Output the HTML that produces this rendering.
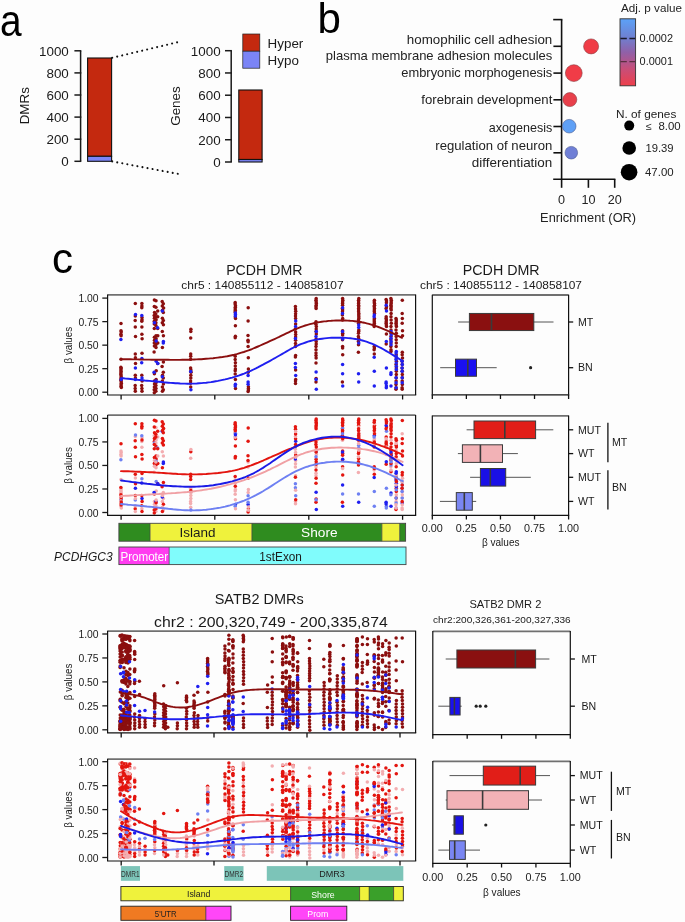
<!DOCTYPE html>
<html><head><meta charset="utf-8"><style>
html,body{margin:0;padding:0;background:#fff;}
svg{display:block;font-family:"Liberation Sans", sans-serif;will-change:transform;}
</style></head><body>
<svg width="685" height="922" viewBox="0 0 685 922" fill="#1a1a1a">
<rect width="685" height="922" fill="#fdfdfd"/>
<text x="0.00" y="35.50" font-size="43.5" fill="#000" textLength="21.6" lengthAdjust="spacingAndGlyphs">a</text>
<line x1="80.60" y1="50.80" x2="80.60" y2="161.30" stroke="#1a1a1a" stroke-width="1.5" />
<line x1="74.40" y1="161.30" x2="81.30" y2="161.30" stroke="#1a1a1a" stroke-width="1.5" />
<text x="68.80" y="166.10" font-size="13.4" text-anchor="end">0</text>
<line x1="74.40" y1="139.20" x2="81.30" y2="139.20" stroke="#1a1a1a" stroke-width="1.5" />
<text x="68.80" y="144.00" font-size="13.4" text-anchor="end">200</text>
<line x1="74.40" y1="117.10" x2="81.30" y2="117.10" stroke="#1a1a1a" stroke-width="1.5" />
<text x="68.80" y="121.90" font-size="13.4" text-anchor="end">400</text>
<line x1="74.40" y1="95.00" x2="81.30" y2="95.00" stroke="#1a1a1a" stroke-width="1.5" />
<text x="68.80" y="99.80" font-size="13.4" text-anchor="end">600</text>
<line x1="74.40" y1="72.90" x2="81.30" y2="72.90" stroke="#1a1a1a" stroke-width="1.5" />
<text x="68.80" y="77.70" font-size="13.4" text-anchor="end">800</text>
<line x1="74.40" y1="50.80" x2="81.30" y2="50.80" stroke="#1a1a1a" stroke-width="1.5" />
<text x="68.80" y="55.60" font-size="13.4" text-anchor="end">1000</text>
<text x="29.20" y="105.70" font-size="13.4" text-anchor="middle" transform="rotate(-90 29.20 105.70)">DMRs</text>
<rect x="87.60" y="58.00" width="24.00" height="98.30" fill="#c4290f" stroke="#111" stroke-width="1.1"/>
<rect x="87.60" y="156.30" width="24.00" height="5.00" fill="#7b84f6" stroke="#111" stroke-width="1.1"/>
<line x1="231.20" y1="50.70" x2="231.20" y2="162.00" stroke="#1a1a1a" stroke-width="1.5" />
<line x1="225.00" y1="162.00" x2="231.90" y2="162.00" stroke="#1a1a1a" stroke-width="1.5" />
<text x="220.60" y="166.80" font-size="13.4" text-anchor="end">0</text>
<line x1="225.00" y1="139.74" x2="231.90" y2="139.74" stroke="#1a1a1a" stroke-width="1.5" />
<text x="220.60" y="144.54" font-size="13.4" text-anchor="end">200</text>
<line x1="225.00" y1="117.48" x2="231.90" y2="117.48" stroke="#1a1a1a" stroke-width="1.5" />
<text x="220.60" y="122.28" font-size="13.4" text-anchor="end">400</text>
<line x1="225.00" y1="95.22" x2="231.90" y2="95.22" stroke="#1a1a1a" stroke-width="1.5" />
<text x="220.60" y="100.02" font-size="13.4" text-anchor="end">600</text>
<line x1="225.00" y1="72.96" x2="231.90" y2="72.96" stroke="#1a1a1a" stroke-width="1.5" />
<text x="220.60" y="77.76" font-size="13.4" text-anchor="end">800</text>
<line x1="225.00" y1="50.70" x2="231.90" y2="50.70" stroke="#1a1a1a" stroke-width="1.5" />
<text x="220.60" y="55.50" font-size="13.4" text-anchor="end">1000</text>
<text x="179.60" y="106.00" font-size="13.4" text-anchor="middle" transform="rotate(-90 179.60 106.00)">Genes</text>
<rect x="238.80" y="90.00" width="23.30" height="69.50" fill="#c4290f" stroke="#111" stroke-width="1.1"/>
<rect x="238.80" y="159.50" width="23.30" height="2.50" fill="#7b84f6" stroke="#111" stroke-width="1.1"/>
<line x1="112.20" y1="57.80" x2="178.60" y2="42.00" stroke="#111" stroke-width="2.1" stroke-dasharray="0.01 5.12" stroke-linecap="round"/>
<line x1="112.20" y1="161.40" x2="178.80" y2="174.00" stroke="#111" stroke-width="2.1" stroke-dasharray="0.01 5.12" stroke-linecap="round"/>
<rect x="242.80" y="34.00" width="17.00" height="17.20" fill="#c4290f" stroke="#222" stroke-width="0.7"/>
<rect x="242.80" y="51.20" width="17.00" height="17.00" fill="#7b84f6" stroke="#222" stroke-width="0.7"/>
<text x="267.60" y="48.20" font-size="13.4">Hyper</text>
<text x="267.60" y="65.40" font-size="13.4">Hypo</text>
<text x="317.40" y="33.00" font-size="42" fill="#000">b</text>
<line x1="561.60" y1="19.60" x2="561.60" y2="179.20" stroke="#111" stroke-width="1.6" />
<line x1="553.20" y1="19.60" x2="562.40" y2="19.60" stroke="#111" stroke-width="1.6" />
<line x1="553.20" y1="179.20" x2="615.40" y2="179.20" stroke="#111" stroke-width="1.6" />
<line x1="553.40" y1="46.30" x2="561.60" y2="46.30" stroke="#111" stroke-width="1.6" />
<line x1="553.40" y1="73.10" x2="561.60" y2="73.10" stroke="#111" stroke-width="1.6" />
<line x1="553.40" y1="99.80" x2="561.60" y2="99.80" stroke="#111" stroke-width="1.6" />
<line x1="553.40" y1="126.50" x2="561.60" y2="126.50" stroke="#111" stroke-width="1.6" />
<line x1="553.40" y1="152.80" x2="561.60" y2="152.80" stroke="#111" stroke-width="1.6" />
<line x1="561.60" y1="179.20" x2="561.60" y2="187.80" stroke="#111" stroke-width="1.6" />
<line x1="588.40" y1="179.20" x2="588.40" y2="187.80" stroke="#111" stroke-width="1.6" />
<line x1="614.70" y1="179.20" x2="614.70" y2="187.80" stroke="#111" stroke-width="1.6" />
<text x="561.60" y="204.30" font-size="12.6" text-anchor="middle" fill="#222">0</text>
<text x="588.40" y="204.30" font-size="12.6" text-anchor="middle" fill="#222">10</text>
<text x="614.70" y="204.30" font-size="12.6" text-anchor="middle" fill="#222">20</text>
<text x="588.10" y="222.30" font-size="12.6" text-anchor="middle" fill="#222" textLength="96" lengthAdjust="spacingAndGlyphs">Enrichment (OR)</text>
<text x="552.30" y="44.20" font-size="12.8" text-anchor="end" fill="#222" textLength="145.5" lengthAdjust="spacingAndGlyphs">homophilic cell adhesion</text>
<text x="552.30" y="60.00" font-size="12.8" text-anchor="end" fill="#222" textLength="226.5" lengthAdjust="spacingAndGlyphs">plasma membrane adhesion molecules</text>
<text x="552.30" y="76.90" font-size="12.8" text-anchor="end" fill="#222" textLength="151" lengthAdjust="spacingAndGlyphs">embryonic morphogenesis</text>
<text x="552.30" y="104.40" font-size="12.8" text-anchor="end" fill="#222" textLength="131" lengthAdjust="spacingAndGlyphs">forebrain development</text>
<text x="552.30" y="131.60" font-size="12.8" text-anchor="end" fill="#222" textLength="63.5" lengthAdjust="spacingAndGlyphs">axogenesis</text>
<text x="552.30" y="149.60" font-size="12.8" text-anchor="end" fill="#222" textLength="117" lengthAdjust="spacingAndGlyphs">regulation of neuron</text>
<text x="552.30" y="166.60" font-size="12.8" text-anchor="end" fill="#222" textLength="80.5" lengthAdjust="spacingAndGlyphs">differentiation</text>
<circle cx="591.10" cy="46.40" r="7.50" fill="#f03c46" stroke="#8a3a40" stroke-width="0.6"/>
<circle cx="573.80" cy="73.10" r="8.40" fill="#f03c47" stroke="#8a3a40" stroke-width="0.6"/>
<circle cx="569.80" cy="99.60" r="7.00" fill="#e8404b" stroke="#8a3a40" stroke-width="0.6"/>
<circle cx="569.20" cy="126.20" r="6.80" fill="#5fa0f6" stroke="#4a5a90" stroke-width="0.6"/>
<circle cx="571.30" cy="152.70" r="6.30" fill="#6f7fd6" stroke="#4a5a90" stroke-width="0.6"/>
<defs><linearGradient id="cb" x1="0" y1="0" x2="0" y2="1"><stop offset="0" stop-color="#5ca2f8"/><stop offset="0.28" stop-color="#6f80d0"/><stop offset="0.5" stop-color="#9060a8"/><stop offset="0.75" stop-color="#c84e78"/><stop offset="1" stop-color="#ee3f4b"/></linearGradient></defs>
<rect x="620.00" y="18.80" width="15.60" height="67.00" fill="url(#cb)" stroke="#333" stroke-width="0.9"/>
<line x1="620.40" y1="38.50" x2="635.20" y2="38.50" stroke="#1a1a2a" stroke-width="1.3" stroke-dasharray="6.4 2.6"/>
<line x1="620.40" y1="61.70" x2="635.20" y2="61.70" stroke="#5a3040" stroke-width="1.3" stroke-dasharray="6.4 2.6"/>
<text x="639.60" y="41.60" font-size="10.6" fill="#222" textLength="33.4" lengthAdjust="spacingAndGlyphs">0.0002</text>
<text x="639.60" y="65.00" font-size="10.6" fill="#222" textLength="33.4" lengthAdjust="spacingAndGlyphs">0.0001</text>
<text x="621.00" y="12.40" font-size="10.6" fill="#222" textLength="61" lengthAdjust="spacingAndGlyphs">Adj. p value</text>
<text x="616.00" y="117.90" font-size="10.6" fill="#222" textLength="60.3" lengthAdjust="spacingAndGlyphs">N. of genes</text>
<circle cx="629.20" cy="125.60" r="5.00" fill="#000"/>
<circle cx="629.20" cy="148.00" r="6.80" fill="#000"/>
<circle cx="629.10" cy="172.20" r="8.30" fill="#000"/>
<text x="646.00" y="130.00" font-size="10.6" fill="#222">≤</text>
<text x="658.40" y="130.00" font-size="10.6" fill="#222" textLength="22.2" lengthAdjust="spacingAndGlyphs">8.00</text>
<text x="645.40" y="151.90" font-size="10.6" fill="#222" textLength="28.2" lengthAdjust="spacingAndGlyphs">19.39</text>
<text x="645.00" y="175.90" font-size="10.6" fill="#222" textLength="28.6" lengthAdjust="spacingAndGlyphs">47.00</text>
<text x="52.00" y="272.60" font-size="42" fill="#000">c</text>
<text x="264.30" y="275.20" font-size="14.0" text-anchor="middle" textLength="76.3" lengthAdjust="spacingAndGlyphs">PCDH DMR</text>
<text x="262.50" y="289.20" font-size="11.0" text-anchor="middle" textLength="162.3" lengthAdjust="spacingAndGlyphs">chr5 : 140855112 - 140858107</text>
<line x1="102.30" y1="392.20" x2="107.60" y2="392.20" stroke="#1a1a1a" stroke-width="1.3" />
<text x="98.60" y="396.20" font-size="10.3" text-anchor="end" textLength="20.2" lengthAdjust="spacingAndGlyphs">0.00</text>
<line x1="102.30" y1="368.68" x2="107.60" y2="368.68" stroke="#1a1a1a" stroke-width="1.3" />
<text x="98.60" y="372.68" font-size="10.3" text-anchor="end" textLength="20.2" lengthAdjust="spacingAndGlyphs">0.25</text>
<line x1="102.30" y1="345.15" x2="107.60" y2="345.15" stroke="#1a1a1a" stroke-width="1.3" />
<text x="98.60" y="349.15" font-size="10.3" text-anchor="end" textLength="20.2" lengthAdjust="spacingAndGlyphs">0.50</text>
<line x1="102.30" y1="321.62" x2="107.60" y2="321.62" stroke="#1a1a1a" stroke-width="1.3" />
<text x="98.60" y="325.62" font-size="10.3" text-anchor="end" textLength="20.2" lengthAdjust="spacingAndGlyphs">0.75</text>
<line x1="102.30" y1="298.10" x2="107.60" y2="298.10" stroke="#1a1a1a" stroke-width="1.3" />
<text x="98.60" y="302.10" font-size="10.3" text-anchor="end" textLength="20.2" lengthAdjust="spacingAndGlyphs">1.00</text>
<text x="72.20" y="345.15" font-size="10.2" text-anchor="middle" textLength="36.5" lengthAdjust="spacingAndGlyphs" transform="rotate(-90 72.20 345.15)">β values</text>
<g><circle cx="121.0" cy="323.4" r="1.75" fill="#8b0f0f"/><circle cx="121.0" cy="330.7" r="1.75" fill="#8b0f0f"/><circle cx="121.2" cy="332.1" r="1.75" fill="#8b0f0f"/><circle cx="120.9" cy="334.3" r="1.75" fill="#8b0f0f"/><circle cx="121.1" cy="335.8" r="1.75" fill="#8b0f0f"/><circle cx="121.0" cy="359.2" r="1.75" fill="#8b0f0f"/><circle cx="120.9" cy="367.2" r="1.75" fill="#8b0f0f"/><circle cx="121.1" cy="368.6" r="1.75" fill="#8b0f0f"/><circle cx="120.9" cy="370.1" r="1.75" fill="#8b0f0f"/><circle cx="121.1" cy="371.6" r="1.75" fill="#8b0f0f"/><circle cx="120.9" cy="373.0" r="1.75" fill="#8b0f0f"/><circle cx="120.9" cy="374.5" r="1.75" fill="#8b0f0f"/><circle cx="121.1" cy="375.9" r="1.75" fill="#8b0f0f"/><circle cx="121.2" cy="377.4" r="1.75" fill="#8b0f0f"/><circle cx="120.9" cy="378.9" r="1.75" fill="#8b0f0f"/><circle cx="121.0" cy="380.3" r="1.75" fill="#8b0f0f"/><circle cx="121.2" cy="381.8" r="1.75" fill="#8b0f0f"/><circle cx="121.3" cy="383.2" r="1.75" fill="#8b0f0f"/><circle cx="121.1" cy="384.7" r="1.75" fill="#8b0f0f"/><circle cx="121.1" cy="386.2" r="1.75" fill="#8b0f0f"/><circle cx="121.3" cy="387.6" r="1.75" fill="#8b0f0f"/><circle cx="135.3" cy="303.4" r="1.75" fill="#8b0f0f"/><circle cx="135.3" cy="316.1" r="1.75" fill="#8b0f0f"/><circle cx="135.2" cy="320.5" r="1.75" fill="#8b0f0f"/><circle cx="135.3" cy="327.0" r="1.75" fill="#8b0f0f"/><circle cx="135.5" cy="336.5" r="1.75" fill="#8b0f0f"/><circle cx="135.3" cy="354.0" r="1.75" fill="#8b0f0f"/><circle cx="135.4" cy="357.7" r="1.75" fill="#8b0f0f"/><circle cx="135.5" cy="363.5" r="1.75" fill="#8b0f0f"/><circle cx="135.3" cy="375.2" r="1.75" fill="#8b0f0f"/><circle cx="135.4" cy="378.1" r="1.75" fill="#8b0f0f"/><circle cx="135.2" cy="385.4" r="1.75" fill="#8b0f0f"/><circle cx="135.2" cy="388.4" r="1.75" fill="#8b0f0f"/><circle cx="135.3" cy="391.3" r="1.75" fill="#8b0f0f"/><circle cx="141.9" cy="303.4" r="1.75" fill="#8b0f0f"/><circle cx="141.9" cy="305.9" r="1.75" fill="#8b0f0f"/><circle cx="141.8" cy="307.8" r="1.75" fill="#8b0f0f"/><circle cx="142.0" cy="317.5" r="1.75" fill="#8b0f0f"/><circle cx="142.0" cy="319.7" r="1.75" fill="#8b0f0f"/><circle cx="141.8" cy="321.2" r="1.75" fill="#8b0f0f"/><circle cx="141.9" cy="327.0" r="1.75" fill="#8b0f0f"/><circle cx="141.9" cy="334.3" r="1.75" fill="#8b0f0f"/><circle cx="142.1" cy="338.7" r="1.75" fill="#8b0f0f"/><circle cx="142.0" cy="353.3" r="1.75" fill="#8b0f0f"/><circle cx="141.8" cy="375.2" r="1.75" fill="#8b0f0f"/><circle cx="142.1" cy="381.1" r="1.75" fill="#8b0f0f"/><circle cx="141.7" cy="385.4" r="1.75" fill="#8b0f0f"/><circle cx="141.9" cy="388.4" r="1.75" fill="#8b0f0f"/><circle cx="142.0" cy="391.3" r="1.75" fill="#8b0f0f"/><circle cx="154.4" cy="300.0" r="1.75" fill="#8b0f0f"/><circle cx="154.3" cy="306.6" r="1.75" fill="#8b0f0f"/><circle cx="154.5" cy="312.4" r="1.75" fill="#8b0f0f"/><circle cx="154.2" cy="315.4" r="1.75" fill="#8b0f0f"/><circle cx="154.4" cy="318.3" r="1.75" fill="#8b0f0f"/><circle cx="154.3" cy="321.2" r="1.75" fill="#8b0f0f"/><circle cx="154.3" cy="324.1" r="1.75" fill="#8b0f0f"/><circle cx="154.3" cy="328.5" r="1.75" fill="#8b0f0f"/><circle cx="154.4" cy="337.3" r="1.75" fill="#8b0f0f"/><circle cx="154.5" cy="340.2" r="1.75" fill="#8b0f0f"/><circle cx="154.3" cy="343.1" r="1.75" fill="#8b0f0f"/><circle cx="154.4" cy="346.0" r="1.75" fill="#8b0f0f"/><circle cx="154.1" cy="351.9" r="1.75" fill="#8b0f0f"/><circle cx="154.4" cy="373.8" r="1.75" fill="#8b0f0f"/><circle cx="154.4" cy="381.1" r="1.75" fill="#8b0f0f"/><circle cx="154.5" cy="384.0" r="1.75" fill="#8b0f0f"/><circle cx="154.4" cy="386.9" r="1.75" fill="#8b0f0f"/><circle cx="154.2" cy="389.8" r="1.75" fill="#8b0f0f"/><circle cx="154.3" cy="392.7" r="1.75" fill="#8b0f0f"/><circle cx="156.0" cy="300.8" r="1.75" fill="#8b0f0f"/><circle cx="155.9" cy="307.3" r="1.75" fill="#8b0f0f"/><circle cx="155.8" cy="313.9" r="1.75" fill="#8b0f0f"/><circle cx="155.8" cy="316.8" r="1.75" fill="#8b0f0f"/><circle cx="156.1" cy="319.7" r="1.75" fill="#8b0f0f"/><circle cx="155.9" cy="322.7" r="1.75" fill="#8b0f0f"/><circle cx="155.9" cy="325.6" r="1.75" fill="#8b0f0f"/><circle cx="156.0" cy="335.8" r="1.75" fill="#8b0f0f"/><circle cx="156.1" cy="338.7" r="1.75" fill="#8b0f0f"/><circle cx="155.8" cy="341.6" r="1.75" fill="#8b0f0f"/><circle cx="156.0" cy="344.6" r="1.75" fill="#8b0f0f"/><circle cx="156.0" cy="347.5" r="1.75" fill="#8b0f0f"/><circle cx="156.2" cy="370.8" r="1.75" fill="#8b0f0f"/><circle cx="156.1" cy="379.6" r="1.75" fill="#8b0f0f"/><circle cx="156.1" cy="382.5" r="1.75" fill="#8b0f0f"/><circle cx="155.9" cy="385.4" r="1.75" fill="#8b0f0f"/><circle cx="156.0" cy="388.4" r="1.75" fill="#8b0f0f"/><circle cx="155.9" cy="391.3" r="1.75" fill="#8b0f0f"/><circle cx="157.7" cy="311.0" r="1.75" fill="#8b0f0f"/><circle cx="157.7" cy="316.8" r="1.75" fill="#8b0f0f"/><circle cx="157.7" cy="328.5" r="1.75" fill="#8b0f0f"/><circle cx="157.8" cy="335.8" r="1.75" fill="#8b0f0f"/><circle cx="157.8" cy="343.1" r="1.75" fill="#8b0f0f"/><circle cx="157.7" cy="363.5" r="1.75" fill="#8b0f0f"/><circle cx="162.2" cy="301.5" r="1.75" fill="#8b0f0f"/><circle cx="162.3" cy="305.9" r="1.75" fill="#8b0f0f"/><circle cx="162.5" cy="310.2" r="1.75" fill="#8b0f0f"/><circle cx="162.4" cy="318.3" r="1.75" fill="#8b0f0f"/><circle cx="162.3" cy="322.7" r="1.75" fill="#8b0f0f"/><circle cx="162.3" cy="331.4" r="1.75" fill="#8b0f0f"/><circle cx="162.4" cy="347.5" r="1.75" fill="#8b0f0f"/><circle cx="162.1" cy="366.5" r="1.75" fill="#8b0f0f"/><circle cx="162.5" cy="375.2" r="1.75" fill="#8b0f0f"/><circle cx="162.4" cy="381.1" r="1.75" fill="#8b0f0f"/><circle cx="162.4" cy="386.9" r="1.75" fill="#8b0f0f"/><circle cx="162.4" cy="391.3" r="1.75" fill="#8b0f0f"/><circle cx="163.3" cy="303.7" r="1.75" fill="#8b0f0f"/><circle cx="163.6" cy="308.1" r="1.75" fill="#8b0f0f"/><circle cx="163.3" cy="312.4" r="1.75" fill="#8b0f0f"/><circle cx="163.3" cy="320.5" r="1.75" fill="#8b0f0f"/><circle cx="163.4" cy="324.8" r="1.75" fill="#8b0f0f"/><circle cx="163.4" cy="335.8" r="1.75" fill="#8b0f0f"/><circle cx="163.4" cy="362.1" r="1.75" fill="#8b0f0f"/><circle cx="163.3" cy="372.3" r="1.75" fill="#8b0f0f"/><circle cx="163.3" cy="378.1" r="1.75" fill="#8b0f0f"/><circle cx="163.4" cy="384.0" r="1.75" fill="#8b0f0f"/><circle cx="163.3" cy="389.8" r="1.75" fill="#8b0f0f"/><circle cx="190.9" cy="329.2" r="1.75" fill="#8b0f0f"/><circle cx="190.8" cy="331.4" r="1.75" fill="#8b0f0f"/><circle cx="190.7" cy="338.0" r="1.75" fill="#8b0f0f"/><circle cx="190.7" cy="354.0" r="1.75" fill="#8b0f0f"/><circle cx="190.7" cy="356.2" r="1.75" fill="#8b0f0f"/><circle cx="190.7" cy="359.2" r="1.75" fill="#8b0f0f"/><circle cx="190.6" cy="367.9" r="1.75" fill="#8b0f0f"/><circle cx="190.9" cy="370.1" r="1.75" fill="#8b0f0f"/><circle cx="191.0" cy="372.3" r="1.75" fill="#8b0f0f"/><circle cx="190.8" cy="375.2" r="1.75" fill="#8b0f0f"/><circle cx="190.8" cy="378.1" r="1.75" fill="#8b0f0f"/><circle cx="190.6" cy="381.1" r="1.75" fill="#8b0f0f"/><circle cx="190.6" cy="383.2" r="1.75" fill="#8b0f0f"/><circle cx="190.7" cy="386.9" r="1.75" fill="#8b0f0f"/><circle cx="235.2" cy="302.4" r="1.75" fill="#8b0f0f"/><circle cx="235.1" cy="304.0" r="1.75" fill="#8b0f0f"/><circle cx="235.5" cy="305.7" r="1.75" fill="#8b0f0f"/><circle cx="235.3" cy="307.3" r="1.75" fill="#8b0f0f"/><circle cx="235.2" cy="308.9" r="1.75" fill="#8b0f0f"/><circle cx="235.3" cy="310.5" r="1.75" fill="#8b0f0f"/><circle cx="235.1" cy="312.1" r="1.75" fill="#8b0f0f"/><circle cx="235.3" cy="316.9" r="1.75" fill="#8b0f0f"/><circle cx="235.5" cy="318.5" r="1.75" fill="#8b0f0f"/><circle cx="235.4" cy="325.7" r="1.75" fill="#8b0f0f"/><circle cx="235.4" cy="336.2" r="1.75" fill="#8b0f0f"/><circle cx="235.2" cy="337.8" r="1.75" fill="#8b0f0f"/><circle cx="235.2" cy="356.2" r="1.75" fill="#8b0f0f"/><circle cx="235.2" cy="359.4" r="1.75" fill="#8b0f0f"/><circle cx="235.4" cy="362.7" r="1.75" fill="#8b0f0f"/><circle cx="235.3" cy="365.9" r="1.75" fill="#8b0f0f"/><circle cx="235.4" cy="369.1" r="1.75" fill="#8b0f0f"/><circle cx="235.2" cy="370.7" r="1.75" fill="#8b0f0f"/><circle cx="235.2" cy="373.9" r="1.75" fill="#8b0f0f"/><circle cx="235.4" cy="379.5" r="1.75" fill="#8b0f0f"/><circle cx="235.5" cy="388.4" r="1.75" fill="#8b0f0f"/><circle cx="248.2" cy="307.7" r="1.75" fill="#8b0f0f"/><circle cx="248.1" cy="320.9" r="1.75" fill="#8b0f0f"/><circle cx="248.0" cy="335.4" r="1.75" fill="#8b0f0f"/><circle cx="248.0" cy="340.2" r="1.75" fill="#8b0f0f"/><circle cx="248.1" cy="341.8" r="1.75" fill="#8b0f0f"/><circle cx="248.1" cy="346.6" r="1.75" fill="#8b0f0f"/><circle cx="248.3" cy="357.8" r="1.75" fill="#8b0f0f"/><circle cx="248.4" cy="369.1" r="1.75" fill="#8b0f0f"/><circle cx="248.2" cy="372.3" r="1.75" fill="#8b0f0f"/><circle cx="248.4" cy="386.7" r="1.75" fill="#8b0f0f"/><circle cx="248.4" cy="388.4" r="1.75" fill="#8b0f0f"/><circle cx="248.4" cy="390.0" r="1.75" fill="#8b0f0f"/><circle cx="248.1" cy="391.6" r="1.75" fill="#8b0f0f"/><circle cx="295.4" cy="306.5" r="1.75" fill="#8b0f0f"/><circle cx="295.5" cy="308.9" r="1.75" fill="#8b0f0f"/><circle cx="295.7" cy="311.3" r="1.75" fill="#8b0f0f"/><circle cx="295.6" cy="313.7" r="1.75" fill="#8b0f0f"/><circle cx="295.5" cy="316.1" r="1.75" fill="#8b0f0f"/><circle cx="295.6" cy="318.5" r="1.75" fill="#8b0f0f"/><circle cx="295.6" cy="324.1" r="1.75" fill="#8b0f0f"/><circle cx="295.3" cy="328.9" r="1.75" fill="#8b0f0f"/><circle cx="295.6" cy="332.1" r="1.75" fill="#8b0f0f"/><circle cx="295.7" cy="334.6" r="1.75" fill="#8b0f0f"/><circle cx="295.6" cy="337.0" r="1.75" fill="#8b0f0f"/><circle cx="295.6" cy="340.2" r="1.75" fill="#8b0f0f"/><circle cx="295.5" cy="343.4" r="1.75" fill="#8b0f0f"/><circle cx="295.4" cy="346.6" r="1.75" fill="#8b0f0f"/><circle cx="295.6" cy="355.4" r="1.75" fill="#8b0f0f"/><circle cx="295.4" cy="357.0" r="1.75" fill="#8b0f0f"/><circle cx="295.6" cy="369.9" r="1.75" fill="#8b0f0f"/><circle cx="295.7" cy="379.5" r="1.75" fill="#8b0f0f"/><circle cx="295.5" cy="381.1" r="1.75" fill="#8b0f0f"/><circle cx="295.5" cy="383.5" r="1.75" fill="#8b0f0f"/><circle cx="316.2" cy="298.6" r="1.75" fill="#8b0f0f"/><circle cx="316.0" cy="300.2" r="1.75" fill="#8b0f0f"/><circle cx="316.2" cy="301.9" r="1.75" fill="#8b0f0f"/><circle cx="316.3" cy="303.5" r="1.75" fill="#8b0f0f"/><circle cx="316.2" cy="305.2" r="1.75" fill="#8b0f0f"/><circle cx="316.0" cy="306.8" r="1.75" fill="#8b0f0f"/><circle cx="316.1" cy="308.5" r="1.75" fill="#8b0f0f"/><circle cx="316.0" cy="321.7" r="1.75" fill="#8b0f0f"/><circle cx="315.9" cy="324.2" r="1.75" fill="#8b0f0f"/><circle cx="316.3" cy="326.6" r="1.75" fill="#8b0f0f"/><circle cx="316.2" cy="329.1" r="1.75" fill="#8b0f0f"/><circle cx="316.1" cy="331.6" r="1.75" fill="#8b0f0f"/><circle cx="316.3" cy="334.1" r="1.75" fill="#8b0f0f"/><circle cx="316.1" cy="339.0" r="1.75" fill="#8b0f0f"/><circle cx="316.2" cy="341.5" r="1.75" fill="#8b0f0f"/><circle cx="316.2" cy="344.0" r="1.75" fill="#8b0f0f"/><circle cx="316.0" cy="346.4" r="1.75" fill="#8b0f0f"/><circle cx="316.0" cy="349.7" r="1.75" fill="#8b0f0f"/><circle cx="316.0" cy="353.0" r="1.75" fill="#8b0f0f"/><circle cx="316.0" cy="355.5" r="1.75" fill="#8b0f0f"/><circle cx="316.1" cy="358.0" r="1.75" fill="#8b0f0f"/><circle cx="316.0" cy="362.9" r="1.75" fill="#8b0f0f"/><circle cx="316.1" cy="378.6" r="1.75" fill="#8b0f0f"/><circle cx="316.0" cy="381.9" r="1.75" fill="#8b0f0f"/><circle cx="342.6" cy="298.6" r="1.75" fill="#8b0f0f"/><circle cx="342.8" cy="300.2" r="1.75" fill="#8b0f0f"/><circle cx="342.6" cy="301.9" r="1.75" fill="#8b0f0f"/><circle cx="342.6" cy="303.5" r="1.75" fill="#8b0f0f"/><circle cx="342.6" cy="305.2" r="1.75" fill="#8b0f0f"/><circle cx="342.4" cy="308.5" r="1.75" fill="#8b0f0f"/><circle cx="342.6" cy="310.1" r="1.75" fill="#8b0f0f"/><circle cx="342.5" cy="311.8" r="1.75" fill="#8b0f0f"/><circle cx="342.4" cy="315.1" r="1.75" fill="#8b0f0f"/><circle cx="342.7" cy="318.4" r="1.75" fill="#8b0f0f"/><circle cx="342.5" cy="320.0" r="1.75" fill="#8b0f0f"/><circle cx="342.6" cy="330.8" r="1.75" fill="#8b0f0f"/><circle cx="342.7" cy="333.2" r="1.75" fill="#8b0f0f"/><circle cx="342.6" cy="334.9" r="1.75" fill="#8b0f0f"/><circle cx="342.5" cy="339.8" r="1.75" fill="#8b0f0f"/><circle cx="342.6" cy="346.4" r="1.75" fill="#8b0f0f"/><circle cx="342.6" cy="348.1" r="1.75" fill="#8b0f0f"/><circle cx="342.7" cy="354.7" r="1.75" fill="#8b0f0f"/><circle cx="342.4" cy="381.9" r="1.75" fill="#8b0f0f"/><circle cx="358.8" cy="298.6" r="1.75" fill="#8b0f0f"/><circle cx="358.6" cy="300.2" r="1.75" fill="#8b0f0f"/><circle cx="358.6" cy="301.9" r="1.75" fill="#8b0f0f"/><circle cx="358.6" cy="303.5" r="1.75" fill="#8b0f0f"/><circle cx="358.6" cy="305.2" r="1.75" fill="#8b0f0f"/><circle cx="358.7" cy="306.8" r="1.75" fill="#8b0f0f"/><circle cx="358.6" cy="308.5" r="1.75" fill="#8b0f0f"/><circle cx="358.6" cy="310.1" r="1.75" fill="#8b0f0f"/><circle cx="358.6" cy="311.8" r="1.75" fill="#8b0f0f"/><circle cx="358.8" cy="313.4" r="1.75" fill="#8b0f0f"/><circle cx="358.7" cy="315.1" r="1.75" fill="#8b0f0f"/><circle cx="358.8" cy="316.7" r="1.75" fill="#8b0f0f"/><circle cx="358.8" cy="318.4" r="1.75" fill="#8b0f0f"/><circle cx="358.5" cy="320.0" r="1.75" fill="#8b0f0f"/><circle cx="358.6" cy="323.3" r="1.75" fill="#8b0f0f"/><circle cx="358.8" cy="329.9" r="1.75" fill="#8b0f0f"/><circle cx="358.7" cy="331.6" r="1.75" fill="#8b0f0f"/><circle cx="358.5" cy="333.2" r="1.75" fill="#8b0f0f"/><circle cx="358.4" cy="336.5" r="1.75" fill="#8b0f0f"/><circle cx="358.6" cy="338.2" r="1.75" fill="#8b0f0f"/><circle cx="358.4" cy="341.5" r="1.75" fill="#8b0f0f"/><circle cx="358.5" cy="344.8" r="1.75" fill="#8b0f0f"/><circle cx="358.4" cy="352.2" r="1.75" fill="#8b0f0f"/><circle cx="374.4" cy="300.2" r="1.75" fill="#8b0f0f"/><circle cx="374.2" cy="301.9" r="1.75" fill="#8b0f0f"/><circle cx="374.5" cy="303.5" r="1.75" fill="#8b0f0f"/><circle cx="374.5" cy="305.2" r="1.75" fill="#8b0f0f"/><circle cx="374.2" cy="306.8" r="1.75" fill="#8b0f0f"/><circle cx="374.5" cy="308.5" r="1.75" fill="#8b0f0f"/><circle cx="374.3" cy="310.1" r="1.75" fill="#8b0f0f"/><circle cx="374.3" cy="311.8" r="1.75" fill="#8b0f0f"/><circle cx="374.5" cy="313.4" r="1.75" fill="#8b0f0f"/><circle cx="374.4" cy="318.4" r="1.75" fill="#8b0f0f"/><circle cx="374.2" cy="320.0" r="1.75" fill="#8b0f0f"/><circle cx="374.3" cy="321.7" r="1.75" fill="#8b0f0f"/><circle cx="374.3" cy="323.3" r="1.75" fill="#8b0f0f"/><circle cx="374.2" cy="325.0" r="1.75" fill="#8b0f0f"/><circle cx="374.2" cy="326.6" r="1.75" fill="#8b0f0f"/><circle cx="374.2" cy="346.4" r="1.75" fill="#8b0f0f"/><circle cx="374.4" cy="348.1" r="1.75" fill="#8b0f0f"/><circle cx="374.1" cy="349.7" r="1.75" fill="#8b0f0f"/><circle cx="374.3" cy="353.9" r="1.75" fill="#8b0f0f"/><circle cx="386.1" cy="299.4" r="1.75" fill="#8b0f0f"/><circle cx="386.5" cy="301.1" r="1.75" fill="#8b0f0f"/><circle cx="386.4" cy="302.7" r="1.75" fill="#8b0f0f"/><circle cx="386.5" cy="306.8" r="1.75" fill="#8b0f0f"/><circle cx="386.1" cy="308.5" r="1.75" fill="#8b0f0f"/><circle cx="386.2" cy="316.7" r="1.75" fill="#8b0f0f"/><circle cx="386.1" cy="318.4" r="1.75" fill="#8b0f0f"/><circle cx="386.4" cy="320.0" r="1.75" fill="#8b0f0f"/><circle cx="386.2" cy="321.7" r="1.75" fill="#8b0f0f"/><circle cx="386.2" cy="323.3" r="1.75" fill="#8b0f0f"/><circle cx="386.3" cy="325.0" r="1.75" fill="#8b0f0f"/><circle cx="386.5" cy="326.6" r="1.75" fill="#8b0f0f"/><circle cx="386.4" cy="334.1" r="1.75" fill="#8b0f0f"/><circle cx="386.2" cy="344.0" r="1.75" fill="#8b0f0f"/><circle cx="390.9" cy="298.6" r="1.75" fill="#8b0f0f"/><circle cx="391.3" cy="300.2" r="1.75" fill="#8b0f0f"/><circle cx="391.2" cy="301.9" r="1.75" fill="#8b0f0f"/><circle cx="391.2" cy="303.5" r="1.75" fill="#8b0f0f"/><circle cx="390.9" cy="305.2" r="1.75" fill="#8b0f0f"/><circle cx="391.2" cy="306.8" r="1.75" fill="#8b0f0f"/><circle cx="390.9" cy="308.5" r="1.75" fill="#8b0f0f"/><circle cx="391.2" cy="310.1" r="1.75" fill="#8b0f0f"/><circle cx="391.1" cy="313.4" r="1.75" fill="#8b0f0f"/><circle cx="391.0" cy="316.7" r="1.75" fill="#8b0f0f"/><circle cx="391.1" cy="320.0" r="1.75" fill="#8b0f0f"/><circle cx="391.3" cy="323.3" r="1.75" fill="#8b0f0f"/><circle cx="391.0" cy="326.6" r="1.75" fill="#8b0f0f"/><circle cx="391.0" cy="329.9" r="1.75" fill="#8b0f0f"/><circle cx="391.1" cy="333.2" r="1.75" fill="#8b0f0f"/><circle cx="391.0" cy="336.5" r="1.75" fill="#8b0f0f"/><circle cx="390.9" cy="339.8" r="1.75" fill="#8b0f0f"/><circle cx="391.0" cy="343.1" r="1.75" fill="#8b0f0f"/><circle cx="390.9" cy="346.4" r="1.75" fill="#8b0f0f"/><circle cx="391.0" cy="349.7" r="1.75" fill="#8b0f0f"/><circle cx="391.0" cy="351.4" r="1.75" fill="#8b0f0f"/><circle cx="396.0" cy="318.4" r="1.75" fill="#8b0f0f"/><circle cx="396.3" cy="320.0" r="1.75" fill="#8b0f0f"/><circle cx="396.2" cy="321.7" r="1.75" fill="#8b0f0f"/><circle cx="396.1" cy="323.3" r="1.75" fill="#8b0f0f"/><circle cx="396.2" cy="325.0" r="1.75" fill="#8b0f0f"/><circle cx="396.4" cy="326.6" r="1.75" fill="#8b0f0f"/><circle cx="396.0" cy="329.9" r="1.75" fill="#8b0f0f"/><circle cx="396.3" cy="333.2" r="1.75" fill="#8b0f0f"/><circle cx="396.2" cy="336.5" r="1.75" fill="#8b0f0f"/><circle cx="396.2" cy="339.8" r="1.75" fill="#8b0f0f"/><circle cx="396.3" cy="343.1" r="1.75" fill="#8b0f0f"/><circle cx="396.2" cy="346.4" r="1.75" fill="#8b0f0f"/><circle cx="396.2" cy="354.7" r="1.75" fill="#8b0f0f"/><circle cx="396.3" cy="358.0" r="1.75" fill="#8b0f0f"/><circle cx="396.4" cy="361.3" r="1.75" fill="#8b0f0f"/><circle cx="396.1" cy="364.6" r="1.75" fill="#8b0f0f"/><circle cx="396.3" cy="367.9" r="1.75" fill="#8b0f0f"/><circle cx="396.3" cy="371.2" r="1.75" fill="#8b0f0f"/><circle cx="396.3" cy="374.5" r="1.75" fill="#8b0f0f"/><circle cx="396.2" cy="377.8" r="1.75" fill="#8b0f0f"/><circle cx="396.1" cy="381.1" r="1.75" fill="#8b0f0f"/><circle cx="396.0" cy="384.4" r="1.75" fill="#8b0f0f"/><circle cx="396.1" cy="387.7" r="1.75" fill="#8b0f0f"/><circle cx="396.0" cy="389.3" r="1.75" fill="#8b0f0f"/><circle cx="402.3" cy="300.2" r="1.75" fill="#8b0f0f"/><circle cx="402.2" cy="313.4" r="1.75" fill="#8b0f0f"/><circle cx="402.3" cy="318.4" r="1.75" fill="#8b0f0f"/><circle cx="402.2" cy="323.3" r="1.75" fill="#8b0f0f"/><circle cx="402.5" cy="330.8" r="1.75" fill="#8b0f0f"/><circle cx="402.5" cy="335.7" r="1.75" fill="#8b0f0f"/><circle cx="402.3" cy="352.2" r="1.75" fill="#8b0f0f"/><circle cx="402.2" cy="354.7" r="1.75" fill="#8b0f0f"/><circle cx="402.5" cy="358.0" r="1.75" fill="#8b0f0f"/><circle cx="402.2" cy="361.3" r="1.75" fill="#8b0f0f"/><circle cx="402.2" cy="364.6" r="1.75" fill="#8b0f0f"/><circle cx="402.1" cy="367.9" r="1.75" fill="#8b0f0f"/><circle cx="402.3" cy="371.2" r="1.75" fill="#8b0f0f"/><circle cx="402.3" cy="374.5" r="1.75" fill="#8b0f0f"/><circle cx="402.3" cy="377.8" r="1.75" fill="#8b0f0f"/><circle cx="402.2" cy="381.1" r="1.75" fill="#8b0f0f"/><circle cx="402.3" cy="384.4" r="1.75" fill="#8b0f0f"/><circle cx="402.1" cy="387.7" r="1.75" fill="#8b0f0f"/><circle cx="402.2" cy="389.3" r="1.75" fill="#8b0f0f"/><circle cx="120.9" cy="339.4" r="1.75" fill="#1f1ff0"/><circle cx="121.2" cy="379.6" r="1.75" fill="#1f1ff0"/><circle cx="135.5" cy="314.6" r="1.75" fill="#1f1ff0"/><circle cx="135.4" cy="367.9" r="1.75" fill="#1f1ff0"/><circle cx="135.3" cy="379.6" r="1.75" fill="#1f1ff0"/><circle cx="141.8" cy="315.4" r="1.75" fill="#1f1ff0"/><circle cx="141.9" cy="358.4" r="1.75" fill="#1f1ff0"/><circle cx="141.7" cy="362.8" r="1.75" fill="#1f1ff0"/><circle cx="142.0" cy="378.1" r="1.75" fill="#1f1ff0"/><circle cx="154.4" cy="322.7" r="1.75" fill="#1f1ff0"/><circle cx="154.1" cy="372.3" r="1.75" fill="#1f1ff0"/><circle cx="156.2" cy="340.9" r="1.75" fill="#1f1ff0"/><circle cx="156.2" cy="361.3" r="1.75" fill="#1f1ff0"/><circle cx="155.9" cy="381.1" r="1.75" fill="#1f1ff0"/><circle cx="157.6" cy="327.8" r="1.75" fill="#1f1ff0"/><circle cx="157.8" cy="363.5" r="1.75" fill="#1f1ff0"/><circle cx="162.3" cy="311.0" r="1.75" fill="#1f1ff0"/><circle cx="162.3" cy="376.7" r="1.75" fill="#1f1ff0"/><circle cx="163.4" cy="341.6" r="1.75" fill="#1f1ff0"/><circle cx="163.3" cy="343.1" r="1.75" fill="#1f1ff0"/><circle cx="190.7" cy="371.6" r="1.75" fill="#1f1ff0"/><circle cx="190.9" cy="389.8" r="1.75" fill="#1f1ff0"/><circle cx="235.4" cy="312.9" r="1.75" fill="#1f1ff0"/><circle cx="235.4" cy="314.5" r="1.75" fill="#1f1ff0"/><circle cx="235.4" cy="316.1" r="1.75" fill="#1f1ff0"/><circle cx="235.4" cy="384.3" r="1.75" fill="#1f1ff0"/><circle cx="235.2" cy="385.9" r="1.75" fill="#1f1ff0"/><circle cx="248.1" cy="375.5" r="1.75" fill="#1f1ff0"/><circle cx="248.1" cy="381.9" r="1.75" fill="#1f1ff0"/><circle cx="248.1" cy="384.3" r="1.75" fill="#1f1ff0"/><circle cx="295.7" cy="320.9" r="1.75" fill="#1f1ff0"/><circle cx="295.6" cy="326.5" r="1.75" fill="#1f1ff0"/><circle cx="295.4" cy="338.6" r="1.75" fill="#1f1ff0"/><circle cx="295.4" cy="363.5" r="1.75" fill="#1f1ff0"/><circle cx="295.4" cy="367.5" r="1.75" fill="#1f1ff0"/><circle cx="295.7" cy="375.5" r="1.75" fill="#1f1ff0"/><circle cx="316.3" cy="331.6" r="1.75" fill="#1f1ff0"/><circle cx="316.0" cy="336.5" r="1.75" fill="#1f1ff0"/><circle cx="316.1" cy="372.0" r="1.75" fill="#1f1ff0"/><circle cx="316.1" cy="379.4" r="1.75" fill="#1f1ff0"/><circle cx="316.3" cy="389.3" r="1.75" fill="#1f1ff0"/><circle cx="342.6" cy="307.7" r="1.75" fill="#1f1ff0"/><circle cx="342.5" cy="313.4" r="1.75" fill="#1f1ff0"/><circle cx="342.5" cy="331.6" r="1.75" fill="#1f1ff0"/><circle cx="342.7" cy="339.0" r="1.75" fill="#1f1ff0"/><circle cx="342.6" cy="364.6" r="1.75" fill="#1f1ff0"/><circle cx="342.6" cy="373.7" r="1.75" fill="#1f1ff0"/><circle cx="342.7" cy="386.0" r="1.75" fill="#1f1ff0"/><circle cx="358.7" cy="325.0" r="1.75" fill="#1f1ff0"/><circle cx="358.7" cy="327.5" r="1.75" fill="#1f1ff0"/><circle cx="358.8" cy="343.1" r="1.75" fill="#1f1ff0"/><circle cx="358.5" cy="373.7" r="1.75" fill="#1f1ff0"/><circle cx="358.7" cy="381.9" r="1.75" fill="#1f1ff0"/><circle cx="374.3" cy="315.1" r="1.75" fill="#1f1ff0"/><circle cx="374.1" cy="316.7" r="1.75" fill="#1f1ff0"/><circle cx="374.2" cy="357.2" r="1.75" fill="#1f1ff0"/><circle cx="374.3" cy="371.2" r="1.75" fill="#1f1ff0"/><circle cx="374.3" cy="386.0" r="1.75" fill="#1f1ff0"/><circle cx="386.2" cy="305.2" r="1.75" fill="#1f1ff0"/><circle cx="386.5" cy="311.0" r="1.75" fill="#1f1ff0"/><circle cx="386.3" cy="341.5" r="1.75" fill="#1f1ff0"/><circle cx="386.4" cy="367.9" r="1.75" fill="#1f1ff0"/><circle cx="386.1" cy="381.9" r="1.75" fill="#1f1ff0"/><circle cx="386.1" cy="383.6" r="1.75" fill="#1f1ff0"/><circle cx="386.4" cy="386.0" r="1.75" fill="#1f1ff0"/><circle cx="386.3" cy="387.7" r="1.75" fill="#1f1ff0"/><circle cx="391.0" cy="331.6" r="1.75" fill="#1f1ff0"/><circle cx="391.2" cy="334.9" r="1.75" fill="#1f1ff0"/><circle cx="391.0" cy="338.2" r="1.75" fill="#1f1ff0"/><circle cx="391.1" cy="341.5" r="1.75" fill="#1f1ff0"/><circle cx="391.0" cy="344.8" r="1.75" fill="#1f1ff0"/><circle cx="391.0" cy="372.8" r="1.75" fill="#1f1ff0"/><circle cx="390.9" cy="374.5" r="1.75" fill="#1f1ff0"/><circle cx="391.0" cy="386.0" r="1.75" fill="#1f1ff0"/><circle cx="396.3" cy="351.4" r="1.75" fill="#1f1ff0"/><circle cx="396.1" cy="353.0" r="1.75" fill="#1f1ff0"/><circle cx="396.1" cy="356.3" r="1.75" fill="#1f1ff0"/><circle cx="396.0" cy="359.6" r="1.75" fill="#1f1ff0"/><circle cx="396.3" cy="362.9" r="1.75" fill="#1f1ff0"/><circle cx="396.3" cy="366.2" r="1.75" fill="#1f1ff0"/><circle cx="396.3" cy="369.5" r="1.75" fill="#1f1ff0"/><circle cx="396.1" cy="377.8" r="1.75" fill="#1f1ff0"/><circle cx="396.1" cy="382.7" r="1.75" fill="#1f1ff0"/><circle cx="396.1" cy="387.7" r="1.75" fill="#1f1ff0"/><circle cx="402.1" cy="361.3" r="1.75" fill="#1f1ff0"/><circle cx="402.3" cy="364.6" r="1.75" fill="#1f1ff0"/><circle cx="402.1" cy="367.9" r="1.75" fill="#1f1ff0"/><circle cx="402.1" cy="371.2" r="1.75" fill="#1f1ff0"/><circle cx="402.2" cy="377.8" r="1.75" fill="#1f1ff0"/><circle cx="402.2" cy="382.7" r="1.75" fill="#1f1ff0"/></g>
<path d="M121.0,359.2 L123.4,359.2 L125.7,359.3 L128.1,359.3 L130.4,359.3 L132.8,359.4 L135.2,359.4 L137.5,359.4 L139.9,359.5 L142.3,359.5 L144.6,359.6 L147.0,359.6 L149.3,359.6 L151.7,359.7 L154.1,359.7 L156.4,359.7 L158.8,359.7 L161.1,359.8 L163.5,359.8 L165.9,359.8 L168.2,359.8 L170.6,359.9 L172.9,359.9 L175.3,359.9 L177.7,359.9 L180.0,359.9 L182.4,359.8 L184.8,359.8 L187.1,359.7 L189.5,359.7 L191.8,359.6 L194.2,359.5 L196.6,359.4 L198.9,359.3 L201.3,359.2 L203.6,359.0 L206.0,358.8 L208.4,358.6 L210.7,358.4 L213.1,358.2 L215.5,357.9 L217.8,357.6 L220.2,357.3 L222.5,357.0 L224.9,356.6 L227.3,356.2 L229.6,355.7 L232.0,355.2 L234.3,354.7 L236.7,354.1 L239.1,353.4 L241.4,352.7 L243.8,352.0 L246.2,351.2 L248.5,350.4 L250.9,349.5 L253.2,348.5 L255.6,347.5 L258.0,346.5 L260.3,345.5 L262.7,344.4 L265.0,343.4 L267.4,342.3 L269.8,341.2 L272.1,340.2 L274.5,339.1 L276.8,338.0 L279.2,336.9 L281.6,335.7 L283.9,334.6 L286.3,333.4 L288.7,332.3 L291.0,331.2 L293.4,330.1 L295.7,329.0 L298.1,328.1 L300.5,327.2 L302.8,326.3 L305.2,325.5 L307.5,324.8 L309.9,324.2 L312.3,323.6 L314.6,323.0 L317.0,322.5 L319.4,322.1 L321.7,321.7 L324.1,321.4 L326.4,321.2 L328.8,320.9 L331.2,320.8 L333.5,320.6 L335.9,320.5 L338.2,320.5 L340.6,320.5 L343.0,320.5 L345.3,320.5 L347.7,320.6 L350.1,320.8 L352.4,320.9 L354.8,321.2 L357.1,321.5 L359.5,321.8 L361.9,322.3 L364.2,322.7 L366.6,323.3 L368.9,323.9 L371.3,324.6 L373.7,325.4 L376.0,326.2 L378.4,327.0 L380.7,327.9 L383.1,328.9 L385.5,329.9 L387.8,330.9 L390.2,332.0 L392.6,333.1 L394.9,334.3 L397.3,335.5 L399.6,336.6 L402.0,337.8" fill="none" stroke="#8b0f0f" stroke-width="1.9" stroke-linecap="round"/>
<path d="M121.0,378.1 L123.4,378.3 L125.7,378.6 L128.1,378.8 L130.5,379.0 L132.8,379.3 L135.2,379.5 L137.6,379.8 L139.9,380.0 L142.3,380.2 L144.7,380.5 L147.0,380.7 L149.4,380.9 L151.8,381.1 L154.1,381.4 L156.5,381.6 L158.9,381.8 L161.2,382.0 L163.6,382.3 L166.0,382.5 L168.3,382.7 L170.7,382.9 L173.1,383.0 L175.4,383.2 L177.8,383.3 L180.2,383.5 L182.5,383.6 L184.9,383.6 L187.3,383.7 L189.6,383.7 L192.0,383.6 L194.4,383.6 L196.7,383.5 L199.1,383.3 L201.5,383.1 L203.8,382.9 L206.2,382.7 L208.6,382.4 L210.9,382.1 L213.3,381.7 L215.7,381.3 L218.0,380.9 L220.4,380.4 L222.8,379.9 L225.1,379.4 L227.5,378.8 L229.9,378.2 L232.2,377.6 L234.6,376.9 L237.0,376.1 L239.3,375.4 L241.7,374.5 L244.1,373.7 L246.4,372.7 L248.8,371.7 L251.2,370.7 L253.5,369.5 L255.9,368.4 L258.3,367.2 L260.6,365.9 L263.0,364.7 L265.3,363.4 L267.7,362.1 L270.1,360.8 L272.4,359.5 L274.8,358.2 L277.2,356.8 L279.5,355.5 L281.9,354.1 L284.3,352.7 L286.6,351.4 L289.0,350.0 L291.4,348.7 L293.7,347.5 L296.1,346.3 L298.5,345.2 L300.8,344.2 L303.2,343.3 L305.6,342.5 L307.9,341.7 L310.3,341.0 L312.7,340.4 L315.0,339.9 L317.4,339.4 L319.8,339.0 L322.1,338.7 L324.5,338.4 L326.9,338.1 L329.2,337.9 L331.6,337.8 L334.0,337.7 L336.3,337.7 L338.7,337.7 L341.1,337.7 L343.4,337.8 L345.8,337.9 L348.2,338.1 L350.5,338.3 L352.9,338.6 L355.3,339.0 L357.6,339.4 L360.0,339.9 L362.4,340.5 L364.7,341.2 L367.1,341.9 L369.5,342.8 L371.8,343.7 L374.2,344.7 L376.6,345.8 L378.9,347.0 L381.3,348.2 L383.7,349.5 L386.0,350.9 L388.4,352.3 L390.8,353.7 L393.1,355.1 L395.5,356.6 L397.9,358.1 L400.2,359.5 L402.6,361.0" fill="none" stroke="#1f1ff0" stroke-width="1.9" stroke-linecap="round"/>
<line x1="107.60" y1="294.90" x2="415.60" y2="294.90" stroke="#707070" stroke-width="1.8" />
<line x1="107.60" y1="294.60" x2="107.60" y2="395.00" stroke="#111" stroke-width="1.2" />
<line x1="415.60" y1="294.60" x2="415.60" y2="395.00" stroke="#111" stroke-width="1.2" />
<line x1="107.00" y1="395.00" x2="416.20" y2="395.00" stroke="#111" stroke-width="1.2" />
<line x1="121.10" y1="395.00" x2="121.10" y2="399.50" stroke="#111" stroke-width="1.3" />
<line x1="214.80" y1="395.00" x2="214.80" y2="399.50" stroke="#111" stroke-width="1.3" />
<line x1="308.80" y1="395.00" x2="308.80" y2="399.50" stroke="#111" stroke-width="1.3" />
<line x1="402.60" y1="395.00" x2="402.60" y2="399.50" stroke="#111" stroke-width="1.3" />
<line x1="102.30" y1="512.50" x2="107.60" y2="512.50" stroke="#1a1a1a" stroke-width="1.3" />
<text x="98.60" y="516.50" font-size="10.3" text-anchor="end" textLength="20.2" lengthAdjust="spacingAndGlyphs">0.00</text>
<line x1="102.30" y1="488.98" x2="107.60" y2="488.98" stroke="#1a1a1a" stroke-width="1.3" />
<text x="98.60" y="492.98" font-size="10.3" text-anchor="end" textLength="20.2" lengthAdjust="spacingAndGlyphs">0.25</text>
<line x1="102.30" y1="465.45" x2="107.60" y2="465.45" stroke="#1a1a1a" stroke-width="1.3" />
<text x="98.60" y="469.45" font-size="10.3" text-anchor="end" textLength="20.2" lengthAdjust="spacingAndGlyphs">0.50</text>
<line x1="102.30" y1="441.93" x2="107.60" y2="441.93" stroke="#1a1a1a" stroke-width="1.3" />
<text x="98.60" y="445.93" font-size="10.3" text-anchor="end" textLength="20.2" lengthAdjust="spacingAndGlyphs">0.75</text>
<line x1="102.30" y1="418.40" x2="107.60" y2="418.40" stroke="#1a1a1a" stroke-width="1.3" />
<text x="98.60" y="422.40" font-size="10.3" text-anchor="end" textLength="20.2" lengthAdjust="spacingAndGlyphs">1.00</text>
<text x="72.20" y="465.45" font-size="10.2" text-anchor="middle" textLength="36.5" lengthAdjust="spacingAndGlyphs" transform="rotate(-90 72.20 465.45)">β values</text>
<g><circle cx="342.5" cy="432.1" r="1.75" fill="#e3150f"/><circle cx="358.8" cy="437.0" r="1.75" fill="#e3150f"/><circle cx="248.1" cy="441.2" r="1.75" fill="#e3150f"/><circle cx="163.3" cy="498.4" r="1.75" fill="#f3adb0"/><circle cx="135.3" cy="495.5" r="1.75" fill="#e3150f"/><circle cx="402.1" cy="488.2" r="1.75" fill="#6e80f2"/><circle cx="295.7" cy="454.9" r="1.75" fill="#e3150f"/><circle cx="156.1" cy="459.0" r="1.75" fill="#e3150f"/><circle cx="154.3" cy="441.5" r="1.75" fill="#e3150f"/><circle cx="396.0" cy="450.2" r="1.75" fill="#f3adb0"/><circle cx="396.1" cy="476.6" r="1.75" fill="#6e80f2"/><circle cx="295.4" cy="483.8" r="1.75" fill="#6e80f2"/><circle cx="391.0" cy="437.0" r="1.75" fill="#e3150f"/><circle cx="120.9" cy="499.2" r="1.75" fill="#f3adb0"/><circle cx="154.4" cy="443.0" r="1.75" fill="#6e80f2"/><circle cx="163.4" cy="461.9" r="1.75" fill="#1f1ff0"/><circle cx="135.5" cy="483.8" r="1.75" fill="#e3150f"/><circle cx="156.2" cy="491.1" r="1.75" fill="#f3adb0"/><circle cx="295.5" cy="503.8" r="1.75" fill="#f3adb0"/><circle cx="295.3" cy="449.2" r="1.75" fill="#f3adb0"/><circle cx="295.6" cy="452.4" r="1.75" fill="#f3adb0"/><circle cx="156.2" cy="481.6" r="1.75" fill="#6e80f2"/><circle cx="358.8" cy="463.4" r="1.75" fill="#1f1ff0"/><circle cx="120.9" cy="493.3" r="1.75" fill="#f3adb0"/><circle cx="295.6" cy="446.8" r="1.75" fill="#6e80f2"/><circle cx="142.0" cy="437.8" r="1.75" fill="#f3adb0"/><circle cx="391.2" cy="427.1" r="1.75" fill="#e3150f"/><circle cx="342.4" cy="428.8" r="1.75" fill="#e3150f"/><circle cx="396.1" cy="508.0" r="1.75" fill="#6e80f2"/><circle cx="162.3" cy="497.0" r="1.75" fill="#1f1ff0"/><circle cx="235.4" cy="489.4" r="1.75" fill="#f3adb0"/><circle cx="316.0" cy="466.7" r="1.75" fill="#f3adb0"/><circle cx="316.0" cy="420.5" r="1.75" fill="#e3150f"/><circle cx="342.6" cy="428.0" r="1.75" fill="#6e80f2"/><circle cx="402.3" cy="484.9" r="1.75" fill="#6e80f2"/><circle cx="391.1" cy="440.3" r="1.75" fill="#f3adb0"/><circle cx="142.0" cy="498.4" r="1.75" fill="#1f1ff0"/><circle cx="248.1" cy="504.6" r="1.75" fill="#1f1ff0"/><circle cx="374.3" cy="491.5" r="1.75" fill="#6e80f2"/><circle cx="358.8" cy="418.9" r="1.75" fill="#e3150f"/><circle cx="390.9" cy="466.7" r="1.75" fill="#f3adb0"/><circle cx="396.3" cy="491.5" r="1.75" fill="#e3150f"/><circle cx="295.6" cy="460.5" r="1.75" fill="#f3adb0"/><circle cx="295.7" cy="441.2" r="1.75" fill="#1f1ff0"/><circle cx="386.1" cy="419.7" r="1.75" fill="#e3150f"/><circle cx="295.5" cy="463.7" r="1.75" fill="#f3adb0"/><circle cx="390.9" cy="460.1" r="1.75" fill="#e3150f"/><circle cx="396.0" cy="509.6" r="1.75" fill="#e3150f"/><circle cx="386.3" cy="445.3" r="1.75" fill="#e3150f"/><circle cx="121.2" cy="499.9" r="1.75" fill="#1f1ff0"/><circle cx="235.4" cy="456.5" r="1.75" fill="#e3150f"/><circle cx="142.1" cy="459.0" r="1.75" fill="#e3150f"/><circle cx="121.0" cy="479.5" r="1.75" fill="#f3adb0"/><circle cx="163.3" cy="424.0" r="1.75" fill="#e3150f"/><circle cx="156.1" cy="440.0" r="1.75" fill="#f3adb0"/><circle cx="396.1" cy="501.4" r="1.75" fill="#f3adb0"/><circle cx="235.2" cy="429.2" r="1.75" fill="#e3150f"/><circle cx="374.2" cy="440.3" r="1.75" fill="#f3adb0"/><circle cx="402.5" cy="478.3" r="1.75" fill="#f3adb0"/><circle cx="386.3" cy="508.0" r="1.75" fill="#6e80f2"/><circle cx="386.4" cy="488.2" r="1.75" fill="#6e80f2"/><circle cx="163.4" cy="482.4" r="1.75" fill="#e3150f"/><circle cx="396.2" cy="460.1" r="1.75" fill="#f3adb0"/><circle cx="154.2" cy="435.7" r="1.75" fill="#f3adb0"/><circle cx="142.1" cy="501.4" r="1.75" fill="#e3150f"/><circle cx="163.6" cy="428.4" r="1.75" fill="#e3150f"/><circle cx="391.0" cy="506.3" r="1.75" fill="#1f1ff0"/><circle cx="121.1" cy="491.9" r="1.75" fill="#f3adb0"/><circle cx="374.3" cy="432.1" r="1.75" fill="#f3adb0"/><circle cx="190.7" cy="458.3" r="1.75" fill="#f3adb0"/><circle cx="390.9" cy="425.5" r="1.75" fill="#e3150f"/><circle cx="402.3" cy="498.1" r="1.75" fill="#f3adb0"/><circle cx="316.2" cy="449.4" r="1.75" fill="#f3adb0"/><circle cx="141.7" cy="505.7" r="1.75" fill="#e3150f"/><circle cx="396.3" cy="471.7" r="1.75" fill="#1f1ff0"/><circle cx="402.2" cy="498.1" r="1.75" fill="#6e80f2"/><circle cx="295.5" cy="501.4" r="1.75" fill="#f3adb0"/><circle cx="358.6" cy="420.5" r="1.75" fill="#e3150f"/><circle cx="386.2" cy="464.3" r="1.75" fill="#e3150f"/><circle cx="155.9" cy="445.9" r="1.75" fill="#e3150f"/><circle cx="154.4" cy="457.6" r="1.75" fill="#e3150f"/><circle cx="374.1" cy="470.0" r="1.75" fill="#f3adb0"/><circle cx="155.9" cy="427.6" r="1.75" fill="#f3adb0"/><circle cx="163.4" cy="445.1" r="1.75" fill="#e3150f"/><circle cx="154.5" cy="504.3" r="1.75" fill="#f3adb0"/><circle cx="248.1" cy="511.9" r="1.75" fill="#e3150f"/><circle cx="391.2" cy="455.2" r="1.75" fill="#1f1ff0"/><circle cx="141.8" cy="441.5" r="1.75" fill="#f3adb0"/><circle cx="342.5" cy="460.1" r="1.75" fill="#e3150f"/><circle cx="141.7" cy="483.1" r="1.75" fill="#1f1ff0"/><circle cx="402.2" cy="484.9" r="1.75" fill="#e3150f"/><circle cx="235.4" cy="436.4" r="1.75" fill="#6e80f2"/><circle cx="121.2" cy="452.4" r="1.75" fill="#f3adb0"/><circle cx="402.2" cy="503.0" r="1.75" fill="#1f1ff0"/><circle cx="190.7" cy="491.9" r="1.75" fill="#6e80f2"/><circle cx="157.6" cy="448.1" r="1.75" fill="#6e80f2"/><circle cx="156.0" cy="456.1" r="1.75" fill="#e3150f"/><circle cx="235.2" cy="458.1" r="1.75" fill="#e3150f"/><circle cx="154.4" cy="507.2" r="1.75" fill="#f3adb0"/><circle cx="248.1" cy="462.1" r="1.75" fill="#f3adb0"/><circle cx="121.0" cy="451.0" r="1.75" fill="#f3adb0"/><circle cx="157.7" cy="448.8" r="1.75" fill="#e3150f"/><circle cx="374.3" cy="430.4" r="1.75" fill="#e3150f"/><circle cx="190.8" cy="451.7" r="1.75" fill="#e3150f"/><circle cx="391.0" cy="493.1" r="1.75" fill="#1f1ff0"/><circle cx="316.3" cy="509.6" r="1.75" fill="#1f1ff0"/><circle cx="316.3" cy="451.9" r="1.75" fill="#6e80f2"/><circle cx="391.3" cy="443.6" r="1.75" fill="#e3150f"/><circle cx="316.2" cy="425.5" r="1.75" fill="#e3150f"/><circle cx="157.7" cy="437.1" r="1.75" fill="#f3adb0"/><circle cx="342.5" cy="440.3" r="1.75" fill="#f3adb0"/><circle cx="295.4" cy="426.8" r="1.75" fill="#e3150f"/><circle cx="396.2" cy="442.0" r="1.75" fill="#f3adb0"/><circle cx="235.5" cy="426.0" r="1.75" fill="#e3150f"/><circle cx="162.4" cy="501.4" r="1.75" fill="#f3adb0"/><circle cx="396.2" cy="498.1" r="1.75" fill="#e3150f"/><circle cx="190.9" cy="449.5" r="1.75" fill="#f3adb0"/><circle cx="190.7" cy="507.2" r="1.75" fill="#f3adb0"/><circle cx="342.6" cy="425.5" r="1.75" fill="#e3150f"/><circle cx="396.2" cy="445.3" r="1.75" fill="#e3150f"/><circle cx="235.4" cy="499.8" r="1.75" fill="#f3adb0"/><circle cx="374.4" cy="438.7" r="1.75" fill="#f3adb0"/><circle cx="135.3" cy="423.7" r="1.75" fill="#e3150f"/><circle cx="295.5" cy="429.2" r="1.75" fill="#e3150f"/><circle cx="316.2" cy="464.3" r="1.75" fill="#e3150f"/><circle cx="120.9" cy="459.7" r="1.75" fill="#6e80f2"/><circle cx="154.4" cy="494.1" r="1.75" fill="#e3150f"/><circle cx="235.5" cy="438.8" r="1.75" fill="#e3150f"/><circle cx="235.2" cy="422.7" r="1.75" fill="#e3150f"/><circle cx="396.3" cy="483.2" r="1.75" fill="#1f1ff0"/><circle cx="135.3" cy="499.9" r="1.75" fill="#6e80f2"/><circle cx="374.3" cy="443.6" r="1.75" fill="#e3150f"/><circle cx="190.6" cy="501.4" r="1.75" fill="#f3adb0"/><circle cx="121.0" cy="500.6" r="1.75" fill="#f3adb0"/><circle cx="154.4" cy="501.4" r="1.75" fill="#f3adb0"/><circle cx="248.2" cy="428.0" r="1.75" fill="#e3150f"/><circle cx="162.3" cy="426.2" r="1.75" fill="#e3150f"/><circle cx="154.1" cy="472.2" r="1.75" fill="#f3adb0"/><circle cx="316.0" cy="442.0" r="1.75" fill="#e3150f"/><circle cx="235.3" cy="427.6" r="1.75" fill="#e3150f"/><circle cx="386.5" cy="431.3" r="1.75" fill="#6e80f2"/><circle cx="391.0" cy="450.2" r="1.75" fill="#e3150f"/><circle cx="155.8" cy="434.2" r="1.75" fill="#e3150f"/><circle cx="374.2" cy="427.1" r="1.75" fill="#e3150f"/><circle cx="391.0" cy="471.7" r="1.75" fill="#e3150f"/><circle cx="295.6" cy="444.4" r="1.75" fill="#e3150f"/><circle cx="402.1" cy="481.6" r="1.75" fill="#6e80f2"/><circle cx="157.8" cy="463.4" r="1.75" fill="#e3150f"/><circle cx="141.8" cy="435.7" r="1.75" fill="#6e80f2"/><circle cx="295.7" cy="495.8" r="1.75" fill="#6e80f2"/><circle cx="358.5" cy="453.5" r="1.75" fill="#e3150f"/><circle cx="342.6" cy="430.4" r="1.75" fill="#e3150f"/><circle cx="358.6" cy="432.1" r="1.75" fill="#f3adb0"/><circle cx="154.4" cy="438.6" r="1.75" fill="#e3150f"/><circle cx="121.2" cy="497.7" r="1.75" fill="#e3150f"/><circle cx="163.3" cy="440.8" r="1.75" fill="#e3150f"/><circle cx="358.6" cy="458.5" r="1.75" fill="#e3150f"/><circle cx="396.3" cy="463.4" r="1.75" fill="#f3adb0"/><circle cx="396.1" cy="503.0" r="1.75" fill="#6e80f2"/><circle cx="295.6" cy="438.8" r="1.75" fill="#e3150f"/><circle cx="402.5" cy="456.0" r="1.75" fill="#e3150f"/><circle cx="402.2" cy="433.7" r="1.75" fill="#f3adb0"/><circle cx="235.3" cy="437.2" r="1.75" fill="#f3adb0"/><circle cx="154.1" cy="492.6" r="1.75" fill="#1f1ff0"/><circle cx="316.0" cy="483.2" r="1.75" fill="#e3150f"/><circle cx="386.5" cy="427.1" r="1.75" fill="#e3150f"/><circle cx="295.7" cy="499.8" r="1.75" fill="#e3150f"/><circle cx="391.0" cy="465.1" r="1.75" fill="#6e80f2"/><circle cx="248.0" cy="455.7" r="1.75" fill="#e3150f"/><circle cx="190.9" cy="510.1" r="1.75" fill="#6e80f2"/><circle cx="154.5" cy="460.5" r="1.75" fill="#f3adb0"/><circle cx="295.6" cy="475.7" r="1.75" fill="#f3adb0"/><circle cx="386.4" cy="506.3" r="1.75" fill="#6e80f2"/><circle cx="155.9" cy="511.6" r="1.75" fill="#f3adb0"/><circle cx="396.3" cy="488.2" r="1.75" fill="#e3150f"/><circle cx="396.3" cy="489.8" r="1.75" fill="#6e80f2"/><circle cx="316.0" cy="473.3" r="1.75" fill="#f3adb0"/><circle cx="391.2" cy="422.2" r="1.75" fill="#f3adb0"/><circle cx="358.7" cy="445.3" r="1.75" fill="#6e80f2"/><circle cx="396.3" cy="486.5" r="1.75" fill="#1f1ff0"/><circle cx="135.4" cy="488.2" r="1.75" fill="#1f1ff0"/><circle cx="248.1" cy="466.9" r="1.75" fill="#f3adb0"/><circle cx="374.2" cy="466.7" r="1.75" fill="#e3150f"/><circle cx="358.6" cy="425.5" r="1.75" fill="#e3150f"/><circle cx="374.2" cy="445.3" r="1.75" fill="#f3adb0"/><circle cx="342.7" cy="459.3" r="1.75" fill="#1f1ff0"/><circle cx="248.2" cy="492.6" r="1.75" fill="#f3adb0"/><circle cx="295.4" cy="458.9" r="1.75" fill="#1f1ff0"/><circle cx="396.1" cy="443.6" r="1.75" fill="#f3adb0"/><circle cx="295.4" cy="487.8" r="1.75" fill="#6e80f2"/><circle cx="316.0" cy="475.8" r="1.75" fill="#f3adb0"/><circle cx="156.0" cy="508.7" r="1.75" fill="#e3150f"/><circle cx="391.0" cy="458.5" r="1.75" fill="#6e80f2"/><circle cx="162.2" cy="421.8" r="1.75" fill="#e3150f"/><circle cx="135.2" cy="508.7" r="1.75" fill="#e3150f"/><circle cx="402.3" cy="491.5" r="1.75" fill="#f3adb0"/><circle cx="235.1" cy="432.4" r="1.75" fill="#f3adb0"/><circle cx="386.2" cy="425.5" r="1.75" fill="#1f1ff0"/><circle cx="358.8" cy="433.7" r="1.75" fill="#e3150f"/><circle cx="396.2" cy="466.7" r="1.75" fill="#e3150f"/><circle cx="386.2" cy="437.0" r="1.75" fill="#e3150f"/><circle cx="163.3" cy="492.6" r="1.75" fill="#f3adb0"/><circle cx="396.3" cy="453.5" r="1.75" fill="#e3150f"/><circle cx="342.7" cy="475.0" r="1.75" fill="#e3150f"/><circle cx="374.3" cy="435.4" r="1.75" fill="#1f1ff0"/><circle cx="402.3" cy="472.5" r="1.75" fill="#e3150f"/><circle cx="396.2" cy="475.0" r="1.75" fill="#f3adb0"/><circle cx="358.7" cy="451.9" r="1.75" fill="#e3150f"/><circle cx="402.3" cy="420.5" r="1.75" fill="#e3150f"/><circle cx="316.1" cy="428.8" r="1.75" fill="#e3150f"/><circle cx="316.3" cy="454.4" r="1.75" fill="#f3adb0"/><circle cx="402.3" cy="504.7" r="1.75" fill="#f3adb0"/><circle cx="342.6" cy="466.7" r="1.75" fill="#e3150f"/><circle cx="391.1" cy="453.5" r="1.75" fill="#e3150f"/><circle cx="358.4" cy="472.5" r="1.75" fill="#f3adb0"/><circle cx="342.6" cy="468.4" r="1.75" fill="#f3adb0"/><circle cx="295.6" cy="457.3" r="1.75" fill="#f3adb0"/><circle cx="374.2" cy="446.9" r="1.75" fill="#e3150f"/><circle cx="386.1" cy="438.7" r="1.75" fill="#f3adb0"/><circle cx="141.9" cy="426.2" r="1.75" fill="#e3150f"/><circle cx="386.5" cy="421.4" r="1.75" fill="#e3150f"/><circle cx="156.0" cy="464.9" r="1.75" fill="#e3150f"/><circle cx="342.7" cy="506.3" r="1.75" fill="#1f1ff0"/><circle cx="391.0" cy="463.4" r="1.75" fill="#e3150f"/><circle cx="358.4" cy="456.8" r="1.75" fill="#f3adb0"/><circle cx="235.4" cy="483.0" r="1.75" fill="#f3adb0"/><circle cx="396.3" cy="494.8" r="1.75" fill="#f3adb0"/><circle cx="235.4" cy="433.2" r="1.75" fill="#6e80f2"/><circle cx="342.6" cy="418.9" r="1.75" fill="#e3150f"/><circle cx="396.0" cy="504.7" r="1.75" fill="#f3adb0"/><circle cx="156.0" cy="421.1" r="1.75" fill="#e3150f"/><circle cx="391.0" cy="456.8" r="1.75" fill="#e3150f"/><circle cx="402.5" cy="451.1" r="1.75" fill="#e3150f"/><circle cx="235.4" cy="434.8" r="1.75" fill="#1f1ff0"/><circle cx="162.3" cy="431.3" r="1.75" fill="#1f1ff0"/><circle cx="121.1" cy="456.1" r="1.75" fill="#f3adb0"/><circle cx="316.0" cy="470.0" r="1.75" fill="#e3150f"/><circle cx="386.5" cy="446.9" r="1.75" fill="#f3adb0"/><circle cx="342.6" cy="494.0" r="1.75" fill="#6e80f2"/><circle cx="342.6" cy="422.2" r="1.75" fill="#e3150f"/><circle cx="374.5" cy="433.7" r="1.75" fill="#e3150f"/><circle cx="163.4" cy="504.3" r="1.75" fill="#e3150f"/><circle cx="121.1" cy="488.9" r="1.75" fill="#f3adb0"/><circle cx="235.2" cy="494.2" r="1.75" fill="#f3adb0"/><circle cx="135.3" cy="511.6" r="1.75" fill="#f3adb0"/><circle cx="316.1" cy="451.9" r="1.75" fill="#e3150f"/><circle cx="386.3" cy="461.8" r="1.75" fill="#1f1ff0"/><circle cx="295.5" cy="436.4" r="1.75" fill="#f3adb0"/><circle cx="155.9" cy="443.0" r="1.75" fill="#f3adb0"/><circle cx="391.2" cy="423.8" r="1.75" fill="#e3150f"/><circle cx="396.0" cy="479.9" r="1.75" fill="#1f1ff0"/><circle cx="374.2" cy="477.5" r="1.75" fill="#1f1ff0"/><circle cx="316.1" cy="459.3" r="1.75" fill="#e3150f"/><circle cx="391.1" cy="433.7" r="1.75" fill="#e3150f"/><circle cx="162.3" cy="451.7" r="1.75" fill="#f3adb0"/><circle cx="386.4" cy="440.3" r="1.75" fill="#f3adb0"/><circle cx="342.4" cy="435.4" r="1.75" fill="#e3150f"/><circle cx="402.3" cy="438.7" r="1.75" fill="#e3150f"/><circle cx="154.3" cy="426.9" r="1.75" fill="#e3150f"/><circle cx="386.1" cy="502.2" r="1.75" fill="#1f1ff0"/><circle cx="358.7" cy="502.2" r="1.75" fill="#1f1ff0"/><circle cx="235.4" cy="504.6" r="1.75" fill="#1f1ff0"/><circle cx="396.1" cy="484.9" r="1.75" fill="#f3adb0"/><circle cx="190.6" cy="503.5" r="1.75" fill="#f3adb0"/><circle cx="374.5" cy="425.5" r="1.75" fill="#e3150f"/><circle cx="402.3" cy="494.8" r="1.75" fill="#f3adb0"/><circle cx="235.2" cy="476.5" r="1.75" fill="#e3150f"/><circle cx="386.4" cy="423.0" r="1.75" fill="#e3150f"/><circle cx="390.9" cy="494.8" r="1.75" fill="#6e80f2"/><circle cx="396.3" cy="440.3" r="1.75" fill="#e3150f"/><circle cx="190.8" cy="498.4" r="1.75" fill="#f3adb0"/><circle cx="396.1" cy="508.0" r="1.75" fill="#f3adb0"/><circle cx="141.9" cy="454.6" r="1.75" fill="#e3150f"/><circle cx="154.2" cy="510.1" r="1.75" fill="#e3150f"/><circle cx="390.9" cy="428.8" r="1.75" fill="#e3150f"/><circle cx="396.0" cy="438.7" r="1.75" fill="#e3150f"/><circle cx="396.4" cy="446.9" r="1.75" fill="#e3150f"/><circle cx="235.3" cy="430.8" r="1.75" fill="#e3150f"/><circle cx="391.0" cy="470.0" r="1.75" fill="#f3adb0"/><circle cx="358.5" cy="465.1" r="1.75" fill="#e3150f"/><circle cx="155.9" cy="501.4" r="1.75" fill="#1f1ff0"/><circle cx="155.8" cy="437.1" r="1.75" fill="#e3150f"/><circle cx="154.3" cy="463.4" r="1.75" fill="#e3150f"/><circle cx="391.3" cy="420.5" r="1.75" fill="#e3150f"/><circle cx="163.3" cy="510.1" r="1.75" fill="#f3adb0"/><circle cx="358.6" cy="423.8" r="1.75" fill="#e3150f"/><circle cx="248.4" cy="489.4" r="1.75" fill="#f3adb0"/><circle cx="120.9" cy="487.5" r="1.75" fill="#e3150f"/><circle cx="154.3" cy="513.0" r="1.75" fill="#e3150f"/><circle cx="374.3" cy="474.2" r="1.75" fill="#e3150f"/><circle cx="316.3" cy="446.9" r="1.75" fill="#e3150f"/><circle cx="342.7" cy="438.7" r="1.75" fill="#e3150f"/><circle cx="374.4" cy="420.5" r="1.75" fill="#e3150f"/><circle cx="316.2" cy="418.9" r="1.75" fill="#e3150f"/><circle cx="386.2" cy="442.0" r="1.75" fill="#e3150f"/><circle cx="342.4" cy="502.2" r="1.75" fill="#e3150f"/><circle cx="120.9" cy="490.4" r="1.75" fill="#f3adb0"/><circle cx="163.4" cy="456.1" r="1.75" fill="#f3adb0"/><circle cx="142.0" cy="440.0" r="1.75" fill="#e3150f"/><circle cx="374.1" cy="437.0" r="1.75" fill="#6e80f2"/><circle cx="386.2" cy="443.6" r="1.75" fill="#e3150f"/><circle cx="141.8" cy="495.5" r="1.75" fill="#e3150f"/><circle cx="154.3" cy="444.4" r="1.75" fill="#e3150f"/><circle cx="248.4" cy="508.7" r="1.75" fill="#e3150f"/><circle cx="142.0" cy="473.6" r="1.75" fill="#e3150f"/><circle cx="190.7" cy="476.5" r="1.75" fill="#e3150f"/><circle cx="386.1" cy="428.8" r="1.75" fill="#e3150f"/><circle cx="162.3" cy="443.0" r="1.75" fill="#e3150f"/><circle cx="316.0" cy="502.2" r="1.75" fill="#e3150f"/><circle cx="374.3" cy="442.0" r="1.75" fill="#e3150f"/><circle cx="157.7" cy="483.8" r="1.75" fill="#e3150f"/><circle cx="162.1" cy="486.8" r="1.75" fill="#e3150f"/><circle cx="121.1" cy="506.5" r="1.75" fill="#f3adb0"/><circle cx="135.3" cy="474.3" r="1.75" fill="#e3150f"/><circle cx="248.3" cy="478.1" r="1.75" fill="#e3150f"/><circle cx="358.6" cy="422.2" r="1.75" fill="#e3150f"/><circle cx="342.8" cy="420.5" r="1.75" fill="#e3150f"/><circle cx="374.3" cy="506.3" r="1.75" fill="#6e80f2"/><circle cx="135.3" cy="447.3" r="1.75" fill="#e3150f"/><circle cx="342.5" cy="433.7" r="1.75" fill="#6e80f2"/><circle cx="316.1" cy="478.3" r="1.75" fill="#e3150f"/><circle cx="374.5" cy="428.8" r="1.75" fill="#e3150f"/><circle cx="135.5" cy="456.8" r="1.75" fill="#e3150f"/><circle cx="190.8" cy="495.5" r="1.75" fill="#f3adb0"/><circle cx="135.4" cy="478.0" r="1.75" fill="#f3adb0"/><circle cx="316.0" cy="456.8" r="1.75" fill="#6e80f2"/><circle cx="141.9" cy="508.7" r="1.75" fill="#f3adb0"/><circle cx="374.5" cy="423.8" r="1.75" fill="#f3adb0"/><circle cx="190.6" cy="488.2" r="1.75" fill="#f3adb0"/><circle cx="386.1" cy="503.9" r="1.75" fill="#1f1ff0"/><circle cx="142.0" cy="511.6" r="1.75" fill="#e3150f"/><circle cx="295.6" cy="490.2" r="1.75" fill="#f3adb0"/><circle cx="391.2" cy="430.4" r="1.75" fill="#e3150f"/><circle cx="374.4" cy="468.4" r="1.75" fill="#e3150f"/><circle cx="386.4" cy="454.4" r="1.75" fill="#f3adb0"/><circle cx="235.2" cy="506.2" r="1.75" fill="#6e80f2"/><circle cx="135.2" cy="440.8" r="1.75" fill="#e3150f"/><circle cx="157.7" cy="431.3" r="1.75" fill="#e3150f"/><circle cx="342.6" cy="423.8" r="1.75" fill="#e3150f"/><circle cx="358.7" cy="427.1" r="1.75" fill="#f3adb0"/><circle cx="135.2" cy="505.7" r="1.75" fill="#f3adb0"/><circle cx="391.1" cy="461.8" r="1.75" fill="#6e80f2"/><circle cx="120.9" cy="454.6" r="1.75" fill="#f3adb0"/><circle cx="235.4" cy="446.0" r="1.75" fill="#e3150f"/><circle cx="342.6" cy="455.2" r="1.75" fill="#e3150f"/><circle cx="396.2" cy="456.8" r="1.75" fill="#e3150f"/><circle cx="402.2" cy="443.6" r="1.75" fill="#e3150f"/><circle cx="135.3" cy="436.4" r="1.75" fill="#f3adb0"/><circle cx="163.3" cy="432.7" r="1.75" fill="#e3150f"/><circle cx="342.6" cy="484.9" r="1.75" fill="#1f1ff0"/><circle cx="157.8" cy="456.1" r="1.75" fill="#f3adb0"/><circle cx="191.0" cy="492.6" r="1.75" fill="#f3adb0"/><circle cx="248.1" cy="502.2" r="1.75" fill="#6e80f2"/><circle cx="156.2" cy="461.2" r="1.75" fill="#6e80f2"/><circle cx="141.9" cy="423.7" r="1.75" fill="#e3150f"/><circle cx="235.3" cy="486.2" r="1.75" fill="#e3150f"/><circle cx="316.2" cy="422.2" r="1.75" fill="#e3150f"/><circle cx="358.5" cy="440.3" r="1.75" fill="#e3150f"/><circle cx="162.5" cy="430.5" r="1.75" fill="#e3150f"/><circle cx="248.4" cy="507.0" r="1.75" fill="#f3adb0"/><circle cx="135.5" cy="434.9" r="1.75" fill="#6e80f2"/><circle cx="316.3" cy="423.8" r="1.75" fill="#e3150f"/><circle cx="157.8" cy="483.8" r="1.75" fill="#1f1ff0"/><circle cx="316.1" cy="498.9" r="1.75" fill="#e3150f"/><circle cx="396.3" cy="478.3" r="1.75" fill="#e3150f"/><circle cx="141.9" cy="447.3" r="1.75" fill="#f3adb0"/><circle cx="402.2" cy="481.6" r="1.75" fill="#f3adb0"/><circle cx="190.7" cy="474.3" r="1.75" fill="#e3150f"/><circle cx="391.0" cy="446.9" r="1.75" fill="#e3150f"/><circle cx="121.1" cy="496.2" r="1.75" fill="#f3adb0"/><circle cx="163.3" cy="463.4" r="1.75" fill="#1f1ff0"/><circle cx="162.4" cy="507.2" r="1.75" fill="#f3adb0"/><circle cx="121.3" cy="503.5" r="1.75" fill="#e3150f"/><circle cx="155.9" cy="505.7" r="1.75" fill="#f3adb0"/><circle cx="248.1" cy="495.8" r="1.75" fill="#6e80f2"/><circle cx="190.9" cy="490.4" r="1.75" fill="#e3150f"/><circle cx="402.2" cy="509.6" r="1.75" fill="#f3adb0"/><circle cx="358.6" cy="428.8" r="1.75" fill="#e3150f"/><circle cx="235.5" cy="508.7" r="1.75" fill="#f3adb0"/><circle cx="295.6" cy="434.0" r="1.75" fill="#e3150f"/><circle cx="402.2" cy="501.4" r="1.75" fill="#e3150f"/><circle cx="154.4" cy="466.3" r="1.75" fill="#f3adb0"/><circle cx="391.0" cy="451.9" r="1.75" fill="#1f1ff0"/><circle cx="358.8" cy="450.2" r="1.75" fill="#f3adb0"/><circle cx="358.6" cy="430.4" r="1.75" fill="#e3150f"/><circle cx="358.5" cy="494.0" r="1.75" fill="#6e80f2"/><circle cx="120.9" cy="494.8" r="1.75" fill="#e3150f"/><circle cx="141.9" cy="478.7" r="1.75" fill="#6e80f2"/><circle cx="135.4" cy="498.4" r="1.75" fill="#f3adb0"/><circle cx="248.4" cy="510.3" r="1.75" fill="#f3adb0"/><circle cx="316.0" cy="427.1" r="1.75" fill="#e3150f"/><circle cx="316.1" cy="499.7" r="1.75" fill="#6e80f2"/><circle cx="295.4" cy="466.9" r="1.75" fill="#f3adb0"/><circle cx="358.7" cy="447.8" r="1.75" fill="#6e80f2"/><circle cx="396.1" cy="498.1" r="1.75" fill="#6e80f2"/><circle cx="402.1" cy="491.5" r="1.75" fill="#6e80f2"/><circle cx="190.7" cy="479.5" r="1.75" fill="#e3150f"/><circle cx="402.1" cy="508.0" r="1.75" fill="#f3adb0"/><circle cx="235.2" cy="491.0" r="1.75" fill="#f3adb0"/><circle cx="316.1" cy="492.3" r="1.75" fill="#1f1ff0"/><circle cx="156.1" cy="502.8" r="1.75" fill="#e3150f"/><circle cx="235.2" cy="479.7" r="1.75" fill="#f3adb0"/><circle cx="154.3" cy="448.8" r="1.75" fill="#e3150f"/><circle cx="235.1" cy="424.3" r="1.75" fill="#e3150f"/><circle cx="390.9" cy="418.9" r="1.75" fill="#e3150f"/><circle cx="155.8" cy="461.9" r="1.75" fill="#f3adb0"/><circle cx="396.1" cy="473.3" r="1.75" fill="#1f1ff0"/><circle cx="316.2" cy="461.8" r="1.75" fill="#e3150f"/><circle cx="315.9" cy="444.5" r="1.75" fill="#e3150f"/><circle cx="141.8" cy="428.1" r="1.75" fill="#e3150f"/><circle cx="156.1" cy="499.9" r="1.75" fill="#f3adb0"/><circle cx="402.2" cy="475.0" r="1.75" fill="#e3150f"/><circle cx="156.0" cy="467.8" r="1.75" fill="#f3adb0"/><circle cx="162.4" cy="467.8" r="1.75" fill="#e3150f"/><circle cx="154.5" cy="432.7" r="1.75" fill="#e3150f"/><circle cx="358.7" cy="435.4" r="1.75" fill="#e3150f"/><circle cx="358.8" cy="438.7" r="1.75" fill="#e3150f"/><circle cx="295.7" cy="431.6" r="1.75" fill="#f3adb0"/><circle cx="342.7" cy="453.5" r="1.75" fill="#e3150f"/><circle cx="396.4" cy="481.6" r="1.75" fill="#e3150f"/><circle cx="248.0" cy="460.5" r="1.75" fill="#e3150f"/><circle cx="358.6" cy="443.6" r="1.75" fill="#f3adb0"/><circle cx="342.6" cy="451.1" r="1.75" fill="#e3150f"/><circle cx="121.0" cy="443.7" r="1.75" fill="#e3150f"/><circle cx="295.4" cy="477.3" r="1.75" fill="#e3150f"/><circle cx="342.5" cy="451.9" r="1.75" fill="#1f1ff0"/><circle cx="402.1" cy="488.2" r="1.75" fill="#e3150f"/><circle cx="358.4" cy="461.8" r="1.75" fill="#e3150f"/><circle cx="374.2" cy="422.2" r="1.75" fill="#e3150f"/><circle cx="121.3" cy="507.9" r="1.75" fill="#f3adb0"/><circle cx="162.5" cy="495.5" r="1.75" fill="#f3adb0"/><circle cx="162.4" cy="511.6" r="1.75" fill="#e3150f"/><circle cx="162.4" cy="438.6" r="1.75" fill="#e3150f"/><circle cx="121.2" cy="502.1" r="1.75" fill="#e3150f"/><circle cx="121.1" cy="505.0" r="1.75" fill="#e3150f"/><circle cx="154.4" cy="420.3" r="1.75" fill="#e3150f"/></g>
<path d="M121.0,471.1 L123.4,471.2 L125.7,471.2 L128.1,471.3 L130.5,471.4 L132.8,471.5 L135.2,471.6 L137.6,471.7 L139.9,471.8 L142.3,471.9 L144.7,472.0 L147.0,472.1 L149.4,472.2 L151.8,472.3 L154.1,472.4 L156.5,472.6 L158.9,472.7 L161.2,472.9 L163.6,473.0 L166.0,473.2 L168.3,473.4 L170.7,473.5 L173.1,473.7 L175.4,473.8 L177.8,474.0 L180.2,474.1 L182.5,474.2 L184.9,474.3 L187.3,474.4 L189.6,474.4 L192.0,474.4 L194.4,474.4 L196.7,474.4 L199.1,474.3 L201.5,474.2 L203.8,474.1 L206.2,474.0 L208.6,473.8 L210.9,473.6 L213.3,473.4 L215.7,473.2 L218.0,473.0 L220.4,472.7 L222.8,472.4 L225.1,472.1 L227.5,471.8 L229.9,471.3 L232.2,470.9 L234.6,470.4 L237.0,469.8 L239.3,469.2 L241.7,468.5 L244.1,467.8 L246.4,467.0 L248.8,466.2 L251.2,465.4 L253.5,464.5 L255.9,463.5 L258.3,462.6 L260.6,461.6 L263.0,460.6 L265.3,459.5 L267.7,458.5 L270.1,457.5 L272.4,456.4 L274.8,455.3 L277.2,454.3 L279.5,453.3 L281.9,452.2 L284.3,451.2 L286.6,450.2 L289.0,449.2 L291.4,448.3 L293.7,447.3 L296.1,446.4 L298.5,445.4 L300.8,444.5 L303.2,443.7 L305.6,442.9 L307.9,442.1 L310.3,441.4 L312.7,440.7 L315.0,440.1 L317.4,439.6 L319.8,439.1 L322.1,438.7 L324.5,438.4 L326.9,438.1 L329.2,437.9 L331.6,437.7 L334.0,437.6 L336.3,437.6 L338.7,437.6 L341.1,437.6 L343.4,437.7 L345.8,437.9 L348.2,438.0 L350.5,438.3 L352.9,438.6 L355.3,438.9 L357.6,439.3 L360.0,439.8 L362.4,440.3 L364.7,440.8 L367.1,441.4 L369.5,442.0 L371.8,442.7 L374.2,443.4 L376.6,444.2 L378.9,444.9 L381.3,445.8 L383.7,446.6 L386.0,447.5 L388.4,448.4 L390.8,449.4 L393.1,450.4 L395.5,451.4 L397.9,452.5 L400.2,453.6 L402.6,454.7" fill="none" stroke="#e3150f" stroke-width="1.9" stroke-linecap="round"/>
<path d="M121.0,496.0 L123.4,495.9 L125.7,495.8 L128.1,495.7 L130.5,495.5 L132.8,495.4 L135.2,495.3 L137.6,495.1 L139.9,495.0 L142.3,494.9 L144.7,494.8 L147.0,494.6 L149.4,494.5 L151.8,494.4 L154.1,494.2 L156.5,494.1 L158.9,494.0 L161.2,493.8 L163.6,493.7 L166.0,493.6 L168.3,493.4 L170.7,493.3 L173.1,493.1 L175.4,493.0 L177.8,492.8 L180.2,492.6 L182.5,492.4 L184.9,492.2 L187.3,492.0 L189.6,491.7 L192.0,491.5 L194.4,491.2 L196.7,490.9 L199.1,490.6 L201.5,490.3 L203.8,489.9 L206.2,489.5 L208.6,489.1 L210.9,488.7 L213.3,488.2 L215.7,487.7 L218.0,487.2 L220.4,486.7 L222.8,486.1 L225.1,485.6 L227.5,484.9 L229.9,484.3 L232.2,483.7 L234.6,483.0 L237.0,482.3 L239.3,481.6 L241.7,480.8 L244.1,480.1 L246.4,479.2 L248.8,478.4 L251.2,477.5 L253.5,476.6 L255.9,475.7 L258.3,474.7 L260.6,473.7 L263.0,472.6 L265.3,471.6 L267.7,470.4 L270.1,469.3 L272.4,468.1 L274.8,467.0 L277.2,465.8 L279.5,464.6 L281.9,463.4 L284.3,462.2 L286.6,461.0 L289.0,459.8 L291.4,458.6 L293.7,457.5 L296.1,456.4 L298.5,455.4 L300.8,454.4 L303.2,453.6 L305.6,452.7 L307.9,452.0 L310.3,451.3 L312.7,450.7 L315.0,450.2 L317.4,449.7 L319.8,449.2 L322.1,448.8 L324.5,448.5 L326.9,448.2 L329.2,448.0 L331.6,447.8 L334.0,447.7 L336.3,447.6 L338.7,447.5 L341.1,447.5 L343.4,447.6 L345.8,447.6 L348.2,447.7 L350.5,447.9 L352.9,448.0 L355.3,448.2 L357.6,448.5 L360.0,448.7 L362.4,449.1 L364.7,449.4 L367.1,449.8 L369.5,450.2 L371.8,450.7 L374.2,451.2 L376.6,451.8 L378.9,452.4 L381.3,453.2 L383.7,453.9 L386.0,454.8 L388.4,455.6 L390.8,456.6 L393.1,457.6 L395.5,458.6 L397.9,459.7 L400.2,460.8 L402.6,461.9" fill="none" stroke="#f0a0a4" stroke-width="1.9" stroke-linecap="round"/>
<path d="M121.0,480.5 L123.4,480.8 L125.7,481.1 L128.1,481.4 L130.5,481.7 L132.8,482.1 L135.2,482.3 L137.6,482.6 L139.9,482.9 L142.3,483.2 L144.7,483.5 L147.0,483.8 L149.4,484.0 L151.8,484.3 L154.1,484.6 L156.5,484.8 L158.9,485.0 L161.2,485.3 L163.6,485.5 L166.0,485.7 L168.3,485.9 L170.7,486.0 L173.1,486.2 L175.4,486.3 L177.8,486.4 L180.2,486.5 L182.5,486.6 L184.9,486.7 L187.3,486.7 L189.6,486.7 L192.0,486.7 L194.4,486.7 L196.7,486.6 L199.1,486.5 L201.5,486.4 L203.8,486.2 L206.2,486.0 L208.6,485.8 L210.9,485.5 L213.3,485.2 L215.7,484.8 L218.0,484.4 L220.4,484.0 L222.8,483.5 L225.1,483.0 L227.5,482.5 L229.9,481.9 L232.2,481.3 L234.6,480.6 L237.0,479.9 L239.3,479.1 L241.7,478.3 L244.1,477.5 L246.4,476.5 L248.8,475.5 L251.2,474.4 L253.5,473.3 L255.9,472.0 L258.3,470.7 L260.6,469.3 L263.0,467.9 L265.3,466.3 L267.7,464.8 L270.1,463.2 L272.4,461.5 L274.8,459.9 L277.2,458.2 L279.5,456.6 L281.9,455.0 L284.3,453.4 L286.6,451.9 L289.0,450.4 L291.4,448.9 L293.7,447.5 L296.1,446.3 L298.5,445.1 L300.8,444.0 L303.2,443.0 L305.6,442.1 L307.9,441.3 L310.3,440.5 L312.7,439.9 L315.0,439.3 L317.4,438.7 L319.8,438.2 L322.1,437.8 L324.5,437.4 L326.9,437.1 L329.2,436.9 L331.6,436.7 L334.0,436.6 L336.3,436.6 L338.7,436.6 L341.1,436.8 L343.4,437.0 L345.8,437.3 L348.2,437.6 L350.5,438.1 L352.9,438.6 L355.3,439.2 L357.6,439.9 L360.0,440.7 L362.4,441.5 L364.7,442.4 L367.1,443.4 L369.5,444.5 L371.8,445.6 L374.2,446.8 L376.6,448.1 L378.9,449.4 L381.3,450.8 L383.7,452.2 L386.0,453.7 L388.4,455.2 L390.8,456.8 L393.1,458.4 L395.5,460.1 L397.9,461.8 L400.2,463.5 L402.6,465.2" fill="none" stroke="#1a1ae6" stroke-width="1.9" stroke-linecap="round"/>
<path d="M121.0,504.0 L123.4,504.2 L125.7,504.4 L128.1,504.7 L130.5,504.9 L132.8,505.1 L135.2,505.3 L137.6,505.5 L139.9,505.8 L142.3,506.0 L144.7,506.2 L147.0,506.5 L149.4,506.7 L151.8,506.9 L154.1,507.2 L156.5,507.4 L158.9,507.7 L161.2,508.0 L163.6,508.2 L166.0,508.5 L168.3,508.8 L170.7,509.0 L173.1,509.3 L175.4,509.5 L177.8,509.7 L180.2,509.9 L182.5,510.1 L184.9,510.2 L187.3,510.3 L189.6,510.4 L192.0,510.4 L194.4,510.4 L196.7,510.3 L199.1,510.2 L201.5,510.1 L203.8,509.9 L206.2,509.7 L208.6,509.4 L210.9,509.1 L213.3,508.8 L215.7,508.4 L218.0,508.0 L220.4,507.6 L222.8,507.1 L225.1,506.6 L227.5,506.0 L229.9,505.4 L232.2,504.7 L234.6,504.0 L237.0,503.2 L239.3,502.4 L241.7,501.5 L244.1,500.6 L246.4,499.6 L248.8,498.6 L251.2,497.5 L253.5,496.4 L255.9,495.2 L258.3,493.9 L260.6,492.6 L263.0,491.3 L265.3,489.8 L267.7,488.4 L270.1,486.9 L272.4,485.4 L274.8,483.8 L277.2,482.3 L279.5,480.8 L281.9,479.3 L284.3,477.8 L286.6,476.4 L289.0,475.0 L291.4,473.7 L293.7,472.4 L296.1,471.2 L298.5,470.1 L300.8,469.1 L303.2,468.1 L305.6,467.2 L307.9,466.5 L310.3,465.7 L312.7,465.1 L315.0,464.5 L317.4,463.9 L319.8,463.4 L322.1,463.0 L324.5,462.7 L326.9,462.3 L329.2,462.1 L331.6,461.9 L334.0,461.7 L336.3,461.6 L338.7,461.6 L341.1,461.6 L343.4,461.7 L345.8,461.8 L348.2,462.0 L350.5,462.2 L352.9,462.5 L355.3,462.8 L357.6,463.2 L360.0,463.7 L362.4,464.2 L364.7,464.8 L367.1,465.5 L369.5,466.2 L371.8,467.0 L374.2,467.8 L376.6,468.7 L378.9,469.6 L381.3,470.6 L383.7,471.6 L386.0,472.7 L388.4,473.8 L390.8,475.0 L393.1,476.2 L395.5,477.4 L397.9,478.7 L400.2,480.0 L402.6,481.2" fill="none" stroke="#6e80f2" stroke-width="1.9" stroke-linecap="round"/>
<line x1="107.60" y1="415.20" x2="415.60" y2="415.20" stroke="#707070" stroke-width="1.8" />
<line x1="107.60" y1="414.90" x2="107.60" y2="515.30" stroke="#111" stroke-width="1.2" />
<line x1="415.60" y1="414.90" x2="415.60" y2="515.30" stroke="#111" stroke-width="1.2" />
<line x1="107.00" y1="515.30" x2="416.20" y2="515.30" stroke="#111" stroke-width="1.2" />
<line x1="121.10" y1="515.30" x2="121.10" y2="519.80" stroke="#111" stroke-width="1.3" />
<line x1="214.80" y1="515.30" x2="214.80" y2="519.80" stroke="#111" stroke-width="1.3" />
<line x1="308.80" y1="515.30" x2="308.80" y2="519.80" stroke="#111" stroke-width="1.3" />
<line x1="402.60" y1="515.30" x2="402.60" y2="519.80" stroke="#111" stroke-width="1.3" />
<rect x="118.90" y="523.30" width="31.20" height="17.90" fill="#2f8c1f"/>
<rect x="150.10" y="523.30" width="101.80" height="17.90" fill="#eff23c"/>
<rect x="251.90" y="523.30" width="130.00" height="17.90" fill="#2f8c1f"/>
<rect x="381.90" y="523.30" width="17.80" height="17.90" fill="#eff23c"/>
<rect x="399.70" y="523.30" width="5.90" height="17.90" fill="#2f8c1f"/>
<rect x="118.90" y="523.30" width="286.70" height="17.90" fill="none" stroke="#444" stroke-width="0.9"/>
<line x1="150.10" y1="523.30" x2="150.10" y2="541.20" stroke="#444" stroke-width="0.7" />
<line x1="251.90" y1="523.30" x2="251.90" y2="541.20" stroke="#444" stroke-width="0.7" />
<line x1="381.90" y1="523.30" x2="381.90" y2="541.20" stroke="#444" stroke-width="0.7" />
<line x1="399.70" y1="523.30" x2="399.70" y2="541.20" stroke="#444" stroke-width="0.7" />
<text x="197.60" y="537.00" font-size="13.6" text-anchor="middle" textLength="36" lengthAdjust="spacingAndGlyphs">Island</text>
<text x="319.30" y="537.30" font-size="13.6" text-anchor="middle" fill="#fff" textLength="36.5" lengthAdjust="spacingAndGlyphs">Shore</text>
<rect x="118.90" y="547.00" width="50.30" height="17.60" fill="#ff3cf0"/>
<rect x="169.20" y="547.00" width="236.80" height="17.60" fill="#80fcfc"/>
<rect x="118.90" y="547.00" width="287.10" height="17.60" fill="none" stroke="#444" stroke-width="0.9"/>
<line x1="169.20" y1="547.00" x2="169.20" y2="564.60" stroke="#444" stroke-width="0.7" />
<text x="120.40" y="561.00" font-size="13.6" fill="#fff" textLength="47.8" lengthAdjust="spacingAndGlyphs">Promoter</text>
<text x="259.30" y="560.80" font-size="12.2" textLength="42.6" lengthAdjust="spacingAndGlyphs">1stExon</text>
<text x="112.60" y="561.20" font-size="13.4" text-anchor="end" textLength="58.5" lengthAdjust="spacingAndGlyphs" font-style="italic">PCDHGC3</text>
<text x="501.20" y="275.20" font-size="13.8" text-anchor="middle" textLength="76.8" lengthAdjust="spacingAndGlyphs">PCDH DMR</text>
<text x="501.00" y="288.90" font-size="10.4" text-anchor="middle" textLength="162" lengthAdjust="spacingAndGlyphs">chr5 : 140855112 - 140858107</text>
<line x1="432.30" y1="295.00" x2="568.60" y2="295.00" stroke="#707070" stroke-width="1.8" />
<line x1="432.30" y1="294.70" x2="432.30" y2="394.80" stroke="#111" stroke-width="1.2" />
<line x1="568.60" y1="294.70" x2="568.60" y2="394.80" stroke="#111" stroke-width="1.2" />
<line x1="431.70" y1="394.80" x2="569.20" y2="394.80" stroke="#111" stroke-width="1.2" />
<line x1="568.60" y1="322.00" x2="573.20" y2="322.00" stroke="#111" stroke-width="1.3" />
<text x="578.00" y="325.70" font-size="10.6">MT</text>
<line x1="568.60" y1="367.70" x2="573.20" y2="367.70" stroke="#111" stroke-width="1.3" />
<text x="578.00" y="371.40" font-size="10.6">BN</text>
<line x1="432.30" y1="394.80" x2="432.30" y2="399.00" stroke="#111" stroke-width="1.3" />
<line x1="466.38" y1="394.80" x2="466.38" y2="399.00" stroke="#111" stroke-width="1.3" />
<line x1="500.45" y1="394.80" x2="500.45" y2="399.00" stroke="#111" stroke-width="1.3" />
<line x1="534.52" y1="394.80" x2="534.52" y2="399.00" stroke="#111" stroke-width="1.3" />
<line x1="568.60" y1="394.80" x2="568.60" y2="399.00" stroke="#111" stroke-width="1.3" />
<line x1="458.10" y1="322.00" x2="553.50" y2="322.00" stroke="#555" stroke-width="1.0" />
<rect x="469.40" y="313.45" width="64.40" height="17.10" fill="#8a1010" stroke="#3a3a3a" stroke-width="1.0"/>
<line x1="491.50" y1="313.45" x2="491.50" y2="330.55" stroke="#3a3a3a" stroke-width="1.6" />
<line x1="440.20" y1="367.70" x2="496.70" y2="367.70" stroke="#555" stroke-width="1.0" />
<rect x="455.50" y="359.15" width="21.00" height="17.10" fill="#1a10f0" stroke="#3a3a3a" stroke-width="1.0"/>
<line x1="467.80" y1="359.15" x2="467.80" y2="376.25" stroke="#3a3a3a" stroke-width="1.6" />
<circle cx="530.60" cy="367.70" r="1.60" fill="#222"/>
<line x1="432.30" y1="415.90" x2="568.60" y2="415.90" stroke="#707070" stroke-width="1.8" />
<line x1="432.30" y1="415.60" x2="432.30" y2="515.30" stroke="#111" stroke-width="1.2" />
<line x1="568.60" y1="415.60" x2="568.60" y2="515.30" stroke="#111" stroke-width="1.2" />
<line x1="431.70" y1="515.30" x2="569.20" y2="515.30" stroke="#111" stroke-width="1.2" />
<line x1="568.60" y1="429.80" x2="573.20" y2="429.80" stroke="#111" stroke-width="1.3" />
<text x="578.00" y="433.50" font-size="10.6">MUT</text>
<line x1="568.60" y1="453.60" x2="573.20" y2="453.60" stroke="#111" stroke-width="1.3" />
<text x="578.00" y="457.30" font-size="10.6">WT</text>
<line x1="568.60" y1="477.30" x2="573.20" y2="477.30" stroke="#111" stroke-width="1.3" />
<text x="578.00" y="481.00" font-size="10.6">MUT</text>
<line x1="568.60" y1="501.40" x2="573.20" y2="501.40" stroke="#111" stroke-width="1.3" />
<text x="578.00" y="505.10" font-size="10.6">WT</text>
<line x1="432.30" y1="515.30" x2="432.30" y2="519.50" stroke="#111" stroke-width="1.3" />
<text x="432.30" y="532.20" font-size="10.2" text-anchor="middle" textLength="21.0" lengthAdjust="spacingAndGlyphs">0.00</text>
<line x1="466.38" y1="515.30" x2="466.38" y2="519.50" stroke="#111" stroke-width="1.3" />
<text x="466.38" y="532.20" font-size="10.2" text-anchor="middle" textLength="21.0" lengthAdjust="spacingAndGlyphs">0.25</text>
<line x1="500.45" y1="515.30" x2="500.45" y2="519.50" stroke="#111" stroke-width="1.3" />
<text x="500.45" y="532.20" font-size="10.2" text-anchor="middle" textLength="21.0" lengthAdjust="spacingAndGlyphs">0.50</text>
<line x1="534.52" y1="515.30" x2="534.52" y2="519.50" stroke="#111" stroke-width="1.3" />
<text x="534.52" y="532.20" font-size="10.2" text-anchor="middle" textLength="21.0" lengthAdjust="spacingAndGlyphs">0.75</text>
<line x1="568.60" y1="515.30" x2="568.60" y2="519.50" stroke="#111" stroke-width="1.3" />
<text x="568.60" y="532.20" font-size="10.2" text-anchor="middle" textLength="21.0" lengthAdjust="spacingAndGlyphs">1.00</text>
<text x="500.75" y="545.60" font-size="11.0" text-anchor="middle" textLength="37.6" lengthAdjust="spacingAndGlyphs">β values</text>
<line x1="466.60" y1="429.80" x2="553.30" y2="429.80" stroke="#555" stroke-width="1.0" />
<rect x="474.00" y="421.00" width="61.60" height="17.60" fill="#e11e18" stroke="#3a3a3a" stroke-width="1.0"/>
<line x1="504.80" y1="421.00" x2="504.80" y2="438.60" stroke="#3a3a3a" stroke-width="1.6" />
<line x1="457.90" y1="453.60" x2="517.90" y2="453.60" stroke="#555" stroke-width="1.0" />
<rect x="462.40" y="444.80" width="40.10" height="17.60" fill="#f2b2b6" stroke="#3a3a3a" stroke-width="1.0"/>
<line x1="480.40" y1="444.80" x2="480.40" y2="462.40" stroke="#3a3a3a" stroke-width="1.6" />
<line x1="470.10" y1="477.30" x2="530.80" y2="477.30" stroke="#555" stroke-width="1.0" />
<rect x="480.40" y="468.50" width="25.30" height="17.60" fill="#1a10e6" stroke="#3a3a3a" stroke-width="1.0"/>
<line x1="490.30" y1="468.50" x2="490.30" y2="486.10" stroke="#3a3a3a" stroke-width="1.6" />
<line x1="439.90" y1="501.40" x2="476.20" y2="501.40" stroke="#555" stroke-width="1.0" />
<rect x="456.30" y="492.60" width="16.00" height="17.60" fill="#7a86f2" stroke="#3a3a3a" stroke-width="1.0"/>
<line x1="464.30" y1="492.60" x2="464.30" y2="510.20" stroke="#3a3a3a" stroke-width="1.6" />
<line x1="607.90" y1="422.80" x2="607.90" y2="462.30" stroke="#111" stroke-width="1.3" />
<line x1="607.90" y1="470.30" x2="607.90" y2="509.50" stroke="#111" stroke-width="1.3" />
<text x="612.00" y="445.50" font-size="10.6">MT</text>
<text x="612.00" y="491.30" font-size="10.6">BN</text>
<text x="259.20" y="603.90" font-size="14.6" text-anchor="middle" textLength="89" lengthAdjust="spacingAndGlyphs">SATB2 DMRs</text>
<text x="270.90" y="626.60" font-size="14.0" text-anchor="middle" textLength="233.7" lengthAdjust="spacingAndGlyphs">chr2 : 200,320,749 - 200,335,874</text>
<line x1="102.30" y1="729.80" x2="107.60" y2="729.80" stroke="#1a1a1a" stroke-width="1.3" />
<text x="98.60" y="733.80" font-size="10.3" text-anchor="end" textLength="20.2" lengthAdjust="spacingAndGlyphs">0.00</text>
<line x1="102.30" y1="705.85" x2="107.60" y2="705.85" stroke="#1a1a1a" stroke-width="1.3" />
<text x="98.60" y="709.85" font-size="10.3" text-anchor="end" textLength="20.2" lengthAdjust="spacingAndGlyphs">0.25</text>
<line x1="102.30" y1="681.90" x2="107.60" y2="681.90" stroke="#1a1a1a" stroke-width="1.3" />
<text x="98.60" y="685.90" font-size="10.3" text-anchor="end" textLength="20.2" lengthAdjust="spacingAndGlyphs">0.50</text>
<line x1="102.30" y1="657.95" x2="107.60" y2="657.95" stroke="#1a1a1a" stroke-width="1.3" />
<text x="98.60" y="661.95" font-size="10.3" text-anchor="end" textLength="20.2" lengthAdjust="spacingAndGlyphs">0.75</text>
<line x1="102.30" y1="634.00" x2="107.60" y2="634.00" stroke="#1a1a1a" stroke-width="1.3" />
<text x="98.60" y="638.00" font-size="10.3" text-anchor="end" textLength="20.2" lengthAdjust="spacingAndGlyphs">1.00</text>
<text x="72.20" y="681.90" font-size="10.2" text-anchor="middle" textLength="36.5" lengthAdjust="spacingAndGlyphs" transform="rotate(-90 72.20 681.90)">β values</text>
<g><circle cx="126.1" cy="638.9" r="1.75" fill="#8b0f0f"/><circle cx="125.9" cy="639.0" r="1.75" fill="#8b0f0f"/><circle cx="122.0" cy="648.5" r="1.75" fill="#8b0f0f"/><circle cx="129.8" cy="657.6" r="1.75" fill="#8b0f0f"/><circle cx="125.9" cy="660.2" r="1.75" fill="#8b0f0f"/><circle cx="129.8" cy="646.2" r="1.75" fill="#8b0f0f"/><circle cx="126.1" cy="644.6" r="1.75" fill="#8b0f0f"/><circle cx="127.9" cy="645.4" r="1.75" fill="#8b0f0f"/><circle cx="127.7" cy="661.7" r="1.75" fill="#8b0f0f"/><circle cx="122.1" cy="641.1" r="1.75" fill="#8b0f0f"/><circle cx="124.0" cy="639.3" r="1.75" fill="#8b0f0f"/><circle cx="127.8" cy="654.6" r="1.75" fill="#8b0f0f"/><circle cx="120.2" cy="650.0" r="1.75" fill="#8b0f0f"/><circle cx="124.0" cy="647.4" r="1.75" fill="#8b0f0f"/><circle cx="120.3" cy="654.0" r="1.75" fill="#8b0f0f"/><circle cx="122.1" cy="661.9" r="1.75" fill="#8b0f0f"/><circle cx="128.0" cy="651.6" r="1.75" fill="#8b0f0f"/><circle cx="124.0" cy="636.1" r="1.75" fill="#8b0f0f"/><circle cx="129.7" cy="656.9" r="1.75" fill="#8b0f0f"/><circle cx="120.2" cy="635.5" r="1.75" fill="#8b0f0f"/><circle cx="125.9" cy="647.0" r="1.75" fill="#8b0f0f"/><circle cx="122.2" cy="655.2" r="1.75" fill="#8b0f0f"/><circle cx="120.1" cy="662.3" r="1.75" fill="#8b0f0f"/><circle cx="126.0" cy="659.5" r="1.75" fill="#8b0f0f"/><circle cx="122.2" cy="662.4" r="1.75" fill="#8b0f0f"/><circle cx="126.0" cy="657.8" r="1.75" fill="#8b0f0f"/><circle cx="127.8" cy="648.6" r="1.75" fill="#8b0f0f"/><circle cx="129.9" cy="651.1" r="1.75" fill="#8b0f0f"/><circle cx="125.8" cy="651.1" r="1.75" fill="#8b0f0f"/><circle cx="122.0" cy="638.7" r="1.75" fill="#8b0f0f"/><circle cx="127.8" cy="638.2" r="1.75" fill="#8b0f0f"/><circle cx="122.0" cy="635.1" r="1.75" fill="#8b0f0f"/><circle cx="127.9" cy="660.0" r="1.75" fill="#8b0f0f"/><circle cx="122.0" cy="655.6" r="1.75" fill="#8b0f0f"/><circle cx="127.8" cy="654.5" r="1.75" fill="#8b0f0f"/><circle cx="120.1" cy="656.9" r="1.75" fill="#8b0f0f"/><circle cx="129.7" cy="646.0" r="1.75" fill="#8b0f0f"/><circle cx="124.1" cy="659.2" r="1.75" fill="#8b0f0f"/><circle cx="127.9" cy="646.8" r="1.75" fill="#8b0f0f"/><circle cx="125.9" cy="658.5" r="1.75" fill="#8b0f0f"/><circle cx="122.2" cy="655.8" r="1.75" fill="#8b0f0f"/><circle cx="122.0" cy="645.3" r="1.75" fill="#8b0f0f"/><circle cx="127.8" cy="636.3" r="1.75" fill="#8b0f0f"/><circle cx="126.0" cy="651.0" r="1.75" fill="#8b0f0f"/><circle cx="120.1" cy="648.5" r="1.75" fill="#8b0f0f"/><circle cx="124.0" cy="643.2" r="1.75" fill="#8b0f0f"/><circle cx="124.0" cy="637.6" r="1.75" fill="#8b0f0f"/><circle cx="125.9" cy="657.9" r="1.75" fill="#8b0f0f"/><circle cx="129.9" cy="659.2" r="1.75" fill="#8b0f0f"/><circle cx="126.0" cy="639.1" r="1.75" fill="#8b0f0f"/><circle cx="127.8" cy="656.8" r="1.75" fill="#8b0f0f"/><circle cx="122.2" cy="660.8" r="1.75" fill="#8b0f0f"/><circle cx="125.9" cy="661.1" r="1.75" fill="#8b0f0f"/><circle cx="122.1" cy="648.0" r="1.75" fill="#8b0f0f"/><circle cx="122.0" cy="658.9" r="1.75" fill="#8b0f0f"/><circle cx="126.1" cy="644.5" r="1.75" fill="#8b0f0f"/><circle cx="129.8" cy="636.4" r="1.75" fill="#8b0f0f"/><circle cx="127.7" cy="662.2" r="1.75" fill="#8b0f0f"/><circle cx="124.1" cy="636.0" r="1.75" fill="#8b0f0f"/><circle cx="120.2" cy="660.7" r="1.75" fill="#8b0f0f"/><circle cx="120.3" cy="653.9" r="1.75" fill="#8b0f0f"/><circle cx="120.1" cy="647.6" r="1.75" fill="#8b0f0f"/><circle cx="129.7" cy="636.7" r="1.75" fill="#8b0f0f"/><circle cx="129.9" cy="640.7" r="1.75" fill="#8b0f0f"/><circle cx="124.0" cy="643.7" r="1.75" fill="#8b0f0f"/><circle cx="120.3" cy="651.2" r="1.75" fill="#8b0f0f"/><circle cx="120.3" cy="646.8" r="1.75" fill="#8b0f0f"/><circle cx="127.9" cy="652.2" r="1.75" fill="#8b0f0f"/><circle cx="120.2" cy="660.5" r="1.75" fill="#8b0f0f"/><circle cx="129.7" cy="655.6" r="1.75" fill="#8b0f0f"/><circle cx="126.0" cy="651.9" r="1.75" fill="#8b0f0f"/><circle cx="129.9" cy="650.0" r="1.75" fill="#8b0f0f"/><circle cx="126.1" cy="660.4" r="1.75" fill="#8b0f0f"/><circle cx="127.7" cy="646.0" r="1.75" fill="#8b0f0f"/><circle cx="125.8" cy="636.1" r="1.75" fill="#8b0f0f"/><circle cx="120.2" cy="645.7" r="1.75" fill="#8b0f0f"/><circle cx="125.9" cy="662.4" r="1.75" fill="#8b0f0f"/><circle cx="123.9" cy="645.7" r="1.75" fill="#8b0f0f"/><circle cx="127.8" cy="637.6" r="1.75" fill="#8b0f0f"/><circle cx="129.9" cy="648.9" r="1.75" fill="#8b0f0f"/><circle cx="122.1" cy="644.2" r="1.75" fill="#8b0f0f"/><circle cx="122.2" cy="640.4" r="1.75" fill="#8b0f0f"/><circle cx="122.2" cy="652.1" r="1.75" fill="#8b0f0f"/><circle cx="128.0" cy="656.9" r="1.75" fill="#8b0f0f"/><circle cx="122.1" cy="639.5" r="1.75" fill="#8b0f0f"/><circle cx="120.3" cy="636.3" r="1.75" fill="#8b0f0f"/><circle cx="124.1" cy="659.6" r="1.75" fill="#8b0f0f"/><circle cx="125.9" cy="656.8" r="1.75" fill="#8b0f0f"/><circle cx="125.9" cy="648.3" r="1.75" fill="#8b0f0f"/><circle cx="129.7" cy="639.4" r="1.75" fill="#8b0f0f"/><circle cx="127.9" cy="660.7" r="1.75" fill="#8b0f0f"/><circle cx="120.1" cy="645.9" r="1.75" fill="#8b0f0f"/><circle cx="129.9" cy="646.9" r="1.75" fill="#8b0f0f"/><circle cx="124.1" cy="647.1" r="1.75" fill="#8b0f0f"/><circle cx="129.7" cy="650.1" r="1.75" fill="#8b0f0f"/><circle cx="120.3" cy="726.0" r="1.75" fill="#8b0f0f"/><circle cx="122.2" cy="715.7" r="1.75" fill="#8b0f0f"/><circle cx="120.2" cy="720.7" r="1.75" fill="#8b0f0f"/><circle cx="129.8" cy="724.5" r="1.75" fill="#8b0f0f"/><circle cx="120.3" cy="726.9" r="1.75" fill="#8b0f0f"/><circle cx="125.9" cy="719.5" r="1.75" fill="#8b0f0f"/><circle cx="126.0" cy="729.3" r="1.75" fill="#8b0f0f"/><circle cx="122.1" cy="724.8" r="1.75" fill="#8b0f0f"/><circle cx="129.9" cy="722.6" r="1.75" fill="#8b0f0f"/><circle cx="122.1" cy="718.4" r="1.75" fill="#8b0f0f"/><circle cx="122.0" cy="716.4" r="1.75" fill="#8b0f0f"/><circle cx="129.8" cy="723.3" r="1.75" fill="#8b0f0f"/><circle cx="122.2" cy="716.7" r="1.75" fill="#8b0f0f"/><circle cx="126.0" cy="720.4" r="1.75" fill="#8b0f0f"/><circle cx="128.0" cy="716.2" r="1.75" fill="#8b0f0f"/><circle cx="125.9" cy="715.7" r="1.75" fill="#8b0f0f"/><circle cx="120.3" cy="718.0" r="1.75" fill="#8b0f0f"/><circle cx="129.9" cy="728.0" r="1.75" fill="#8b0f0f"/><circle cx="122.2" cy="715.7" r="1.75" fill="#8b0f0f"/><circle cx="124.1" cy="718.4" r="1.75" fill="#8b0f0f"/><circle cx="124.0" cy="719.5" r="1.75" fill="#8b0f0f"/><circle cx="120.2" cy="728.6" r="1.75" fill="#8b0f0f"/><circle cx="125.9" cy="723.7" r="1.75" fill="#8b0f0f"/><circle cx="124.0" cy="729.4" r="1.75" fill="#8b0f0f"/><circle cx="120.2" cy="729.3" r="1.75" fill="#8b0f0f"/><circle cx="127.8" cy="718.5" r="1.75" fill="#8b0f0f"/><circle cx="122.1" cy="715.4" r="1.75" fill="#8b0f0f"/><circle cx="129.8" cy="720.1" r="1.75" fill="#8b0f0f"/><circle cx="126.1" cy="722.7" r="1.75" fill="#8b0f0f"/><circle cx="129.7" cy="726.6" r="1.75" fill="#8b0f0f"/><circle cx="127.9" cy="717.9" r="1.75" fill="#8b0f0f"/><circle cx="127.9" cy="722.3" r="1.75" fill="#8b0f0f"/><circle cx="127.8" cy="720.2" r="1.75" fill="#8b0f0f"/><circle cx="127.8" cy="717.6" r="1.75" fill="#8b0f0f"/><circle cx="127.9" cy="721.6" r="1.75" fill="#8b0f0f"/><circle cx="122.1" cy="728.2" r="1.75" fill="#8b0f0f"/><circle cx="120.2" cy="729.4" r="1.75" fill="#8b0f0f"/><circle cx="120.2" cy="724.0" r="1.75" fill="#8b0f0f"/><circle cx="127.8" cy="728.5" r="1.75" fill="#8b0f0f"/><circle cx="122.0" cy="722.1" r="1.75" fill="#8b0f0f"/><circle cx="126.1" cy="718.3" r="1.75" fill="#8b0f0f"/><circle cx="125.9" cy="723.0" r="1.75" fill="#8b0f0f"/><circle cx="122.1" cy="716.9" r="1.75" fill="#8b0f0f"/><circle cx="126.0" cy="728.2" r="1.75" fill="#8b0f0f"/><circle cx="126.0" cy="716.5" r="1.75" fill="#8b0f0f"/><circle cx="122.2" cy="715.8" r="1.75" fill="#8b0f0f"/><circle cx="120.1" cy="726.5" r="1.75" fill="#8b0f0f"/><circle cx="129.7" cy="719.4" r="1.75" fill="#8b0f0f"/><circle cx="122.2" cy="728.3" r="1.75" fill="#8b0f0f"/><circle cx="129.8" cy="717.6" r="1.75" fill="#8b0f0f"/><circle cx="127.8" cy="727.0" r="1.75" fill="#8b0f0f"/><circle cx="128.0" cy="729.5" r="1.75" fill="#8b0f0f"/><circle cx="129.8" cy="722.2" r="1.75" fill="#8b0f0f"/><circle cx="122.1" cy="717.4" r="1.75" fill="#8b0f0f"/><circle cx="127.9" cy="722.2" r="1.75" fill="#8b0f0f"/><circle cx="127.9" cy="717.5" r="1.75" fill="#8b0f0f"/><circle cx="122.2" cy="720.8" r="1.75" fill="#8b0f0f"/><circle cx="124.2" cy="725.3" r="1.75" fill="#8b0f0f"/><circle cx="124.2" cy="727.0" r="1.75" fill="#8b0f0f"/><circle cx="122.2" cy="727.9" r="1.75" fill="#8b0f0f"/><circle cx="122.0" cy="728.5" r="1.75" fill="#8b0f0f"/><circle cx="125.8" cy="717.8" r="1.75" fill="#8b0f0f"/><circle cx="126.0" cy="719.7" r="1.75" fill="#8b0f0f"/><circle cx="122.1" cy="720.0" r="1.75" fill="#8b0f0f"/><circle cx="120.1" cy="721.6" r="1.75" fill="#8b0f0f"/><circle cx="124.2" cy="715.9" r="1.75" fill="#8b0f0f"/><circle cx="120.3" cy="720.7" r="1.75" fill="#8b0f0f"/><circle cx="124.0" cy="719.9" r="1.75" fill="#8b0f0f"/><circle cx="122.2" cy="722.9" r="1.75" fill="#8b0f0f"/><circle cx="120.1" cy="721.9" r="1.75" fill="#8b0f0f"/><circle cx="128.0" cy="722.9" r="1.75" fill="#8b0f0f"/><circle cx="122.0" cy="726.9" r="1.75" fill="#8b0f0f"/><circle cx="122.3" cy="716.5" r="1.75" fill="#8b0f0f"/><circle cx="120.2" cy="727.9" r="1.75" fill="#8b0f0f"/><circle cx="129.8" cy="718.8" r="1.75" fill="#8b0f0f"/><circle cx="124.0" cy="723.7" r="1.75" fill="#8b0f0f"/><circle cx="124.0" cy="721.2" r="1.75" fill="#8b0f0f"/><circle cx="120.2" cy="729.2" r="1.75" fill="#8b0f0f"/><circle cx="122.0" cy="723.3" r="1.75" fill="#8b0f0f"/><circle cx="129.8" cy="716.6" r="1.75" fill="#8b0f0f"/><circle cx="127.8" cy="722.4" r="1.75" fill="#8b0f0f"/><circle cx="120.1" cy="728.6" r="1.75" fill="#8b0f0f"/><circle cx="129.9" cy="716.7" r="1.75" fill="#8b0f0f"/><circle cx="126.0" cy="727.1" r="1.75" fill="#8b0f0f"/><circle cx="128.0" cy="718.2" r="1.75" fill="#8b0f0f"/><circle cx="124.0" cy="728.1" r="1.75" fill="#8b0f0f"/><circle cx="129.9" cy="718.1" r="1.75" fill="#8b0f0f"/><circle cx="125.8" cy="725.1" r="1.75" fill="#8b0f0f"/><circle cx="127.9" cy="718.8" r="1.75" fill="#8b0f0f"/><circle cx="122.1" cy="719.4" r="1.75" fill="#8b0f0f"/><circle cx="120.3" cy="725.5" r="1.75" fill="#8b0f0f"/><circle cx="120.1" cy="724.7" r="1.75" fill="#8b0f0f"/><circle cx="129.9" cy="729.1" r="1.75" fill="#8b0f0f"/><circle cx="124.2" cy="720.2" r="1.75" fill="#8b0f0f"/><circle cx="124.0" cy="724.0" r="1.75" fill="#8b0f0f"/><circle cx="122.1" cy="694.9" r="1.75" fill="#8b0f0f"/><circle cx="126.0" cy="678.5" r="1.75" fill="#8b0f0f"/><circle cx="126.1" cy="714.2" r="1.75" fill="#8b0f0f"/><circle cx="127.8" cy="702.9" r="1.75" fill="#8b0f0f"/><circle cx="125.9" cy="712.8" r="1.75" fill="#8b0f0f"/><circle cx="122.2" cy="714.9" r="1.75" fill="#8b0f0f"/><circle cx="124.0" cy="667.7" r="1.75" fill="#8b0f0f"/><circle cx="127.9" cy="693.5" r="1.75" fill="#8b0f0f"/><circle cx="127.9" cy="663.0" r="1.75" fill="#8b0f0f"/><circle cx="129.8" cy="681.5" r="1.75" fill="#8b0f0f"/><circle cx="127.9" cy="675.4" r="1.75" fill="#8b0f0f"/><circle cx="120.2" cy="666.0" r="1.75" fill="#8b0f0f"/><circle cx="126.0" cy="706.5" r="1.75" fill="#8b0f0f"/><circle cx="126.0" cy="684.0" r="1.75" fill="#8b0f0f"/><circle cx="126.1" cy="693.3" r="1.75" fill="#8b0f0f"/><circle cx="127.8" cy="699.0" r="1.75" fill="#8b0f0f"/><circle cx="127.8" cy="680.9" r="1.75" fill="#8b0f0f"/><circle cx="128.0" cy="680.5" r="1.75" fill="#8b0f0f"/><circle cx="129.7" cy="714.7" r="1.75" fill="#8b0f0f"/><circle cx="122.1" cy="682.1" r="1.75" fill="#8b0f0f"/><circle cx="126.0" cy="694.9" r="1.75" fill="#8b0f0f"/><circle cx="124.1" cy="712.8" r="1.75" fill="#8b0f0f"/><circle cx="129.9" cy="711.6" r="1.75" fill="#8b0f0f"/><circle cx="122.1" cy="690.3" r="1.75" fill="#8b0f0f"/><circle cx="122.0" cy="710.2" r="1.75" fill="#8b0f0f"/><circle cx="129.9" cy="707.8" r="1.75" fill="#8b0f0f"/><circle cx="122.2" cy="709.4" r="1.75" fill="#8b0f0f"/><circle cx="127.9" cy="709.2" r="1.75" fill="#8b0f0f"/><circle cx="120.2" cy="707.3" r="1.75" fill="#8b0f0f"/><circle cx="124.0" cy="680.2" r="1.75" fill="#8b0f0f"/><circle cx="126.0" cy="681.7" r="1.75" fill="#8b0f0f"/><circle cx="129.8" cy="674.4" r="1.75" fill="#8b0f0f"/><circle cx="128.0" cy="708.2" r="1.75" fill="#8b0f0f"/><circle cx="124.1" cy="702.9" r="1.75" fill="#8b0f0f"/><circle cx="120.2" cy="699.2" r="1.75" fill="#8b0f0f"/><circle cx="127.9" cy="696.5" r="1.75" fill="#8b0f0f"/><circle cx="124.1" cy="677.2" r="1.75" fill="#8b0f0f"/><circle cx="129.8" cy="682.1" r="1.75" fill="#8b0f0f"/><circle cx="122.0" cy="702.3" r="1.75" fill="#8b0f0f"/><circle cx="129.9" cy="669.1" r="1.75" fill="#8b0f0f"/><circle cx="120.2" cy="714.9" r="1.75" fill="#8b0f0f"/><circle cx="124.0" cy="682.6" r="1.75" fill="#8b0f0f"/><circle cx="120.1" cy="700.8" r="1.75" fill="#8b0f0f"/><circle cx="120.3" cy="707.0" r="1.75" fill="#8b0f0f"/><circle cx="122.2" cy="695.8" r="1.75" fill="#8b0f0f"/><circle cx="125.9" cy="697.6" r="1.75" fill="#8b0f0f"/><circle cx="126.0" cy="671.2" r="1.75" fill="#8b0f0f"/><circle cx="120.3" cy="691.9" r="1.75" fill="#8b0f0f"/><circle cx="128.0" cy="674.9" r="1.75" fill="#8b0f0f"/><circle cx="125.9" cy="701.8" r="1.75" fill="#8b0f0f"/><circle cx="122.1" cy="681.0" r="1.75" fill="#8b0f0f"/><circle cx="127.8" cy="686.5" r="1.75" fill="#8b0f0f"/><circle cx="129.9" cy="705.7" r="1.75" fill="#8b0f0f"/><circle cx="129.8" cy="710.3" r="1.75" fill="#8b0f0f"/><circle cx="123.9" cy="711.1" r="1.75" fill="#8b0f0f"/><circle cx="127.9" cy="672.5" r="1.75" fill="#8b0f0f"/><circle cx="125.9" cy="674.6" r="1.75" fill="#8b0f0f"/><circle cx="120.1" cy="667.4" r="1.75" fill="#8b0f0f"/><circle cx="127.8" cy="699.4" r="1.75" fill="#8b0f0f"/><circle cx="129.9" cy="698.2" r="1.75" fill="#8b0f0f"/><circle cx="122.0" cy="680.8" r="1.75" fill="#8b0f0f"/><circle cx="124.0" cy="709.2" r="1.75" fill="#8b0f0f"/><circle cx="129.8" cy="684.1" r="1.75" fill="#8b0f0f"/><circle cx="129.9" cy="692.4" r="1.75" fill="#8b0f0f"/><circle cx="124.0" cy="703.8" r="1.75" fill="#8b0f0f"/><circle cx="134.6" cy="640.4" r="1.75" fill="#8b0f0f"/><circle cx="134.6" cy="651.4" r="1.75" fill="#8b0f0f"/><circle cx="134.7" cy="652.8" r="1.75" fill="#8b0f0f"/><circle cx="134.7" cy="654.3" r="1.75" fill="#8b0f0f"/><circle cx="134.7" cy="659.4" r="1.75" fill="#8b0f0f"/><circle cx="134.8" cy="668.9" r="1.75" fill="#8b0f0f"/><circle cx="134.6" cy="670.3" r="1.75" fill="#8b0f0f"/><circle cx="134.5" cy="671.8" r="1.75" fill="#8b0f0f"/><circle cx="134.8" cy="681.3" r="1.75" fill="#8b0f0f"/><circle cx="134.5" cy="683.5" r="1.75" fill="#8b0f0f"/><circle cx="134.7" cy="696.6" r="1.75" fill="#8b0f0f"/><circle cx="134.7" cy="714.1" r="1.75" fill="#8b0f0f"/><circle cx="134.4" cy="717.1" r="1.75" fill="#8b0f0f"/><circle cx="134.7" cy="720.0" r="1.75" fill="#8b0f0f"/><circle cx="134.8" cy="722.9" r="1.75" fill="#8b0f0f"/><circle cx="134.7" cy="725.8" r="1.75" fill="#8b0f0f"/><circle cx="134.7" cy="728.7" r="1.75" fill="#8b0f0f"/><circle cx="139.4" cy="681.3" r="1.75" fill="#8b0f0f"/><circle cx="139.5" cy="694.4" r="1.75" fill="#8b0f0f"/><circle cx="139.5" cy="715.6" r="1.75" fill="#8b0f0f"/><circle cx="139.5" cy="718.5" r="1.75" fill="#8b0f0f"/><circle cx="139.4" cy="721.4" r="1.75" fill="#8b0f0f"/><circle cx="139.6" cy="724.4" r="1.75" fill="#8b0f0f"/><circle cx="139.5" cy="727.3" r="1.75" fill="#8b0f0f"/><circle cx="145.1" cy="718.5" r="1.75" fill="#8b0f0f"/><circle cx="145.0" cy="721.4" r="1.75" fill="#8b0f0f"/><circle cx="145.1" cy="724.4" r="1.75" fill="#8b0f0f"/><circle cx="145.1" cy="727.3" r="1.75" fill="#8b0f0f"/><circle cx="154.8" cy="693.7" r="1.75" fill="#8b0f0f"/><circle cx="154.7" cy="695.2" r="1.75" fill="#8b0f0f"/><circle cx="154.8" cy="696.6" r="1.75" fill="#8b0f0f"/><circle cx="154.8" cy="698.1" r="1.75" fill="#8b0f0f"/><circle cx="154.8" cy="699.5" r="1.75" fill="#8b0f0f"/><circle cx="154.7" cy="701.0" r="1.75" fill="#8b0f0f"/><circle cx="154.5" cy="702.5" r="1.75" fill="#8b0f0f"/><circle cx="154.8" cy="703.9" r="1.75" fill="#8b0f0f"/><circle cx="154.8" cy="705.4" r="1.75" fill="#8b0f0f"/><circle cx="154.7" cy="706.8" r="1.75" fill="#8b0f0f"/><circle cx="154.7" cy="708.3" r="1.75" fill="#8b0f0f"/><circle cx="154.8" cy="714.1" r="1.75" fill="#8b0f0f"/><circle cx="154.5" cy="717.1" r="1.75" fill="#8b0f0f"/><circle cx="154.8" cy="720.0" r="1.75" fill="#8b0f0f"/><circle cx="154.6" cy="722.9" r="1.75" fill="#8b0f0f"/><circle cx="154.5" cy="725.8" r="1.75" fill="#8b0f0f"/><circle cx="163.7" cy="685.7" r="1.75" fill="#8b0f0f"/><circle cx="163.5" cy="703.9" r="1.75" fill="#8b0f0f"/><circle cx="163.7" cy="706.8" r="1.75" fill="#8b0f0f"/><circle cx="163.8" cy="709.8" r="1.75" fill="#8b0f0f"/><circle cx="163.6" cy="712.7" r="1.75" fill="#8b0f0f"/><circle cx="163.6" cy="715.6" r="1.75" fill="#8b0f0f"/><circle cx="163.6" cy="718.5" r="1.75" fill="#8b0f0f"/><circle cx="163.7" cy="721.4" r="1.75" fill="#8b0f0f"/><circle cx="163.7" cy="724.4" r="1.75" fill="#8b0f0f"/><circle cx="163.6" cy="727.3" r="1.75" fill="#8b0f0f"/><circle cx="165.7" cy="705.4" r="1.75" fill="#8b0f0f"/><circle cx="165.4" cy="708.3" r="1.75" fill="#8b0f0f"/><circle cx="165.5" cy="711.2" r="1.75" fill="#8b0f0f"/><circle cx="165.5" cy="714.1" r="1.75" fill="#8b0f0f"/><circle cx="165.7" cy="717.1" r="1.75" fill="#8b0f0f"/><circle cx="165.5" cy="720.0" r="1.75" fill="#8b0f0f"/><circle cx="165.6" cy="722.9" r="1.75" fill="#8b0f0f"/><circle cx="165.4" cy="725.8" r="1.75" fill="#8b0f0f"/><circle cx="165.4" cy="728.7" r="1.75" fill="#8b0f0f"/><circle cx="167.8" cy="727.3" r="1.75" fill="#8b0f0f"/><circle cx="177.4" cy="682.7" r="1.75" fill="#8b0f0f"/><circle cx="177.4" cy="722.9" r="1.75" fill="#8b0f0f"/><circle cx="177.4" cy="725.8" r="1.75" fill="#8b0f0f"/><circle cx="177.2" cy="728.7" r="1.75" fill="#8b0f0f"/><circle cx="186.5" cy="695.9" r="1.75" fill="#8b0f0f"/><circle cx="186.5" cy="697.3" r="1.75" fill="#8b0f0f"/><circle cx="186.5" cy="698.8" r="1.75" fill="#8b0f0f"/><circle cx="186.3" cy="700.3" r="1.75" fill="#8b0f0f"/><circle cx="186.7" cy="701.7" r="1.75" fill="#8b0f0f"/><circle cx="186.4" cy="708.3" r="1.75" fill="#8b0f0f"/><circle cx="186.7" cy="711.2" r="1.75" fill="#8b0f0f"/><circle cx="186.7" cy="714.1" r="1.75" fill="#8b0f0f"/><circle cx="186.3" cy="717.1" r="1.75" fill="#8b0f0f"/><circle cx="186.5" cy="720.0" r="1.75" fill="#8b0f0f"/><circle cx="186.6" cy="722.9" r="1.75" fill="#8b0f0f"/><circle cx="186.7" cy="725.8" r="1.75" fill="#8b0f0f"/><circle cx="186.5" cy="728.7" r="1.75" fill="#8b0f0f"/><circle cx="194.0" cy="695.2" r="1.75" fill="#8b0f0f"/><circle cx="194.0" cy="701.0" r="1.75" fill="#8b0f0f"/><circle cx="194.3" cy="702.5" r="1.75" fill="#8b0f0f"/><circle cx="194.0" cy="703.9" r="1.75" fill="#8b0f0f"/><circle cx="194.1" cy="705.4" r="1.75" fill="#8b0f0f"/><circle cx="194.0" cy="706.8" r="1.75" fill="#8b0f0f"/><circle cx="194.1" cy="708.3" r="1.75" fill="#8b0f0f"/><circle cx="194.3" cy="712.7" r="1.75" fill="#8b0f0f"/><circle cx="194.0" cy="715.6" r="1.75" fill="#8b0f0f"/><circle cx="194.2" cy="718.5" r="1.75" fill="#8b0f0f"/><circle cx="194.1" cy="721.4" r="1.75" fill="#8b0f0f"/><circle cx="194.3" cy="724.4" r="1.75" fill="#8b0f0f"/><circle cx="194.2" cy="727.3" r="1.75" fill="#8b0f0f"/><circle cx="197.7" cy="692.2" r="1.75" fill="#8b0f0f"/><circle cx="198.0" cy="715.6" r="1.75" fill="#8b0f0f"/><circle cx="197.8" cy="718.5" r="1.75" fill="#8b0f0f"/><circle cx="197.6" cy="721.4" r="1.75" fill="#8b0f0f"/><circle cx="197.6" cy="724.4" r="1.75" fill="#8b0f0f"/><circle cx="197.8" cy="727.3" r="1.75" fill="#8b0f0f"/><circle cx="207.6" cy="658.5" r="1.75" fill="#8b0f0f"/><circle cx="207.6" cy="660.1" r="1.75" fill="#8b0f0f"/><circle cx="207.6" cy="661.7" r="1.75" fill="#8b0f0f"/><circle cx="207.6" cy="663.3" r="1.75" fill="#8b0f0f"/><circle cx="207.8" cy="664.9" r="1.75" fill="#8b0f0f"/><circle cx="207.5" cy="666.5" r="1.75" fill="#8b0f0f"/><circle cx="207.8" cy="668.1" r="1.75" fill="#8b0f0f"/><circle cx="207.8" cy="669.8" r="1.75" fill="#8b0f0f"/><circle cx="207.5" cy="671.4" r="1.75" fill="#8b0f0f"/><circle cx="207.9" cy="673.0" r="1.75" fill="#8b0f0f"/><circle cx="207.8" cy="674.6" r="1.75" fill="#8b0f0f"/><circle cx="207.9" cy="692.2" r="1.75" fill="#8b0f0f"/><circle cx="207.6" cy="701.9" r="1.75" fill="#8b0f0f"/><circle cx="207.6" cy="717.9" r="1.75" fill="#8b0f0f"/><circle cx="207.7" cy="721.1" r="1.75" fill="#8b0f0f"/><circle cx="228.6" cy="661.9" r="1.75" fill="#8b0f0f"/><circle cx="225.0" cy="649.1" r="1.75" fill="#8b0f0f"/><circle cx="224.9" cy="669.9" r="1.75" fill="#8b0f0f"/><circle cx="224.9" cy="694.4" r="1.75" fill="#8b0f0f"/><circle cx="224.8" cy="716.1" r="1.75" fill="#8b0f0f"/><circle cx="228.6" cy="702.7" r="1.75" fill="#8b0f0f"/><circle cx="228.5" cy="705.2" r="1.75" fill="#8b0f0f"/><circle cx="224.9" cy="668.2" r="1.75" fill="#8b0f0f"/><circle cx="228.5" cy="664.4" r="1.75" fill="#8b0f0f"/><circle cx="225.0" cy="666.3" r="1.75" fill="#8b0f0f"/><circle cx="224.9" cy="653.1" r="1.75" fill="#8b0f0f"/><circle cx="224.8" cy="713.1" r="1.75" fill="#8b0f0f"/><circle cx="228.4" cy="710.0" r="1.75" fill="#8b0f0f"/><circle cx="228.5" cy="710.9" r="1.75" fill="#8b0f0f"/><circle cx="225.0" cy="695.9" r="1.75" fill="#8b0f0f"/><circle cx="228.5" cy="650.4" r="1.75" fill="#8b0f0f"/><circle cx="228.6" cy="688.9" r="1.75" fill="#8b0f0f"/><circle cx="228.6" cy="701.0" r="1.75" fill="#8b0f0f"/><circle cx="224.9" cy="711.2" r="1.75" fill="#8b0f0f"/><circle cx="224.8" cy="718.5" r="1.75" fill="#8b0f0f"/><circle cx="228.6" cy="662.8" r="1.75" fill="#8b0f0f"/><circle cx="228.6" cy="724.9" r="1.75" fill="#8b0f0f"/><circle cx="225.0" cy="656.1" r="1.75" fill="#8b0f0f"/><circle cx="228.5" cy="709.0" r="1.75" fill="#8b0f0f"/><circle cx="228.5" cy="716.5" r="1.75" fill="#8b0f0f"/><circle cx="225.0" cy="717.6" r="1.75" fill="#8b0f0f"/><circle cx="224.9" cy="646.1" r="1.75" fill="#8b0f0f"/><circle cx="228.5" cy="725.3" r="1.75" fill="#8b0f0f"/><circle cx="224.8" cy="660.6" r="1.75" fill="#8b0f0f"/><circle cx="225.0" cy="722.9" r="1.75" fill="#8b0f0f"/><circle cx="228.5" cy="685.3" r="1.75" fill="#8b0f0f"/><circle cx="228.6" cy="722.8" r="1.75" fill="#8b0f0f"/><circle cx="228.4" cy="714.0" r="1.75" fill="#8b0f0f"/><circle cx="225.0" cy="722.1" r="1.75" fill="#8b0f0f"/><circle cx="228.4" cy="684.0" r="1.75" fill="#8b0f0f"/><circle cx="228.4" cy="659.7" r="1.75" fill="#8b0f0f"/><circle cx="228.4" cy="695.6" r="1.75" fill="#8b0f0f"/><circle cx="228.6" cy="673.6" r="1.75" fill="#8b0f0f"/><circle cx="224.9" cy="671.9" r="1.75" fill="#8b0f0f"/><circle cx="225.0" cy="672.8" r="1.75" fill="#8b0f0f"/><circle cx="224.9" cy="728.8" r="1.75" fill="#8b0f0f"/><circle cx="228.6" cy="689.7" r="1.75" fill="#8b0f0f"/><circle cx="228.5" cy="691.2" r="1.75" fill="#8b0f0f"/><circle cx="225.0" cy="658.6" r="1.75" fill="#8b0f0f"/><circle cx="225.0" cy="717.0" r="1.75" fill="#8b0f0f"/><circle cx="233.0" cy="658.0" r="1.75" fill="#8b0f0f"/><circle cx="233.0" cy="676.6" r="1.75" fill="#8b0f0f"/><circle cx="228.9" cy="710.6" r="1.75" fill="#8b0f0f"/><circle cx="228.9" cy="639.3" r="1.75" fill="#8b0f0f"/><circle cx="233.0" cy="698.0" r="1.75" fill="#8b0f0f"/><circle cx="232.8" cy="716.3" r="1.75" fill="#8b0f0f"/><circle cx="228.9" cy="669.4" r="1.75" fill="#8b0f0f"/><circle cx="228.9" cy="691.3" r="1.75" fill="#8b0f0f"/><circle cx="232.9" cy="721.2" r="1.75" fill="#8b0f0f"/><circle cx="228.9" cy="635.2" r="1.75" fill="#8b0f0f"/><circle cx="232.9" cy="722.8" r="1.75" fill="#8b0f0f"/><circle cx="233.0" cy="716.5" r="1.75" fill="#8b0f0f"/><circle cx="229.1" cy="651.1" r="1.75" fill="#8b0f0f"/><circle cx="232.9" cy="641.5" r="1.75" fill="#8b0f0f"/><circle cx="229.1" cy="671.1" r="1.75" fill="#8b0f0f"/><circle cx="233.0" cy="654.1" r="1.75" fill="#8b0f0f"/><circle cx="228.9" cy="711.7" r="1.75" fill="#8b0f0f"/><circle cx="232.9" cy="719.6" r="1.75" fill="#8b0f0f"/><circle cx="232.8" cy="697.9" r="1.75" fill="#8b0f0f"/><circle cx="233.0" cy="671.2" r="1.75" fill="#8b0f0f"/><circle cx="228.9" cy="678.2" r="1.75" fill="#8b0f0f"/><circle cx="232.9" cy="696.0" r="1.75" fill="#8b0f0f"/><circle cx="229.0" cy="710.8" r="1.75" fill="#8b0f0f"/><circle cx="229.0" cy="727.2" r="1.75" fill="#8b0f0f"/><circle cx="229.1" cy="716.7" r="1.75" fill="#8b0f0f"/><circle cx="232.9" cy="663.0" r="1.75" fill="#8b0f0f"/><circle cx="232.8" cy="646.2" r="1.75" fill="#8b0f0f"/><circle cx="232.9" cy="717.9" r="1.75" fill="#8b0f0f"/><circle cx="228.9" cy="675.3" r="1.75" fill="#8b0f0f"/><circle cx="229.0" cy="704.5" r="1.75" fill="#8b0f0f"/><circle cx="232.9" cy="718.0" r="1.75" fill="#8b0f0f"/><circle cx="228.9" cy="643.9" r="1.75" fill="#8b0f0f"/><circle cx="229.1" cy="695.0" r="1.75" fill="#8b0f0f"/><circle cx="228.9" cy="677.3" r="1.75" fill="#8b0f0f"/><circle cx="229.0" cy="691.2" r="1.75" fill="#8b0f0f"/><circle cx="228.9" cy="665.5" r="1.75" fill="#8b0f0f"/><circle cx="232.9" cy="668.5" r="1.75" fill="#8b0f0f"/><circle cx="228.9" cy="690.3" r="1.75" fill="#8b0f0f"/><circle cx="228.9" cy="692.8" r="1.75" fill="#8b0f0f"/><circle cx="232.8" cy="680.0" r="1.75" fill="#8b0f0f"/><circle cx="232.8" cy="640.5" r="1.75" fill="#8b0f0f"/><circle cx="229.0" cy="726.2" r="1.75" fill="#8b0f0f"/><circle cx="229.0" cy="682.1" r="1.75" fill="#8b0f0f"/><circle cx="229.0" cy="690.4" r="1.75" fill="#8b0f0f"/><circle cx="233.0" cy="683.3" r="1.75" fill="#8b0f0f"/><circle cx="233.0" cy="647.9" r="1.75" fill="#8b0f0f"/><circle cx="233.0" cy="718.6" r="1.75" fill="#8b0f0f"/><circle cx="229.1" cy="679.4" r="1.75" fill="#8b0f0f"/><circle cx="232.9" cy="727.5" r="1.75" fill="#8b0f0f"/><circle cx="228.9" cy="670.8" r="1.75" fill="#8b0f0f"/><circle cx="233.0" cy="672.6" r="1.75" fill="#8b0f0f"/><circle cx="233.0" cy="645.8" r="1.75" fill="#8b0f0f"/><circle cx="228.9" cy="687.0" r="1.75" fill="#8b0f0f"/><circle cx="233.0" cy="684.2" r="1.75" fill="#8b0f0f"/><circle cx="229.0" cy="706.9" r="1.75" fill="#8b0f0f"/><circle cx="232.9" cy="639.7" r="1.75" fill="#8b0f0f"/><circle cx="229.1" cy="659.8" r="1.75" fill="#8b0f0f"/><circle cx="233.0" cy="689.4" r="1.75" fill="#8b0f0f"/><circle cx="228.9" cy="658.3" r="1.75" fill="#8b0f0f"/><circle cx="229.1" cy="720.4" r="1.75" fill="#8b0f0f"/><circle cx="243.2" cy="635.2" r="1.75" fill="#8b0f0f"/><circle cx="243.5" cy="636.8" r="1.75" fill="#8b0f0f"/><circle cx="243.3" cy="638.4" r="1.75" fill="#8b0f0f"/><circle cx="243.6" cy="640.0" r="1.75" fill="#8b0f0f"/><circle cx="243.3" cy="641.7" r="1.75" fill="#8b0f0f"/><circle cx="243.3" cy="648.9" r="1.75" fill="#8b0f0f"/><circle cx="243.4" cy="652.1" r="1.75" fill="#8b0f0f"/><circle cx="243.3" cy="655.3" r="1.75" fill="#8b0f0f"/><circle cx="243.3" cy="658.5" r="1.75" fill="#8b0f0f"/><circle cx="243.6" cy="661.7" r="1.75" fill="#8b0f0f"/><circle cx="243.6" cy="664.9" r="1.75" fill="#8b0f0f"/><circle cx="243.5" cy="668.1" r="1.75" fill="#8b0f0f"/><circle cx="243.5" cy="671.4" r="1.75" fill="#8b0f0f"/><circle cx="243.6" cy="674.6" r="1.75" fill="#8b0f0f"/><circle cx="243.6" cy="677.8" r="1.75" fill="#8b0f0f"/><circle cx="243.4" cy="681.0" r="1.75" fill="#8b0f0f"/><circle cx="243.5" cy="684.2" r="1.75" fill="#8b0f0f"/><circle cx="243.2" cy="703.5" r="1.75" fill="#8b0f0f"/><circle cx="243.5" cy="717.9" r="1.75" fill="#8b0f0f"/><circle cx="243.4" cy="721.1" r="1.75" fill="#8b0f0f"/><circle cx="243.5" cy="724.4" r="1.75" fill="#8b0f0f"/><circle cx="243.5" cy="727.6" r="1.75" fill="#8b0f0f"/><circle cx="267.6" cy="685.0" r="1.75" fill="#8b0f0f"/><circle cx="267.3" cy="692.2" r="1.75" fill="#8b0f0f"/><circle cx="267.4" cy="707.5" r="1.75" fill="#8b0f0f"/><circle cx="267.3" cy="717.9" r="1.75" fill="#8b0f0f"/><circle cx="267.3" cy="721.1" r="1.75" fill="#8b0f0f"/><circle cx="267.5" cy="724.4" r="1.75" fill="#8b0f0f"/><circle cx="267.6" cy="727.6" r="1.75" fill="#8b0f0f"/><circle cx="272.2" cy="638.4" r="1.75" fill="#8b0f0f"/><circle cx="272.4" cy="652.1" r="1.75" fill="#8b0f0f"/><circle cx="272.2" cy="661.7" r="1.75" fill="#8b0f0f"/><circle cx="272.3" cy="677.0" r="1.75" fill="#8b0f0f"/><circle cx="272.3" cy="682.6" r="1.75" fill="#8b0f0f"/><circle cx="272.2" cy="692.2" r="1.75" fill="#8b0f0f"/><circle cx="272.2" cy="695.4" r="1.75" fill="#8b0f0f"/><circle cx="272.2" cy="698.7" r="1.75" fill="#8b0f0f"/><circle cx="272.5" cy="701.9" r="1.75" fill="#8b0f0f"/><circle cx="272.3" cy="705.1" r="1.75" fill="#8b0f0f"/><circle cx="272.2" cy="708.3" r="1.75" fill="#8b0f0f"/><circle cx="272.5" cy="711.5" r="1.75" fill="#8b0f0f"/><circle cx="272.5" cy="714.7" r="1.75" fill="#8b0f0f"/><circle cx="272.3" cy="717.9" r="1.75" fill="#8b0f0f"/><circle cx="272.2" cy="721.1" r="1.75" fill="#8b0f0f"/><circle cx="272.2" cy="724.4" r="1.75" fill="#8b0f0f"/><circle cx="282.7" cy="725.5" r="1.75" fill="#8b0f0f"/><circle cx="289.6" cy="690.0" r="1.75" fill="#8b0f0f"/><circle cx="282.6" cy="637.0" r="1.75" fill="#8b0f0f"/><circle cx="286.1" cy="703.6" r="1.75" fill="#8b0f0f"/><circle cx="282.6" cy="645.6" r="1.75" fill="#8b0f0f"/><circle cx="282.7" cy="643.8" r="1.75" fill="#8b0f0f"/><circle cx="293.0" cy="646.1" r="1.75" fill="#8b0f0f"/><circle cx="282.6" cy="677.6" r="1.75" fill="#8b0f0f"/><circle cx="289.6" cy="684.4" r="1.75" fill="#8b0f0f"/><circle cx="282.7" cy="682.3" r="1.75" fill="#8b0f0f"/><circle cx="286.2" cy="657.4" r="1.75" fill="#8b0f0f"/><circle cx="282.7" cy="707.7" r="1.75" fill="#8b0f0f"/><circle cx="293.1" cy="705.8" r="1.75" fill="#8b0f0f"/><circle cx="286.1" cy="678.7" r="1.75" fill="#8b0f0f"/><circle cx="293.0" cy="710.8" r="1.75" fill="#8b0f0f"/><circle cx="282.7" cy="647.9" r="1.75" fill="#8b0f0f"/><circle cx="286.1" cy="672.7" r="1.75" fill="#8b0f0f"/><circle cx="293.2" cy="682.5" r="1.75" fill="#8b0f0f"/><circle cx="289.7" cy="726.9" r="1.75" fill="#8b0f0f"/><circle cx="282.8" cy="676.4" r="1.75" fill="#8b0f0f"/><circle cx="286.2" cy="724.7" r="1.75" fill="#8b0f0f"/><circle cx="293.0" cy="700.3" r="1.75" fill="#8b0f0f"/><circle cx="289.7" cy="683.0" r="1.75" fill="#8b0f0f"/><circle cx="286.1" cy="706.5" r="1.75" fill="#8b0f0f"/><circle cx="293.2" cy="651.8" r="1.75" fill="#8b0f0f"/><circle cx="293.0" cy="691.2" r="1.75" fill="#8b0f0f"/><circle cx="289.7" cy="663.7" r="1.75" fill="#8b0f0f"/><circle cx="282.6" cy="658.9" r="1.75" fill="#8b0f0f"/><circle cx="286.1" cy="687.1" r="1.75" fill="#8b0f0f"/><circle cx="282.6" cy="691.3" r="1.75" fill="#8b0f0f"/><circle cx="286.0" cy="677.6" r="1.75" fill="#8b0f0f"/><circle cx="293.1" cy="722.6" r="1.75" fill="#8b0f0f"/><circle cx="282.8" cy="662.5" r="1.75" fill="#8b0f0f"/><circle cx="286.1" cy="718.6" r="1.75" fill="#8b0f0f"/><circle cx="286.1" cy="721.7" r="1.75" fill="#8b0f0f"/><circle cx="286.1" cy="698.2" r="1.75" fill="#8b0f0f"/><circle cx="286.0" cy="692.0" r="1.75" fill="#8b0f0f"/><circle cx="282.8" cy="676.5" r="1.75" fill="#8b0f0f"/><circle cx="286.2" cy="692.9" r="1.75" fill="#8b0f0f"/><circle cx="286.1" cy="656.4" r="1.75" fill="#8b0f0f"/><circle cx="286.1" cy="706.7" r="1.75" fill="#8b0f0f"/><circle cx="286.2" cy="692.2" r="1.75" fill="#8b0f0f"/><circle cx="293.2" cy="685.4" r="1.75" fill="#8b0f0f"/><circle cx="293.2" cy="666.0" r="1.75" fill="#8b0f0f"/><circle cx="293.0" cy="693.8" r="1.75" fill="#8b0f0f"/><circle cx="282.6" cy="703.8" r="1.75" fill="#8b0f0f"/><circle cx="289.7" cy="681.1" r="1.75" fill="#8b0f0f"/><circle cx="289.6" cy="676.5" r="1.75" fill="#8b0f0f"/><circle cx="286.1" cy="695.9" r="1.75" fill="#8b0f0f"/><circle cx="286.2" cy="656.9" r="1.75" fill="#8b0f0f"/><circle cx="286.2" cy="661.9" r="1.75" fill="#8b0f0f"/><circle cx="282.6" cy="699.6" r="1.75" fill="#8b0f0f"/><circle cx="293.1" cy="649.6" r="1.75" fill="#8b0f0f"/><circle cx="293.0" cy="657.4" r="1.75" fill="#8b0f0f"/><circle cx="282.6" cy="672.7" r="1.75" fill="#8b0f0f"/><circle cx="293.0" cy="715.6" r="1.75" fill="#8b0f0f"/><circle cx="286.0" cy="700.5" r="1.75" fill="#8b0f0f"/><circle cx="293.1" cy="664.6" r="1.75" fill="#8b0f0f"/><circle cx="289.6" cy="687.4" r="1.75" fill="#8b0f0f"/><circle cx="293.0" cy="710.6" r="1.75" fill="#8b0f0f"/><circle cx="289.6" cy="687.6" r="1.75" fill="#8b0f0f"/><circle cx="286.1" cy="648.5" r="1.75" fill="#8b0f0f"/><circle cx="286.0" cy="695.0" r="1.75" fill="#8b0f0f"/><circle cx="286.1" cy="650.2" r="1.75" fill="#8b0f0f"/><circle cx="293.1" cy="653.9" r="1.75" fill="#8b0f0f"/><circle cx="289.7" cy="723.5" r="1.75" fill="#8b0f0f"/><circle cx="286.2" cy="696.6" r="1.75" fill="#8b0f0f"/><circle cx="282.8" cy="648.3" r="1.75" fill="#8b0f0f"/><circle cx="286.3" cy="705.4" r="1.75" fill="#8b0f0f"/><circle cx="293.0" cy="683.5" r="1.75" fill="#8b0f0f"/><circle cx="293.1" cy="699.0" r="1.75" fill="#8b0f0f"/><circle cx="293.2" cy="709.0" r="1.75" fill="#8b0f0f"/><circle cx="293.0" cy="657.7" r="1.75" fill="#8b0f0f"/><circle cx="289.7" cy="707.3" r="1.75" fill="#8b0f0f"/><circle cx="282.8" cy="644.6" r="1.75" fill="#8b0f0f"/><circle cx="286.2" cy="705.7" r="1.75" fill="#8b0f0f"/><circle cx="289.7" cy="727.6" r="1.75" fill="#8b0f0f"/><circle cx="293.0" cy="644.4" r="1.75" fill="#8b0f0f"/><circle cx="293.0" cy="694.4" r="1.75" fill="#8b0f0f"/><circle cx="289.6" cy="699.2" r="1.75" fill="#8b0f0f"/><circle cx="289.5" cy="726.5" r="1.75" fill="#8b0f0f"/><circle cx="289.8" cy="676.7" r="1.75" fill="#8b0f0f"/><circle cx="289.7" cy="646.5" r="1.75" fill="#8b0f0f"/><circle cx="293.1" cy="697.7" r="1.75" fill="#8b0f0f"/><circle cx="289.5" cy="663.4" r="1.75" fill="#8b0f0f"/><circle cx="286.2" cy="670.9" r="1.75" fill="#8b0f0f"/><circle cx="293.1" cy="723.8" r="1.75" fill="#8b0f0f"/><circle cx="282.8" cy="647.2" r="1.75" fill="#8b0f0f"/><circle cx="293.2" cy="693.7" r="1.75" fill="#8b0f0f"/><circle cx="286.2" cy="704.2" r="1.75" fill="#8b0f0f"/><circle cx="293.1" cy="638.1" r="1.75" fill="#8b0f0f"/><circle cx="286.2" cy="704.5" r="1.75" fill="#8b0f0f"/><circle cx="289.7" cy="707.8" r="1.75" fill="#8b0f0f"/><circle cx="282.8" cy="637.8" r="1.75" fill="#8b0f0f"/><circle cx="282.6" cy="683.5" r="1.75" fill="#8b0f0f"/><circle cx="282.7" cy="677.2" r="1.75" fill="#8b0f0f"/><circle cx="289.6" cy="720.0" r="1.75" fill="#8b0f0f"/><circle cx="282.6" cy="662.6" r="1.75" fill="#8b0f0f"/><circle cx="293.2" cy="639.3" r="1.75" fill="#8b0f0f"/><circle cx="286.1" cy="671.4" r="1.75" fill="#8b0f0f"/><circle cx="293.2" cy="702.2" r="1.75" fill="#8b0f0f"/><circle cx="293.0" cy="659.5" r="1.75" fill="#8b0f0f"/><circle cx="293.0" cy="706.4" r="1.75" fill="#8b0f0f"/><circle cx="289.7" cy="643.7" r="1.75" fill="#8b0f0f"/><circle cx="286.3" cy="636.9" r="1.75" fill="#8b0f0f"/><circle cx="282.8" cy="700.7" r="1.75" fill="#8b0f0f"/><circle cx="293.1" cy="666.0" r="1.75" fill="#8b0f0f"/><circle cx="282.6" cy="648.5" r="1.75" fill="#8b0f0f"/><circle cx="293.0" cy="706.0" r="1.75" fill="#8b0f0f"/><circle cx="293.0" cy="670.2" r="1.75" fill="#8b0f0f"/><circle cx="289.7" cy="699.1" r="1.75" fill="#8b0f0f"/><circle cx="289.7" cy="710.6" r="1.75" fill="#8b0f0f"/><circle cx="286.2" cy="690.3" r="1.75" fill="#8b0f0f"/><circle cx="286.2" cy="651.8" r="1.75" fill="#8b0f0f"/><circle cx="286.1" cy="694.4" r="1.75" fill="#8b0f0f"/><circle cx="289.6" cy="712.5" r="1.75" fill="#8b0f0f"/><circle cx="282.7" cy="664.7" r="1.75" fill="#8b0f0f"/><circle cx="286.1" cy="704.3" r="1.75" fill="#8b0f0f"/><circle cx="289.7" cy="692.6" r="1.75" fill="#8b0f0f"/><circle cx="286.0" cy="662.8" r="1.75" fill="#8b0f0f"/><circle cx="282.8" cy="711.6" r="1.75" fill="#8b0f0f"/><circle cx="289.7" cy="636.5" r="1.75" fill="#8b0f0f"/><circle cx="282.7" cy="644.9" r="1.75" fill="#8b0f0f"/><circle cx="293.0" cy="723.5" r="1.75" fill="#8b0f0f"/><circle cx="293.2" cy="651.1" r="1.75" fill="#8b0f0f"/><circle cx="289.6" cy="662.0" r="1.75" fill="#8b0f0f"/><circle cx="293.2" cy="637.7" r="1.75" fill="#8b0f0f"/><circle cx="293.2" cy="709.5" r="1.75" fill="#8b0f0f"/><circle cx="289.7" cy="716.0" r="1.75" fill="#8b0f0f"/><circle cx="286.3" cy="677.6" r="1.75" fill="#8b0f0f"/><circle cx="289.7" cy="689.2" r="1.75" fill="#8b0f0f"/><circle cx="286.1" cy="728.0" r="1.75" fill="#8b0f0f"/><circle cx="286.1" cy="692.2" r="1.75" fill="#8b0f0f"/><circle cx="289.6" cy="684.5" r="1.75" fill="#8b0f0f"/><circle cx="289.6" cy="677.3" r="1.75" fill="#8b0f0f"/><circle cx="286.0" cy="646.0" r="1.75" fill="#8b0f0f"/><circle cx="289.7" cy="729.4" r="1.75" fill="#8b0f0f"/><circle cx="289.6" cy="636.2" r="1.75" fill="#8b0f0f"/><circle cx="286.3" cy="691.4" r="1.75" fill="#8b0f0f"/><circle cx="282.7" cy="654.0" r="1.75" fill="#8b0f0f"/><circle cx="297.5" cy="687.1" r="1.75" fill="#8b0f0f"/><circle cx="297.5" cy="715.9" r="1.75" fill="#8b0f0f"/><circle cx="297.7" cy="721.2" r="1.75" fill="#8b0f0f"/><circle cx="297.6" cy="653.3" r="1.75" fill="#8b0f0f"/><circle cx="297.6" cy="667.7" r="1.75" fill="#8b0f0f"/><circle cx="297.7" cy="724.2" r="1.75" fill="#8b0f0f"/><circle cx="297.7" cy="704.2" r="1.75" fill="#8b0f0f"/><circle cx="297.7" cy="688.0" r="1.75" fill="#8b0f0f"/><circle cx="297.5" cy="679.3" r="1.75" fill="#8b0f0f"/><circle cx="297.7" cy="725.4" r="1.75" fill="#8b0f0f"/><circle cx="297.7" cy="661.7" r="1.75" fill="#8b0f0f"/><circle cx="297.6" cy="684.7" r="1.75" fill="#8b0f0f"/><circle cx="297.5" cy="671.1" r="1.75" fill="#8b0f0f"/><circle cx="297.6" cy="692.6" r="1.75" fill="#8b0f0f"/><circle cx="297.6" cy="699.9" r="1.75" fill="#8b0f0f"/><circle cx="297.6" cy="727.2" r="1.75" fill="#8b0f0f"/><circle cx="297.6" cy="682.6" r="1.75" fill="#8b0f0f"/><circle cx="297.7" cy="717.7" r="1.75" fill="#8b0f0f"/><circle cx="297.5" cy="709.4" r="1.75" fill="#8b0f0f"/><circle cx="297.5" cy="692.5" r="1.75" fill="#8b0f0f"/><circle cx="297.5" cy="652.8" r="1.75" fill="#8b0f0f"/><circle cx="297.5" cy="714.9" r="1.75" fill="#8b0f0f"/><circle cx="297.7" cy="666.4" r="1.75" fill="#8b0f0f"/><circle cx="297.7" cy="724.6" r="1.75" fill="#8b0f0f"/><circle cx="297.7" cy="709.9" r="1.75" fill="#8b0f0f"/><circle cx="297.6" cy="687.2" r="1.75" fill="#8b0f0f"/><circle cx="297.5" cy="707.6" r="1.75" fill="#8b0f0f"/><circle cx="297.5" cy="685.7" r="1.75" fill="#8b0f0f"/><circle cx="297.7" cy="724.1" r="1.75" fill="#8b0f0f"/><circle cx="297.7" cy="668.5" r="1.75" fill="#8b0f0f"/><circle cx="297.7" cy="717.7" r="1.75" fill="#8b0f0f"/><circle cx="297.5" cy="703.3" r="1.75" fill="#8b0f0f"/><circle cx="297.7" cy="712.3" r="1.75" fill="#8b0f0f"/><circle cx="297.5" cy="715.4" r="1.75" fill="#8b0f0f"/><circle cx="297.5" cy="675.6" r="1.75" fill="#8b0f0f"/><circle cx="309.5" cy="640.4" r="1.75" fill="#8b0f0f"/><circle cx="309.4" cy="648.6" r="1.75" fill="#8b0f0f"/><circle cx="309.5" cy="658.5" r="1.75" fill="#8b0f0f"/><circle cx="309.5" cy="661.0" r="1.75" fill="#8b0f0f"/><circle cx="309.6" cy="663.5" r="1.75" fill="#8b0f0f"/><circle cx="309.8" cy="665.9" r="1.75" fill="#8b0f0f"/><circle cx="309.7" cy="668.4" r="1.75" fill="#8b0f0f"/><circle cx="309.6" cy="670.9" r="1.75" fill="#8b0f0f"/><circle cx="309.6" cy="673.4" r="1.75" fill="#8b0f0f"/><circle cx="309.6" cy="675.8" r="1.75" fill="#8b0f0f"/><circle cx="309.6" cy="678.3" r="1.75" fill="#8b0f0f"/><circle cx="309.5" cy="680.8" r="1.75" fill="#8b0f0f"/><circle cx="309.4" cy="690.7" r="1.75" fill="#8b0f0f"/><circle cx="309.5" cy="694.0" r="1.75" fill="#8b0f0f"/><circle cx="309.8" cy="697.3" r="1.75" fill="#8b0f0f"/><circle cx="309.5" cy="700.6" r="1.75" fill="#8b0f0f"/><circle cx="309.6" cy="703.9" r="1.75" fill="#8b0f0f"/><circle cx="309.7" cy="707.2" r="1.75" fill="#8b0f0f"/><circle cx="309.7" cy="710.5" r="1.75" fill="#8b0f0f"/><circle cx="309.5" cy="713.8" r="1.75" fill="#8b0f0f"/><circle cx="309.5" cy="717.1" r="1.75" fill="#8b0f0f"/><circle cx="309.5" cy="720.4" r="1.75" fill="#8b0f0f"/><circle cx="309.6" cy="723.7" r="1.75" fill="#8b0f0f"/><circle cx="309.6" cy="727.0" r="1.75" fill="#8b0f0f"/><circle cx="309.8" cy="730.3" r="1.75" fill="#8b0f0f"/><circle cx="323.8" cy="659.3" r="1.75" fill="#8b0f0f"/><circle cx="323.8" cy="666.8" r="1.75" fill="#8b0f0f"/><circle cx="324.1" cy="682.4" r="1.75" fill="#8b0f0f"/><circle cx="324.2" cy="685.7" r="1.75" fill="#8b0f0f"/><circle cx="324.0" cy="689.0" r="1.75" fill="#8b0f0f"/><circle cx="324.0" cy="692.3" r="1.75" fill="#8b0f0f"/><circle cx="323.8" cy="695.6" r="1.75" fill="#8b0f0f"/><circle cx="324.0" cy="698.9" r="1.75" fill="#8b0f0f"/><circle cx="324.2" cy="702.2" r="1.75" fill="#8b0f0f"/><circle cx="324.1" cy="705.5" r="1.75" fill="#8b0f0f"/><circle cx="324.1" cy="708.8" r="1.75" fill="#8b0f0f"/><circle cx="324.2" cy="712.1" r="1.75" fill="#8b0f0f"/><circle cx="323.9" cy="715.4" r="1.75" fill="#8b0f0f"/><circle cx="323.8" cy="718.7" r="1.75" fill="#8b0f0f"/><circle cx="323.9" cy="722.0" r="1.75" fill="#8b0f0f"/><circle cx="324.0" cy="725.3" r="1.75" fill="#8b0f0f"/><circle cx="329.8" cy="699.0" r="1.75" fill="#8b0f0f"/><circle cx="329.7" cy="723.8" r="1.75" fill="#8b0f0f"/><circle cx="329.9" cy="698.7" r="1.75" fill="#8b0f0f"/><circle cx="329.9" cy="712.5" r="1.75" fill="#8b0f0f"/><circle cx="329.8" cy="693.2" r="1.75" fill="#8b0f0f"/><circle cx="329.7" cy="718.3" r="1.75" fill="#8b0f0f"/><circle cx="329.9" cy="699.9" r="1.75" fill="#8b0f0f"/><circle cx="329.7" cy="679.9" r="1.75" fill="#8b0f0f"/><circle cx="329.7" cy="654.2" r="1.75" fill="#8b0f0f"/><circle cx="329.9" cy="690.6" r="1.75" fill="#8b0f0f"/><circle cx="329.8" cy="665.7" r="1.75" fill="#8b0f0f"/><circle cx="329.8" cy="724.3" r="1.75" fill="#8b0f0f"/><circle cx="329.7" cy="679.4" r="1.75" fill="#8b0f0f"/><circle cx="329.7" cy="669.9" r="1.75" fill="#8b0f0f"/><circle cx="329.7" cy="697.5" r="1.75" fill="#8b0f0f"/><circle cx="329.8" cy="705.8" r="1.75" fill="#8b0f0f"/><circle cx="329.9" cy="656.5" r="1.75" fill="#8b0f0f"/><circle cx="329.8" cy="721.2" r="1.75" fill="#8b0f0f"/><circle cx="329.7" cy="698.5" r="1.75" fill="#8b0f0f"/><circle cx="329.7" cy="678.9" r="1.75" fill="#8b0f0f"/><circle cx="329.9" cy="659.5" r="1.75" fill="#8b0f0f"/><circle cx="329.9" cy="716.4" r="1.75" fill="#8b0f0f"/><circle cx="329.8" cy="689.7" r="1.75" fill="#8b0f0f"/><circle cx="329.8" cy="673.6" r="1.75" fill="#8b0f0f"/><circle cx="329.9" cy="645.6" r="1.75" fill="#8b0f0f"/><circle cx="329.8" cy="710.0" r="1.75" fill="#8b0f0f"/><circle cx="329.9" cy="724.1" r="1.75" fill="#8b0f0f"/><circle cx="329.8" cy="661.7" r="1.75" fill="#8b0f0f"/><circle cx="329.8" cy="679.4" r="1.75" fill="#8b0f0f"/><circle cx="329.8" cy="717.5" r="1.75" fill="#8b0f0f"/><circle cx="329.7" cy="661.3" r="1.75" fill="#8b0f0f"/><circle cx="329.7" cy="673.8" r="1.75" fill="#8b0f0f"/><circle cx="329.8" cy="646.2" r="1.75" fill="#8b0f0f"/><circle cx="329.9" cy="719.5" r="1.75" fill="#8b0f0f"/><circle cx="329.7" cy="697.8" r="1.75" fill="#8b0f0f"/><circle cx="329.9" cy="652.6" r="1.75" fill="#8b0f0f"/><circle cx="329.7" cy="694.2" r="1.75" fill="#8b0f0f"/><circle cx="329.9" cy="721.7" r="1.75" fill="#8b0f0f"/><circle cx="329.7" cy="709.3" r="1.75" fill="#8b0f0f"/><circle cx="329.8" cy="703.2" r="1.75" fill="#8b0f0f"/><circle cx="329.9" cy="708.5" r="1.75" fill="#8b0f0f"/><circle cx="329.8" cy="644.5" r="1.75" fill="#8b0f0f"/><circle cx="329.7" cy="720.8" r="1.75" fill="#8b0f0f"/><circle cx="329.9" cy="720.8" r="1.75" fill="#8b0f0f"/><circle cx="329.7" cy="681.1" r="1.75" fill="#8b0f0f"/><circle cx="337.3" cy="675.8" r="1.75" fill="#8b0f0f"/><circle cx="337.3" cy="679.1" r="1.75" fill="#8b0f0f"/><circle cx="337.3" cy="682.4" r="1.75" fill="#8b0f0f"/><circle cx="337.2" cy="685.7" r="1.75" fill="#8b0f0f"/><circle cx="337.2" cy="689.0" r="1.75" fill="#8b0f0f"/><circle cx="337.0" cy="692.3" r="1.75" fill="#8b0f0f"/><circle cx="337.3" cy="695.6" r="1.75" fill="#8b0f0f"/><circle cx="337.1" cy="702.2" r="1.75" fill="#8b0f0f"/><circle cx="337.4" cy="705.5" r="1.75" fill="#8b0f0f"/><circle cx="337.3" cy="708.8" r="1.75" fill="#8b0f0f"/><circle cx="337.1" cy="712.1" r="1.75" fill="#8b0f0f"/><circle cx="337.1" cy="715.4" r="1.75" fill="#8b0f0f"/><circle cx="337.1" cy="718.7" r="1.75" fill="#8b0f0f"/><circle cx="337.3" cy="722.0" r="1.75" fill="#8b0f0f"/><circle cx="337.3" cy="725.3" r="1.75" fill="#8b0f0f"/><circle cx="343.2" cy="722.4" r="1.75" fill="#8b0f0f"/><circle cx="343.3" cy="672.6" r="1.75" fill="#8b0f0f"/><circle cx="343.3" cy="725.4" r="1.75" fill="#8b0f0f"/><circle cx="343.2" cy="696.1" r="1.75" fill="#8b0f0f"/><circle cx="343.3" cy="710.2" r="1.75" fill="#8b0f0f"/><circle cx="343.4" cy="726.9" r="1.75" fill="#8b0f0f"/><circle cx="343.3" cy="709.5" r="1.75" fill="#8b0f0f"/><circle cx="343.4" cy="696.9" r="1.75" fill="#8b0f0f"/><circle cx="343.2" cy="677.5" r="1.75" fill="#8b0f0f"/><circle cx="343.3" cy="677.1" r="1.75" fill="#8b0f0f"/><circle cx="343.4" cy="711.3" r="1.75" fill="#8b0f0f"/><circle cx="343.2" cy="685.9" r="1.75" fill="#8b0f0f"/><circle cx="343.2" cy="721.6" r="1.75" fill="#8b0f0f"/><circle cx="343.3" cy="658.6" r="1.75" fill="#8b0f0f"/><circle cx="343.3" cy="696.9" r="1.75" fill="#8b0f0f"/><circle cx="343.2" cy="669.9" r="1.75" fill="#8b0f0f"/><circle cx="343.3" cy="709.9" r="1.75" fill="#8b0f0f"/><circle cx="343.2" cy="701.8" r="1.75" fill="#8b0f0f"/><circle cx="343.4" cy="673.2" r="1.75" fill="#8b0f0f"/><circle cx="343.4" cy="686.6" r="1.75" fill="#8b0f0f"/><circle cx="343.3" cy="681.1" r="1.75" fill="#8b0f0f"/><circle cx="343.3" cy="727.8" r="1.75" fill="#8b0f0f"/><circle cx="343.3" cy="729.3" r="1.75" fill="#8b0f0f"/><circle cx="343.3" cy="669.9" r="1.75" fill="#8b0f0f"/><circle cx="343.2" cy="722.4" r="1.75" fill="#8b0f0f"/><circle cx="343.3" cy="690.3" r="1.75" fill="#8b0f0f"/><circle cx="343.4" cy="690.6" r="1.75" fill="#8b0f0f"/><circle cx="343.4" cy="645.5" r="1.75" fill="#8b0f0f"/><circle cx="343.3" cy="681.5" r="1.75" fill="#8b0f0f"/><circle cx="343.4" cy="694.8" r="1.75" fill="#8b0f0f"/><circle cx="343.4" cy="711.2" r="1.75" fill="#8b0f0f"/><circle cx="343.2" cy="717.5" r="1.75" fill="#8b0f0f"/><circle cx="343.2" cy="705.6" r="1.75" fill="#8b0f0f"/><circle cx="343.2" cy="691.7" r="1.75" fill="#8b0f0f"/><circle cx="343.2" cy="667.8" r="1.75" fill="#8b0f0f"/><circle cx="343.3" cy="669.0" r="1.75" fill="#8b0f0f"/><circle cx="343.3" cy="687.3" r="1.75" fill="#8b0f0f"/><circle cx="343.4" cy="701.2" r="1.75" fill="#8b0f0f"/><circle cx="343.3" cy="715.4" r="1.75" fill="#8b0f0f"/><circle cx="343.3" cy="659.0" r="1.75" fill="#8b0f0f"/><circle cx="343.3" cy="677.9" r="1.75" fill="#8b0f0f"/><circle cx="343.3" cy="678.3" r="1.75" fill="#8b0f0f"/><circle cx="343.4" cy="694.9" r="1.75" fill="#8b0f0f"/><circle cx="343.4" cy="709.2" r="1.75" fill="#8b0f0f"/><circle cx="343.3" cy="693.6" r="1.75" fill="#8b0f0f"/><circle cx="356.9" cy="710.7" r="1.75" fill="#8b0f0f"/><circle cx="356.9" cy="656.5" r="1.75" fill="#8b0f0f"/><circle cx="357.1" cy="641.3" r="1.75" fill="#8b0f0f"/><circle cx="357.0" cy="638.7" r="1.75" fill="#8b0f0f"/><circle cx="357.0" cy="650.2" r="1.75" fill="#8b0f0f"/><circle cx="356.9" cy="695.5" r="1.75" fill="#8b0f0f"/><circle cx="357.0" cy="705.5" r="1.75" fill="#8b0f0f"/><circle cx="356.9" cy="676.1" r="1.75" fill="#8b0f0f"/><circle cx="357.0" cy="703.7" r="1.75" fill="#8b0f0f"/><circle cx="357.1" cy="639.4" r="1.75" fill="#8b0f0f"/><circle cx="357.1" cy="714.5" r="1.75" fill="#8b0f0f"/><circle cx="357.0" cy="677.7" r="1.75" fill="#8b0f0f"/><circle cx="357.0" cy="666.6" r="1.75" fill="#8b0f0f"/><circle cx="356.9" cy="688.9" r="1.75" fill="#8b0f0f"/><circle cx="357.0" cy="677.8" r="1.75" fill="#8b0f0f"/><circle cx="357.0" cy="694.3" r="1.75" fill="#8b0f0f"/><circle cx="357.1" cy="681.4" r="1.75" fill="#8b0f0f"/><circle cx="357.1" cy="722.6" r="1.75" fill="#8b0f0f"/><circle cx="357.0" cy="641.0" r="1.75" fill="#8b0f0f"/><circle cx="356.9" cy="729.5" r="1.75" fill="#8b0f0f"/><circle cx="356.9" cy="694.6" r="1.75" fill="#8b0f0f"/><circle cx="357.1" cy="723.9" r="1.75" fill="#8b0f0f"/><circle cx="356.9" cy="690.2" r="1.75" fill="#8b0f0f"/><circle cx="357.1" cy="664.2" r="1.75" fill="#8b0f0f"/><circle cx="357.0" cy="664.7" r="1.75" fill="#8b0f0f"/><circle cx="357.0" cy="695.9" r="1.75" fill="#8b0f0f"/><circle cx="357.1" cy="645.5" r="1.75" fill="#8b0f0f"/><circle cx="357.0" cy="683.3" r="1.75" fill="#8b0f0f"/><circle cx="357.1" cy="727.0" r="1.75" fill="#8b0f0f"/><circle cx="356.9" cy="701.0" r="1.75" fill="#8b0f0f"/><circle cx="356.9" cy="703.7" r="1.75" fill="#8b0f0f"/><circle cx="357.1" cy="638.8" r="1.75" fill="#8b0f0f"/><circle cx="357.1" cy="640.2" r="1.75" fill="#8b0f0f"/><circle cx="357.0" cy="653.6" r="1.75" fill="#8b0f0f"/><circle cx="357.1" cy="721.5" r="1.75" fill="#8b0f0f"/><circle cx="357.1" cy="726.7" r="1.75" fill="#8b0f0f"/><circle cx="356.9" cy="701.0" r="1.75" fill="#8b0f0f"/><circle cx="357.0" cy="715.5" r="1.75" fill="#8b0f0f"/><circle cx="357.1" cy="680.0" r="1.75" fill="#8b0f0f"/><circle cx="356.9" cy="723.3" r="1.75" fill="#8b0f0f"/><circle cx="357.1" cy="650.0" r="1.75" fill="#8b0f0f"/><circle cx="357.0" cy="708.8" r="1.75" fill="#8b0f0f"/><circle cx="356.9" cy="656.0" r="1.75" fill="#8b0f0f"/><circle cx="356.9" cy="694.4" r="1.75" fill="#8b0f0f"/><circle cx="357.0" cy="696.1" r="1.75" fill="#8b0f0f"/><circle cx="357.1" cy="690.1" r="1.75" fill="#8b0f0f"/><circle cx="356.9" cy="705.5" r="1.75" fill="#8b0f0f"/><circle cx="356.9" cy="641.8" r="1.75" fill="#8b0f0f"/><circle cx="356.9" cy="667.1" r="1.75" fill="#8b0f0f"/><circle cx="357.0" cy="674.8" r="1.75" fill="#8b0f0f"/><circle cx="356.9" cy="707.6" r="1.75" fill="#8b0f0f"/><circle cx="357.0" cy="659.0" r="1.75" fill="#8b0f0f"/><circle cx="357.1" cy="654.1" r="1.75" fill="#8b0f0f"/><circle cx="356.9" cy="656.7" r="1.75" fill="#8b0f0f"/><circle cx="357.0" cy="725.5" r="1.75" fill="#8b0f0f"/><circle cx="357.0" cy="695.7" r="1.75" fill="#8b0f0f"/><circle cx="357.1" cy="692.7" r="1.75" fill="#8b0f0f"/><circle cx="357.0" cy="665.6" r="1.75" fill="#8b0f0f"/><circle cx="357.0" cy="654.1" r="1.75" fill="#8b0f0f"/><circle cx="357.1" cy="675.9" r="1.75" fill="#8b0f0f"/><circle cx="357.0" cy="651.4" r="1.75" fill="#8b0f0f"/><circle cx="356.9" cy="726.6" r="1.75" fill="#8b0f0f"/><circle cx="357.0" cy="714.6" r="1.75" fill="#8b0f0f"/><circle cx="356.9" cy="645.7" r="1.75" fill="#8b0f0f"/><circle cx="357.1" cy="697.0" r="1.75" fill="#8b0f0f"/><circle cx="356.9" cy="661.3" r="1.75" fill="#8b0f0f"/><circle cx="356.9" cy="716.8" r="1.75" fill="#8b0f0f"/><circle cx="357.1" cy="660.2" r="1.75" fill="#8b0f0f"/><circle cx="357.0" cy="660.2" r="1.75" fill="#8b0f0f"/><circle cx="356.9" cy="646.4" r="1.75" fill="#8b0f0f"/><circle cx="362.4" cy="637.1" r="1.75" fill="#8b0f0f"/><circle cx="362.4" cy="644.5" r="1.75" fill="#8b0f0f"/><circle cx="362.4" cy="662.6" r="1.75" fill="#8b0f0f"/><circle cx="362.3" cy="665.9" r="1.75" fill="#8b0f0f"/><circle cx="362.4" cy="669.2" r="1.75" fill="#8b0f0f"/><circle cx="362.2" cy="672.5" r="1.75" fill="#8b0f0f"/><circle cx="362.3" cy="684.1" r="1.75" fill="#8b0f0f"/><circle cx="362.4" cy="695.6" r="1.75" fill="#8b0f0f"/><circle cx="362.6" cy="698.9" r="1.75" fill="#8b0f0f"/><circle cx="362.5" cy="702.2" r="1.75" fill="#8b0f0f"/><circle cx="362.6" cy="705.5" r="1.75" fill="#8b0f0f"/><circle cx="362.4" cy="708.8" r="1.75" fill="#8b0f0f"/><circle cx="362.3" cy="712.1" r="1.75" fill="#8b0f0f"/><circle cx="362.3" cy="715.4" r="1.75" fill="#8b0f0f"/><circle cx="362.6" cy="718.7" r="1.75" fill="#8b0f0f"/><circle cx="362.5" cy="722.0" r="1.75" fill="#8b0f0f"/><circle cx="362.3" cy="725.3" r="1.75" fill="#8b0f0f"/><circle cx="367.5" cy="638.7" r="1.75" fill="#8b0f0f"/><circle cx="367.4" cy="644.5" r="1.75" fill="#8b0f0f"/><circle cx="367.3" cy="654.4" r="1.75" fill="#8b0f0f"/><circle cx="367.5" cy="661.0" r="1.75" fill="#8b0f0f"/><circle cx="367.6" cy="662.6" r="1.75" fill="#8b0f0f"/><circle cx="367.3" cy="664.3" r="1.75" fill="#8b0f0f"/><circle cx="367.2" cy="682.4" r="1.75" fill="#8b0f0f"/><circle cx="367.3" cy="710.5" r="1.75" fill="#8b0f0f"/><circle cx="367.4" cy="713.8" r="1.75" fill="#8b0f0f"/><circle cx="367.5" cy="717.1" r="1.75" fill="#8b0f0f"/><circle cx="367.3" cy="720.4" r="1.75" fill="#8b0f0f"/><circle cx="367.5" cy="723.7" r="1.75" fill="#8b0f0f"/><circle cx="367.5" cy="727.0" r="1.75" fill="#8b0f0f"/><circle cx="374.2" cy="699.1" r="1.75" fill="#8b0f0f"/><circle cx="374.2" cy="656.1" r="1.75" fill="#8b0f0f"/><circle cx="378.4" cy="637.1" r="1.75" fill="#8b0f0f"/><circle cx="378.4" cy="712.1" r="1.75" fill="#8b0f0f"/><circle cx="378.5" cy="727.5" r="1.75" fill="#8b0f0f"/><circle cx="378.4" cy="703.6" r="1.75" fill="#8b0f0f"/><circle cx="374.2" cy="661.4" r="1.75" fill="#8b0f0f"/><circle cx="374.4" cy="727.5" r="1.75" fill="#8b0f0f"/><circle cx="378.5" cy="683.4" r="1.75" fill="#8b0f0f"/><circle cx="374.3" cy="712.8" r="1.75" fill="#8b0f0f"/><circle cx="374.2" cy="639.5" r="1.75" fill="#8b0f0f"/><circle cx="378.3" cy="672.3" r="1.75" fill="#8b0f0f"/><circle cx="378.5" cy="706.5" r="1.75" fill="#8b0f0f"/><circle cx="378.3" cy="716.4" r="1.75" fill="#8b0f0f"/><circle cx="378.4" cy="675.3" r="1.75" fill="#8b0f0f"/><circle cx="378.3" cy="644.9" r="1.75" fill="#8b0f0f"/><circle cx="374.4" cy="672.0" r="1.75" fill="#8b0f0f"/><circle cx="374.3" cy="677.6" r="1.75" fill="#8b0f0f"/><circle cx="378.5" cy="643.0" r="1.75" fill="#8b0f0f"/><circle cx="378.3" cy="675.6" r="1.75" fill="#8b0f0f"/><circle cx="374.4" cy="698.2" r="1.75" fill="#8b0f0f"/><circle cx="374.3" cy="729.5" r="1.75" fill="#8b0f0f"/><circle cx="378.4" cy="683.6" r="1.75" fill="#8b0f0f"/><circle cx="378.5" cy="668.2" r="1.75" fill="#8b0f0f"/><circle cx="378.3" cy="676.4" r="1.75" fill="#8b0f0f"/><circle cx="378.3" cy="700.1" r="1.75" fill="#8b0f0f"/><circle cx="378.3" cy="716.5" r="1.75" fill="#8b0f0f"/><circle cx="374.2" cy="688.7" r="1.75" fill="#8b0f0f"/><circle cx="374.2" cy="725.1" r="1.75" fill="#8b0f0f"/><circle cx="378.5" cy="706.1" r="1.75" fill="#8b0f0f"/><circle cx="374.3" cy="678.2" r="1.75" fill="#8b0f0f"/><circle cx="374.3" cy="685.0" r="1.75" fill="#8b0f0f"/><circle cx="378.3" cy="667.9" r="1.75" fill="#8b0f0f"/><circle cx="378.5" cy="669.7" r="1.75" fill="#8b0f0f"/><circle cx="378.5" cy="638.9" r="1.75" fill="#8b0f0f"/><circle cx="374.4" cy="655.7" r="1.75" fill="#8b0f0f"/><circle cx="378.5" cy="655.3" r="1.75" fill="#8b0f0f"/><circle cx="374.2" cy="685.6" r="1.75" fill="#8b0f0f"/><circle cx="374.2" cy="654.7" r="1.75" fill="#8b0f0f"/><circle cx="378.4" cy="669.9" r="1.75" fill="#8b0f0f"/><circle cx="378.5" cy="669.9" r="1.75" fill="#8b0f0f"/><circle cx="374.4" cy="715.0" r="1.75" fill="#8b0f0f"/><circle cx="378.5" cy="648.8" r="1.75" fill="#8b0f0f"/><circle cx="378.3" cy="673.1" r="1.75" fill="#8b0f0f"/><circle cx="378.5" cy="671.9" r="1.75" fill="#8b0f0f"/><circle cx="374.4" cy="667.6" r="1.75" fill="#8b0f0f"/><circle cx="378.5" cy="658.4" r="1.75" fill="#8b0f0f"/><circle cx="374.3" cy="642.1" r="1.75" fill="#8b0f0f"/><circle cx="378.3" cy="663.7" r="1.75" fill="#8b0f0f"/><circle cx="374.2" cy="714.8" r="1.75" fill="#8b0f0f"/><circle cx="389.0" cy="686.2" r="1.75" fill="#8b0f0f"/><circle cx="382.4" cy="703.6" r="1.75" fill="#8b0f0f"/><circle cx="389.2" cy="723.6" r="1.75" fill="#8b0f0f"/><circle cx="382.6" cy="679.5" r="1.75" fill="#8b0f0f"/><circle cx="385.9" cy="680.4" r="1.75" fill="#8b0f0f"/><circle cx="385.7" cy="675.3" r="1.75" fill="#8b0f0f"/><circle cx="382.5" cy="692.4" r="1.75" fill="#8b0f0f"/><circle cx="385.7" cy="696.4" r="1.75" fill="#8b0f0f"/><circle cx="389.2" cy="649.4" r="1.75" fill="#8b0f0f"/><circle cx="389.1" cy="691.6" r="1.75" fill="#8b0f0f"/><circle cx="382.6" cy="643.8" r="1.75" fill="#8b0f0f"/><circle cx="382.4" cy="689.1" r="1.75" fill="#8b0f0f"/><circle cx="389.1" cy="670.7" r="1.75" fill="#8b0f0f"/><circle cx="389.2" cy="682.9" r="1.75" fill="#8b0f0f"/><circle cx="385.8" cy="690.4" r="1.75" fill="#8b0f0f"/><circle cx="382.5" cy="712.0" r="1.75" fill="#8b0f0f"/><circle cx="382.5" cy="712.6" r="1.75" fill="#8b0f0f"/><circle cx="385.9" cy="674.9" r="1.75" fill="#8b0f0f"/><circle cx="385.7" cy="654.9" r="1.75" fill="#8b0f0f"/><circle cx="382.6" cy="686.9" r="1.75" fill="#8b0f0f"/><circle cx="385.9" cy="640.4" r="1.75" fill="#8b0f0f"/><circle cx="382.6" cy="646.4" r="1.75" fill="#8b0f0f"/><circle cx="382.5" cy="729.6" r="1.75" fill="#8b0f0f"/><circle cx="385.9" cy="688.7" r="1.75" fill="#8b0f0f"/><circle cx="382.6" cy="683.0" r="1.75" fill="#8b0f0f"/><circle cx="389.0" cy="653.3" r="1.75" fill="#8b0f0f"/><circle cx="382.6" cy="672.0" r="1.75" fill="#8b0f0f"/><circle cx="382.4" cy="676.9" r="1.75" fill="#8b0f0f"/><circle cx="382.4" cy="685.3" r="1.75" fill="#8b0f0f"/><circle cx="382.5" cy="660.0" r="1.75" fill="#8b0f0f"/><circle cx="389.1" cy="719.9" r="1.75" fill="#8b0f0f"/><circle cx="382.6" cy="684.1" r="1.75" fill="#8b0f0f"/><circle cx="389.2" cy="642.9" r="1.75" fill="#8b0f0f"/><circle cx="389.0" cy="701.2" r="1.75" fill="#8b0f0f"/><circle cx="382.6" cy="662.1" r="1.75" fill="#8b0f0f"/><circle cx="389.1" cy="692.4" r="1.75" fill="#8b0f0f"/><circle cx="382.4" cy="655.5" r="1.75" fill="#8b0f0f"/><circle cx="389.0" cy="710.4" r="1.75" fill="#8b0f0f"/><circle cx="389.1" cy="687.3" r="1.75" fill="#8b0f0f"/><circle cx="385.7" cy="727.6" r="1.75" fill="#8b0f0f"/><circle cx="385.8" cy="721.4" r="1.75" fill="#8b0f0f"/><circle cx="389.1" cy="647.2" r="1.75" fill="#8b0f0f"/><circle cx="385.8" cy="666.2" r="1.75" fill="#8b0f0f"/><circle cx="389.2" cy="656.0" r="1.75" fill="#8b0f0f"/><circle cx="385.9" cy="722.8" r="1.75" fill="#8b0f0f"/><circle cx="382.4" cy="661.8" r="1.75" fill="#8b0f0f"/><circle cx="389.1" cy="667.0" r="1.75" fill="#8b0f0f"/><circle cx="385.7" cy="701.8" r="1.75" fill="#8b0f0f"/><circle cx="389.2" cy="679.2" r="1.75" fill="#8b0f0f"/><circle cx="389.1" cy="663.0" r="1.75" fill="#8b0f0f"/><circle cx="382.6" cy="697.5" r="1.75" fill="#8b0f0f"/><circle cx="385.7" cy="672.2" r="1.75" fill="#8b0f0f"/><circle cx="382.6" cy="701.7" r="1.75" fill="#8b0f0f"/><circle cx="382.6" cy="689.1" r="1.75" fill="#8b0f0f"/><circle cx="385.8" cy="652.7" r="1.75" fill="#8b0f0f"/><circle cx="389.1" cy="674.4" r="1.75" fill="#8b0f0f"/><circle cx="389.2" cy="697.9" r="1.75" fill="#8b0f0f"/><circle cx="385.8" cy="706.2" r="1.75" fill="#8b0f0f"/><circle cx="389.2" cy="691.5" r="1.75" fill="#8b0f0f"/><circle cx="382.6" cy="717.0" r="1.75" fill="#8b0f0f"/><circle cx="396.1" cy="637.9" r="1.75" fill="#8b0f0f"/><circle cx="396.3" cy="646.1" r="1.75" fill="#8b0f0f"/><circle cx="396.1" cy="661.0" r="1.75" fill="#8b0f0f"/><circle cx="396.1" cy="670.1" r="1.75" fill="#8b0f0f"/><circle cx="396.3" cy="680.8" r="1.75" fill="#8b0f0f"/><circle cx="396.1" cy="690.7" r="1.75" fill="#8b0f0f"/><circle cx="396.4" cy="700.6" r="1.75" fill="#8b0f0f"/><circle cx="396.2" cy="703.9" r="1.75" fill="#8b0f0f"/><circle cx="396.1" cy="707.2" r="1.75" fill="#8b0f0f"/><circle cx="396.1" cy="710.5" r="1.75" fill="#8b0f0f"/><circle cx="396.2" cy="713.8" r="1.75" fill="#8b0f0f"/><circle cx="396.3" cy="717.1" r="1.75" fill="#8b0f0f"/><circle cx="396.4" cy="720.4" r="1.75" fill="#8b0f0f"/><circle cx="396.1" cy="723.7" r="1.75" fill="#8b0f0f"/><circle cx="402.2" cy="637.9" r="1.75" fill="#8b0f0f"/><circle cx="402.5" cy="661.8" r="1.75" fill="#8b0f0f"/><circle cx="402.2" cy="690.7" r="1.75" fill="#8b0f0f"/><circle cx="402.1" cy="694.0" r="1.75" fill="#8b0f0f"/><circle cx="402.1" cy="697.3" r="1.75" fill="#8b0f0f"/><circle cx="402.3" cy="700.6" r="1.75" fill="#8b0f0f"/><circle cx="402.5" cy="703.9" r="1.75" fill="#8b0f0f"/><circle cx="402.5" cy="707.2" r="1.75" fill="#8b0f0f"/><circle cx="402.4" cy="710.5" r="1.75" fill="#8b0f0f"/><circle cx="402.5" cy="713.8" r="1.75" fill="#8b0f0f"/><circle cx="402.5" cy="717.1" r="1.75" fill="#8b0f0f"/><circle cx="402.2" cy="720.4" r="1.75" fill="#8b0f0f"/><circle cx="402.2" cy="723.7" r="1.75" fill="#8b0f0f"/><circle cx="402.5" cy="727.0" r="1.75" fill="#8b0f0f"/><circle cx="123.4" cy="672.2" r="1.75" fill="#1f1ff0"/><circle cx="120.6" cy="700.8" r="1.75" fill="#1f1ff0"/><circle cx="129.5" cy="678.1" r="1.75" fill="#1f1ff0"/><circle cx="126.6" cy="691.2" r="1.75" fill="#1f1ff0"/><circle cx="123.4" cy="676.8" r="1.75" fill="#1f1ff0"/><circle cx="126.6" cy="712.3" r="1.75" fill="#1f1ff0"/><circle cx="120.6" cy="689.4" r="1.75" fill="#1f1ff0"/><circle cx="120.6" cy="673.8" r="1.75" fill="#1f1ff0"/><circle cx="120.6" cy="706.7" r="1.75" fill="#1f1ff0"/><circle cx="120.6" cy="708.8" r="1.75" fill="#1f1ff0"/><circle cx="120.7" cy="721.3" r="1.75" fill="#1f1ff0"/><circle cx="123.4" cy="673.0" r="1.75" fill="#1f1ff0"/><circle cx="129.3" cy="712.4" r="1.75" fill="#1f1ff0"/><circle cx="126.5" cy="700.9" r="1.75" fill="#1f1ff0"/><circle cx="126.6" cy="704.9" r="1.75" fill="#1f1ff0"/><circle cx="123.5" cy="691.4" r="1.75" fill="#1f1ff0"/><circle cx="120.7" cy="666.4" r="1.75" fill="#1f1ff0"/><circle cx="129.5" cy="661.8" r="1.75" fill="#1f1ff0"/><circle cx="134.7" cy="679.8" r="1.75" fill="#1f1ff0"/><circle cx="134.5" cy="691.5" r="1.75" fill="#1f1ff0"/><circle cx="134.6" cy="705.4" r="1.75" fill="#1f1ff0"/><circle cx="139.5" cy="711.2" r="1.75" fill="#1f1ff0"/><circle cx="145.0" cy="710.5" r="1.75" fill="#1f1ff0"/><circle cx="154.6" cy="711.9" r="1.75" fill="#1f1ff0"/><circle cx="197.8" cy="686.4" r="1.75" fill="#1f1ff0"/><circle cx="207.9" cy="664.9" r="1.75" fill="#1f1ff0"/><circle cx="207.7" cy="676.2" r="1.75" fill="#1f1ff0"/><circle cx="207.6" cy="683.4" r="1.75" fill="#1f1ff0"/><circle cx="207.7" cy="707.5" r="1.75" fill="#1f1ff0"/><circle cx="207.6" cy="714.7" r="1.75" fill="#1f1ff0"/><circle cx="207.5" cy="726.0" r="1.75" fill="#1f1ff0"/><circle cx="228.9" cy="708.2" r="1.75" fill="#1f1ff0"/><circle cx="232.8" cy="720.0" r="1.75" fill="#1f1ff0"/><circle cx="232.8" cy="722.9" r="1.75" fill="#1f1ff0"/><circle cx="233.0" cy="697.0" r="1.75" fill="#1f1ff0"/><circle cx="232.8" cy="701.9" r="1.75" fill="#1f1ff0"/><circle cx="228.9" cy="728.5" r="1.75" fill="#1f1ff0"/><circle cx="232.8" cy="709.7" r="1.75" fill="#1f1ff0"/><circle cx="233.0" cy="721.6" r="1.75" fill="#1f1ff0"/><circle cx="228.9" cy="696.1" r="1.75" fill="#1f1ff0"/><circle cx="233.0" cy="729.2" r="1.75" fill="#1f1ff0"/><circle cx="229.0" cy="720.3" r="1.75" fill="#1f1ff0"/><circle cx="229.0" cy="717.5" r="1.75" fill="#1f1ff0"/><circle cx="233.0" cy="718.8" r="1.75" fill="#1f1ff0"/><circle cx="233.0" cy="724.4" r="1.75" fill="#1f1ff0"/><circle cx="232.9" cy="723.0" r="1.75" fill="#1f1ff0"/><circle cx="232.8" cy="702.0" r="1.75" fill="#1f1ff0"/><circle cx="232.8" cy="720.3" r="1.75" fill="#1f1ff0"/><circle cx="233.0" cy="714.8" r="1.75" fill="#1f1ff0"/><circle cx="229.0" cy="720.6" r="1.75" fill="#1f1ff0"/><circle cx="233.0" cy="722.5" r="1.75" fill="#1f1ff0"/><circle cx="228.9" cy="704.1" r="1.75" fill="#1f1ff0"/><circle cx="229.0" cy="726.7" r="1.75" fill="#1f1ff0"/><circle cx="243.3" cy="697.1" r="1.75" fill="#1f1ff0"/><circle cx="243.2" cy="711.5" r="1.75" fill="#1f1ff0"/><circle cx="272.1" cy="689.0" r="1.75" fill="#1f1ff0"/><circle cx="293.1" cy="720.5" r="1.75" fill="#1f1ff0"/><circle cx="289.6" cy="689.3" r="1.75" fill="#1f1ff0"/><circle cx="286.3" cy="710.7" r="1.75" fill="#1f1ff0"/><circle cx="282.6" cy="728.6" r="1.75" fill="#1f1ff0"/><circle cx="286.2" cy="700.7" r="1.75" fill="#1f1ff0"/><circle cx="289.6" cy="697.3" r="1.75" fill="#1f1ff0"/><circle cx="289.5" cy="709.7" r="1.75" fill="#1f1ff0"/><circle cx="286.0" cy="714.1" r="1.75" fill="#1f1ff0"/><circle cx="289.7" cy="695.6" r="1.75" fill="#1f1ff0"/><circle cx="293.1" cy="695.2" r="1.75" fill="#1f1ff0"/><circle cx="282.8" cy="709.0" r="1.75" fill="#1f1ff0"/><circle cx="293.0" cy="690.6" r="1.75" fill="#1f1ff0"/><circle cx="282.6" cy="723.7" r="1.75" fill="#1f1ff0"/><circle cx="289.6" cy="713.9" r="1.75" fill="#1f1ff0"/><circle cx="289.7" cy="714.1" r="1.75" fill="#1f1ff0"/><circle cx="293.1" cy="717.8" r="1.75" fill="#1f1ff0"/><circle cx="289.7" cy="718.4" r="1.75" fill="#1f1ff0"/><circle cx="286.2" cy="720.7" r="1.75" fill="#1f1ff0"/><circle cx="286.2" cy="700.5" r="1.75" fill="#1f1ff0"/><circle cx="286.1" cy="723.1" r="1.75" fill="#1f1ff0"/><circle cx="289.6" cy="711.2" r="1.75" fill="#1f1ff0"/><circle cx="282.7" cy="727.5" r="1.75" fill="#1f1ff0"/><circle cx="297.7" cy="726.0" r="1.75" fill="#1f1ff0"/><circle cx="297.6" cy="713.1" r="1.75" fill="#1f1ff0"/><circle cx="297.6" cy="677.4" r="1.75" fill="#1f1ff0"/><circle cx="297.5" cy="711.9" r="1.75" fill="#1f1ff0"/><circle cx="297.7" cy="680.0" r="1.75" fill="#1f1ff0"/><circle cx="297.7" cy="720.3" r="1.75" fill="#1f1ff0"/><circle cx="297.5" cy="699.2" r="1.75" fill="#1f1ff0"/><circle cx="297.5" cy="723.7" r="1.75" fill="#1f1ff0"/><circle cx="309.7" cy="686.6" r="1.75" fill="#1f1ff0"/><circle cx="309.7" cy="704.7" r="1.75" fill="#1f1ff0"/><circle cx="324.1" cy="717.1" r="1.75" fill="#1f1ff0"/><circle cx="324.2" cy="728.6" r="1.75" fill="#1f1ff0"/><circle cx="329.8" cy="702.8" r="1.75" fill="#1f1ff0"/><circle cx="329.8" cy="729.3" r="1.75" fill="#1f1ff0"/><circle cx="329.9" cy="725.0" r="1.75" fill="#1f1ff0"/><circle cx="329.7" cy="706.4" r="1.75" fill="#1f1ff0"/><circle cx="329.8" cy="708.1" r="1.75" fill="#1f1ff0"/><circle cx="329.8" cy="716.6" r="1.75" fill="#1f1ff0"/><circle cx="329.7" cy="724.9" r="1.75" fill="#1f1ff0"/><circle cx="329.7" cy="708.3" r="1.75" fill="#1f1ff0"/><circle cx="329.8" cy="707.7" r="1.75" fill="#1f1ff0"/><circle cx="329.8" cy="716.6" r="1.75" fill="#1f1ff0"/><circle cx="337.0" cy="700.6" r="1.75" fill="#1f1ff0"/><circle cx="337.0" cy="727.0" r="1.75" fill="#1f1ff0"/><circle cx="343.2" cy="698.5" r="1.75" fill="#1f1ff0"/><circle cx="343.3" cy="672.2" r="1.75" fill="#1f1ff0"/><circle cx="343.4" cy="698.4" r="1.75" fill="#1f1ff0"/><circle cx="343.4" cy="664.5" r="1.75" fill="#1f1ff0"/><circle cx="343.3" cy="696.3" r="1.75" fill="#1f1ff0"/><circle cx="343.4" cy="696.9" r="1.75" fill="#1f1ff0"/><circle cx="343.3" cy="695.0" r="1.75" fill="#1f1ff0"/><circle cx="343.3" cy="678.9" r="1.75" fill="#1f1ff0"/><circle cx="343.3" cy="683.1" r="1.75" fill="#1f1ff0"/><circle cx="343.4" cy="697.1" r="1.75" fill="#1f1ff0"/><circle cx="357.1" cy="678.0" r="1.75" fill="#1f1ff0"/><circle cx="356.9" cy="715.8" r="1.75" fill="#1f1ff0"/><circle cx="356.9" cy="689.8" r="1.75" fill="#1f1ff0"/><circle cx="357.1" cy="689.4" r="1.75" fill="#1f1ff0"/><circle cx="356.9" cy="712.7" r="1.75" fill="#1f1ff0"/><circle cx="357.1" cy="655.0" r="1.75" fill="#1f1ff0"/><circle cx="362.2" cy="703.9" r="1.75" fill="#1f1ff0"/><circle cx="362.4" cy="727.0" r="1.75" fill="#1f1ff0"/><circle cx="367.4" cy="686.6" r="1.75" fill="#1f1ff0"/><circle cx="367.3" cy="698.1" r="1.75" fill="#1f1ff0"/><circle cx="367.6" cy="707.2" r="1.75" fill="#1f1ff0"/><circle cx="374.2" cy="682.4" r="1.75" fill="#1f1ff0"/><circle cx="374.4" cy="690.3" r="1.75" fill="#1f1ff0"/><circle cx="378.4" cy="676.9" r="1.75" fill="#1f1ff0"/><circle cx="374.3" cy="677.2" r="1.75" fill="#1f1ff0"/><circle cx="374.2" cy="658.7" r="1.75" fill="#1f1ff0"/><circle cx="374.2" cy="656.8" r="1.75" fill="#1f1ff0"/><circle cx="389.0" cy="688.0" r="1.75" fill="#1f1ff0"/><circle cx="382.4" cy="697.2" r="1.75" fill="#1f1ff0"/><circle cx="389.2" cy="711.0" r="1.75" fill="#1f1ff0"/><circle cx="389.2" cy="701.4" r="1.75" fill="#1f1ff0"/><circle cx="385.7" cy="683.5" r="1.75" fill="#1f1ff0"/><circle cx="385.9" cy="724.2" r="1.75" fill="#1f1ff0"/><circle cx="382.5" cy="699.3" r="1.75" fill="#1f1ff0"/><circle cx="385.8" cy="675.0" r="1.75" fill="#1f1ff0"/><circle cx="385.8" cy="726.8" r="1.75" fill="#1f1ff0"/><circle cx="382.4" cy="690.0" r="1.75" fill="#1f1ff0"/><circle cx="396.2" cy="727.0" r="1.75" fill="#1f1ff0"/><circle cx="402.4" cy="718.7" r="1.75" fill="#1f1ff0"/></g>
<path d="M121.0,693.0 L123.4,693.3 L125.7,693.6 L128.1,693.9 L130.4,694.2 L132.8,694.6 L135.2,695.1 L137.5,695.6 L139.9,696.2 L142.3,697.0 L144.6,697.7 L147.0,698.6 L149.3,699.5 L151.7,700.4 L154.1,701.4 L156.4,702.3 L158.8,703.1 L161.1,704.0 L163.5,704.7 L165.9,705.4 L168.2,706.0 L170.6,706.5 L172.9,706.9 L175.3,707.2 L177.7,707.4 L180.0,707.5 L182.4,707.5 L184.8,707.4 L187.1,707.2 L189.5,706.8 L191.8,706.4 L194.2,705.9 L196.6,705.3 L198.9,704.7 L201.3,703.9 L203.6,703.2 L206.0,702.3 L208.4,701.5 L210.7,700.6 L213.1,699.6 L215.5,698.7 L217.8,697.8 L220.2,696.9 L222.5,696.0 L224.9,695.2 L227.3,694.3 L229.6,693.6 L232.0,692.9 L234.3,692.3 L236.7,691.8 L239.1,691.3 L241.4,691.0 L243.8,690.6 L246.2,690.3 L248.5,690.1 L250.9,689.9 L253.2,689.7 L255.6,689.6 L258.0,689.5 L260.3,689.4 L262.7,689.4 L265.0,689.3 L267.4,689.3 L269.8,689.3 L272.1,689.3 L274.5,689.3 L276.8,689.3 L279.2,689.3 L281.6,689.3 L283.9,689.3 L286.3,689.3 L288.7,689.4 L291.0,689.4 L293.4,689.4 L295.7,689.5 L298.1,689.5 L300.5,689.5 L302.8,689.5 L305.2,689.5 L307.5,689.5 L309.9,689.5 L312.3,689.5 L314.6,689.5 L317.0,689.5 L319.4,689.5 L321.7,689.5 L324.1,689.5 L326.4,689.5 L328.8,689.5 L331.2,689.5 L333.5,689.5 L335.9,689.5 L338.2,689.5 L340.6,689.6 L343.0,689.6 L345.3,689.6 L347.7,689.6 L350.1,689.7 L352.4,689.7 L354.8,689.8 L357.1,689.9 L359.5,690.0 L361.9,690.1 L364.2,690.2 L366.6,690.4 L368.9,690.5 L371.3,690.7 L373.7,690.9 L376.0,691.1 L378.4,691.4 L380.7,691.6 L383.1,691.9 L385.5,692.2 L387.8,692.4 L390.2,692.7 L392.6,693.0 L394.9,693.4 L397.3,693.7 L399.6,694.0 L402.0,694.3" fill="none" stroke="#8b0f0f" stroke-width="1.9" stroke-linecap="round"/>
<path d="M121.0,715.5 L123.4,715.7 L125.7,715.9 L128.1,716.2 L130.4,716.4 L132.8,716.6 L135.2,716.9 L137.5,717.1 L139.9,717.3 L142.3,717.5 L144.6,717.7 L147.0,717.9 L149.3,718.1 L151.7,718.3 L154.1,718.4 L156.4,718.6 L158.8,718.7 L161.1,718.8 L163.5,718.9 L165.9,719.0 L168.2,719.1 L170.6,719.2 L172.9,719.2 L175.3,719.2 L177.7,719.2 L180.0,719.2 L182.4,719.1 L184.8,719.1 L187.1,719.0 L189.5,718.9 L191.8,718.8 L194.2,718.7 L196.6,718.5 L198.9,718.3 L201.3,718.2 L203.6,718.0 L206.0,717.8 L208.4,717.5 L210.7,717.3 L213.1,717.1 L215.5,716.9 L217.8,716.6 L220.2,716.4 L222.5,716.2 L224.9,715.9 L227.3,715.7 L229.6,715.5 L232.0,715.3 L234.3,715.1 L236.7,715.0 L239.1,714.8 L241.4,714.7 L243.8,714.5 L246.2,714.4 L248.5,714.4 L250.9,714.3 L253.2,714.3 L255.6,714.2 L258.0,714.2 L260.3,714.2 L262.7,714.2 L265.0,714.2 L267.4,714.3 L269.8,714.3 L272.1,714.3 L274.5,714.4 L276.8,714.4 L279.2,714.4 L281.6,714.4 L283.9,714.5 L286.3,714.5 L288.7,714.5 L291.0,714.5 L293.4,714.5 L295.7,714.4 L298.1,714.4 L300.5,714.3 L302.8,714.3 L305.2,714.2 L307.5,714.1 L309.9,714.0 L312.3,713.8 L314.6,713.7 L317.0,713.6 L319.4,713.5 L321.7,713.3 L324.1,713.2 L326.4,713.1 L328.8,713.0 L331.2,712.9 L333.5,712.8 L335.9,712.7 L338.2,712.6 L340.6,712.6 L343.0,712.6 L345.3,712.6 L347.7,712.6 L350.1,712.6 L352.4,712.7 L354.8,712.8 L357.1,712.9 L359.5,713.1 L361.9,713.2 L364.2,713.5 L366.6,713.7 L368.9,714.0 L371.3,714.3 L373.7,714.6 L376.0,715.0 L378.4,715.3 L380.7,715.8 L383.1,716.2 L385.5,716.6 L387.8,717.1 L390.2,717.6 L392.6,718.1 L394.9,718.6 L397.3,719.1 L399.6,719.6 L402.0,720.1" fill="none" stroke="#1f1ff0" stroke-width="1.9" stroke-linecap="round"/>
<line x1="107.60" y1="631.10" x2="415.60" y2="631.10" stroke="#707070" stroke-width="1.8" />
<line x1="107.60" y1="630.80" x2="107.60" y2="732.90" stroke="#111" stroke-width="1.2" />
<line x1="415.60" y1="630.80" x2="415.60" y2="732.90" stroke="#111" stroke-width="1.2" />
<line x1="107.00" y1="732.90" x2="416.20" y2="732.90" stroke="#111" stroke-width="1.2" />
<line x1="121.20" y1="732.90" x2="121.20" y2="737.40" stroke="#111" stroke-width="1.3" />
<line x1="214.00" y1="732.90" x2="214.00" y2="737.40" stroke="#111" stroke-width="1.3" />
<line x1="307.00" y1="732.90" x2="307.00" y2="737.40" stroke="#111" stroke-width="1.3" />
<line x1="400.00" y1="732.90" x2="400.00" y2="737.40" stroke="#111" stroke-width="1.3" />
<line x1="102.30" y1="857.50" x2="107.60" y2="857.50" stroke="#1a1a1a" stroke-width="1.3" />
<text x="98.60" y="861.50" font-size="10.3" text-anchor="end" textLength="20.2" lengthAdjust="spacingAndGlyphs">0.00</text>
<line x1="102.30" y1="833.55" x2="107.60" y2="833.55" stroke="#1a1a1a" stroke-width="1.3" />
<text x="98.60" y="837.55" font-size="10.3" text-anchor="end" textLength="20.2" lengthAdjust="spacingAndGlyphs">0.25</text>
<line x1="102.30" y1="809.60" x2="107.60" y2="809.60" stroke="#1a1a1a" stroke-width="1.3" />
<text x="98.60" y="813.60" font-size="10.3" text-anchor="end" textLength="20.2" lengthAdjust="spacingAndGlyphs">0.50</text>
<line x1="102.30" y1="785.65" x2="107.60" y2="785.65" stroke="#1a1a1a" stroke-width="1.3" />
<text x="98.60" y="789.65" font-size="10.3" text-anchor="end" textLength="20.2" lengthAdjust="spacingAndGlyphs">0.75</text>
<line x1="102.30" y1="761.70" x2="107.60" y2="761.70" stroke="#1a1a1a" stroke-width="1.3" />
<text x="98.60" y="765.70" font-size="10.3" text-anchor="end" textLength="20.2" lengthAdjust="spacingAndGlyphs">1.00</text>
<text x="72.20" y="809.60" font-size="10.2" text-anchor="middle" textLength="36.5" lengthAdjust="spacingAndGlyphs" transform="rotate(-90 72.20 809.60)">β values</text>
<g><circle cx="329.9" cy="818.3" r="1.75" fill="#e3150f"/><circle cx="186.6" cy="850.6" r="1.75" fill="#e3150f"/><circle cx="129.8" cy="851.0" r="1.75" fill="#f3adb0"/><circle cx="134.8" cy="809.0" r="1.75" fill="#f3adb0"/><circle cx="378.5" cy="834.2" r="1.75" fill="#e3150f"/><circle cx="122.1" cy="822.6" r="1.75" fill="#e3150f"/><circle cx="289.7" cy="764.2" r="1.75" fill="#f3adb0"/><circle cx="329.8" cy="830.5" r="1.75" fill="#6e80f2"/><circle cx="145.0" cy="849.1" r="1.75" fill="#f3adb0"/><circle cx="128.0" cy="808.2" r="1.75" fill="#e3150f"/><circle cx="343.4" cy="800.9" r="1.75" fill="#e3150f"/><circle cx="243.3" cy="776.6" r="1.75" fill="#e3150f"/><circle cx="272.3" cy="810.3" r="1.75" fill="#e3150f"/><circle cx="367.3" cy="792.0" r="1.75" fill="#e3150f"/><circle cx="129.9" cy="776.6" r="1.75" fill="#e3150f"/><circle cx="134.5" cy="819.2" r="1.75" fill="#6e80f2"/><circle cx="243.5" cy="799.1" r="1.75" fill="#f3adb0"/><circle cx="402.5" cy="789.5" r="1.75" fill="#f3adb0"/><circle cx="129.7" cy="783.3" r="1.75" fill="#f3adb0"/><circle cx="228.5" cy="853.0" r="1.75" fill="#e3150f"/><circle cx="134.6" cy="779.1" r="1.75" fill="#f3adb0"/><circle cx="232.9" cy="847.3" r="1.75" fill="#e3150f"/><circle cx="297.7" cy="848.9" r="1.75" fill="#f3adb0"/><circle cx="120.2" cy="835.0" r="1.75" fill="#e3150f"/><circle cx="297.5" cy="835.3" r="1.75" fill="#f3adb0"/><circle cx="337.4" cy="833.2" r="1.75" fill="#e3150f"/><circle cx="378.3" cy="800.8" r="1.75" fill="#e3150f"/><circle cx="289.6" cy="804.2" r="1.75" fill="#f3adb0"/><circle cx="385.9" cy="808.1" r="1.75" fill="#e3150f"/><circle cx="329.7" cy="836.0" r="1.75" fill="#1f1ff0"/><circle cx="357.1" cy="766.5" r="1.75" fill="#e3150f"/><circle cx="122.1" cy="767.2" r="1.75" fill="#e3150f"/><circle cx="120.3" cy="764.0" r="1.75" fill="#e3150f"/><circle cx="396.1" cy="838.2" r="1.75" fill="#e3150f"/><circle cx="124.2" cy="847.9" r="1.75" fill="#e3150f"/><circle cx="329.7" cy="781.9" r="1.75" fill="#e3150f"/><circle cx="207.6" cy="789.4" r="1.75" fill="#f3adb0"/><circle cx="382.4" cy="783.2" r="1.75" fill="#f3adb0"/><circle cx="120.6" cy="801.5" r="1.75" fill="#1f1ff0"/><circle cx="357.1" cy="777.7" r="1.75" fill="#e3150f"/><circle cx="297.5" cy="842.6" r="1.75" fill="#e3150f"/><circle cx="343.4" cy="824.6" r="1.75" fill="#e3150f"/><circle cx="122.0" cy="783.3" r="1.75" fill="#f3adb0"/><circle cx="163.6" cy="846.2" r="1.75" fill="#e3150f"/><circle cx="286.1" cy="855.7" r="1.75" fill="#e3150f"/><circle cx="337.3" cy="823.3" r="1.75" fill="#e3150f"/><circle cx="127.8" cy="846.2" r="1.75" fill="#e3150f"/><circle cx="337.2" cy="816.7" r="1.75" fill="#e3150f"/><circle cx="329.8" cy="835.8" r="1.75" fill="#6e80f2"/><circle cx="324.0" cy="816.7" r="1.75" fill="#e3150f"/><circle cx="194.0" cy="828.7" r="1.75" fill="#e3150f"/><circle cx="362.4" cy="836.5" r="1.75" fill="#e3150f"/><circle cx="378.5" cy="776.5" r="1.75" fill="#f3adb0"/><circle cx="232.9" cy="845.6" r="1.75" fill="#e3150f"/><circle cx="382.6" cy="814.6" r="1.75" fill="#e3150f"/><circle cx="129.7" cy="847.1" r="1.75" fill="#f3adb0"/><circle cx="324.1" cy="833.2" r="1.75" fill="#e3150f"/><circle cx="356.9" cy="840.4" r="1.75" fill="#6e80f2"/><circle cx="293.0" cy="843.3" r="1.75" fill="#f3adb0"/><circle cx="357.1" cy="807.7" r="1.75" fill="#e3150f"/><circle cx="357.0" cy="843.2" r="1.75" fill="#e3150f"/><circle cx="198.0" cy="843.3" r="1.75" fill="#f3adb0"/><circle cx="129.9" cy="835.5" r="1.75" fill="#f3adb0"/><circle cx="385.9" cy="850.5" r="1.75" fill="#e3150f"/><circle cx="286.2" cy="819.9" r="1.75" fill="#e3150f"/><circle cx="129.7" cy="784.6" r="1.75" fill="#e3150f"/><circle cx="343.3" cy="857.0" r="1.75" fill="#f3adb0"/><circle cx="374.2" cy="842.5" r="1.75" fill="#e3150f"/><circle cx="123.5" cy="819.1" r="1.75" fill="#6e80f2"/><circle cx="207.5" cy="853.7" r="1.75" fill="#1f1ff0"/><circle cx="357.0" cy="792.4" r="1.75" fill="#e3150f"/><circle cx="286.2" cy="832.2" r="1.75" fill="#e3150f"/><circle cx="163.5" cy="831.6" r="1.75" fill="#e3150f"/><circle cx="127.8" cy="856.2" r="1.75" fill="#e3150f"/><circle cx="324.0" cy="826.6" r="1.75" fill="#e3150f"/><circle cx="357.1" cy="854.4" r="1.75" fill="#f3adb0"/><circle cx="229.0" cy="854.4" r="1.75" fill="#6e80f2"/><circle cx="120.2" cy="856.9" r="1.75" fill="#f3adb0"/><circle cx="228.5" cy="813.0" r="1.75" fill="#e3150f"/><circle cx="356.9" cy="774.1" r="1.75" fill="#f3adb0"/><circle cx="356.9" cy="794.8" r="1.75" fill="#e3150f"/><circle cx="129.9" cy="825.9" r="1.75" fill="#f3adb0"/><circle cx="228.9" cy="856.2" r="1.75" fill="#6e80f2"/><circle cx="382.6" cy="816.8" r="1.75" fill="#f3adb0"/><circle cx="127.7" cy="789.9" r="1.75" fill="#e3150f"/><circle cx="309.7" cy="796.1" r="1.75" fill="#e3150f"/><circle cx="134.6" cy="798.0" r="1.75" fill="#e3150f"/><circle cx="362.4" cy="796.9" r="1.75" fill="#e3150f"/><circle cx="122.1" cy="844.6" r="1.75" fill="#e3150f"/><circle cx="120.3" cy="778.9" r="1.75" fill="#e3150f"/><circle cx="125.9" cy="774.7" r="1.75" fill="#e3150f"/><circle cx="343.3" cy="796.7" r="1.75" fill="#e3150f"/><circle cx="120.7" cy="849.0" r="1.75" fill="#1f1ff0"/><circle cx="282.7" cy="792.4" r="1.75" fill="#e3150f"/><circle cx="228.5" cy="838.6" r="1.75" fill="#f3adb0"/><circle cx="309.8" cy="793.6" r="1.75" fill="#e3150f"/><circle cx="374.2" cy="789.1" r="1.75" fill="#f3adb0"/><circle cx="374.3" cy="804.9" r="1.75" fill="#6e80f2"/><circle cx="127.7" cy="789.4" r="1.75" fill="#e3150f"/><circle cx="125.9" cy="786.2" r="1.75" fill="#e3150f"/><circle cx="134.7" cy="853.5" r="1.75" fill="#e3150f"/><circle cx="282.8" cy="828.4" r="1.75" fill="#e3150f"/><circle cx="186.7" cy="829.4" r="1.75" fill="#e3150f"/><circle cx="127.9" cy="821.2" r="1.75" fill="#e3150f"/><circle cx="282.8" cy="772.3" r="1.75" fill="#f3adb0"/><circle cx="382.5" cy="827.0" r="1.75" fill="#6e80f2"/><circle cx="343.3" cy="810.8" r="1.75" fill="#6e80f2"/><circle cx="293.2" cy="821.4" r="1.75" fill="#e3150f"/><circle cx="378.5" cy="799.6" r="1.75" fill="#e3150f"/><circle cx="378.4" cy="803.0" r="1.75" fill="#e3150f"/><circle cx="286.2" cy="818.0" r="1.75" fill="#e3150f"/><circle cx="186.5" cy="856.4" r="1.75" fill="#f3adb0"/><circle cx="382.6" cy="829.4" r="1.75" fill="#f3adb0"/><circle cx="272.2" cy="836.0" r="1.75" fill="#f3adb0"/><circle cx="122.2" cy="843.4" r="1.75" fill="#e3150f"/><circle cx="297.6" cy="840.8" r="1.75" fill="#1f1ff0"/><circle cx="186.4" cy="836.0" r="1.75" fill="#f3adb0"/><circle cx="126.0" cy="854.8" r="1.75" fill="#f3adb0"/><circle cx="297.6" cy="795.4" r="1.75" fill="#e3150f"/><circle cx="286.2" cy="820.6" r="1.75" fill="#e3150f"/><circle cx="129.9" cy="778.8" r="1.75" fill="#e3150f"/><circle cx="378.4" cy="839.8" r="1.75" fill="#e3150f"/><circle cx="129.7" cy="767.1" r="1.75" fill="#e3150f"/><circle cx="139.5" cy="822.1" r="1.75" fill="#e3150f"/><circle cx="293.2" cy="765.4" r="1.75" fill="#e3150f"/><circle cx="125.8" cy="845.5" r="1.75" fill="#e3150f"/><circle cx="289.7" cy="808.8" r="1.75" fill="#f3adb0"/><circle cx="297.7" cy="845.4" r="1.75" fill="#e3150f"/><circle cx="357.1" cy="824.7" r="1.75" fill="#e3150f"/><circle cx="286.1" cy="825.9" r="1.75" fill="#e3150f"/><circle cx="129.9" cy="850.3" r="1.75" fill="#f3adb0"/><circle cx="289.6" cy="826.9" r="1.75" fill="#e3150f"/><circle cx="129.7" cy="854.3" r="1.75" fill="#e3150f"/><circle cx="324.2" cy="829.9" r="1.75" fill="#e3150f"/><circle cx="228.9" cy="823.8" r="1.75" fill="#1f1ff0"/><circle cx="289.7" cy="820.3" r="1.75" fill="#e3150f"/><circle cx="194.1" cy="836.0" r="1.75" fill="#f3adb0"/><circle cx="228.9" cy="838.3" r="1.75" fill="#e3150f"/><circle cx="228.6" cy="828.7" r="1.75" fill="#e3150f"/><circle cx="228.9" cy="767.0" r="1.75" fill="#e3150f"/><circle cx="378.5" cy="811.1" r="1.75" fill="#e3150f"/><circle cx="120.3" cy="854.6" r="1.75" fill="#f3adb0"/><circle cx="126.1" cy="850.4" r="1.75" fill="#f3adb0"/><circle cx="396.1" cy="834.9" r="1.75" fill="#f3adb0"/><circle cx="356.9" cy="773.4" r="1.75" fill="#e3150f"/><circle cx="124.0" cy="847.2" r="1.75" fill="#e3150f"/><circle cx="289.7" cy="835.5" r="1.75" fill="#e3150f"/><circle cx="127.8" cy="827.1" r="1.75" fill="#e3150f"/><circle cx="297.6" cy="820.3" r="1.75" fill="#e3150f"/><circle cx="267.6" cy="812.7" r="1.75" fill="#e3150f"/><circle cx="154.8" cy="847.7" r="1.75" fill="#f3adb0"/><circle cx="139.4" cy="849.1" r="1.75" fill="#e3150f"/><circle cx="343.3" cy="799.9" r="1.75" fill="#6e80f2"/><circle cx="122.0" cy="849.8" r="1.75" fill="#e3150f"/><circle cx="357.0" cy="781.8" r="1.75" fill="#e3150f"/><circle cx="229.0" cy="818.9" r="1.75" fill="#e3150f"/><circle cx="297.7" cy="789.4" r="1.75" fill="#f3adb0"/><circle cx="329.8" cy="844.3" r="1.75" fill="#1f1ff0"/><circle cx="120.2" cy="842.6" r="1.75" fill="#e3150f"/><circle cx="122.0" cy="854.6" r="1.75" fill="#e3150f"/><circle cx="129.9" cy="786.9" r="1.75" fill="#e3150f"/><circle cx="228.9" cy="771.6" r="1.75" fill="#e3150f"/><circle cx="282.8" cy="774.9" r="1.75" fill="#e3150f"/><circle cx="378.4" cy="804.6" r="1.75" fill="#1f1ff0"/><circle cx="343.3" cy="843.1" r="1.75" fill="#e3150f"/><circle cx="343.3" cy="824.6" r="1.75" fill="#e3150f"/><circle cx="289.7" cy="791.4" r="1.75" fill="#f3adb0"/><circle cx="225.0" cy="845.3" r="1.75" fill="#e3150f"/><circle cx="282.8" cy="839.3" r="1.75" fill="#e3150f"/><circle cx="243.4" cy="848.8" r="1.75" fill="#f3adb0"/><circle cx="362.4" cy="790.3" r="1.75" fill="#e3150f"/><circle cx="286.1" cy="846.3" r="1.75" fill="#e3150f"/><circle cx="297.5" cy="851.4" r="1.75" fill="#6e80f2"/><circle cx="122.2" cy="855.6" r="1.75" fill="#f3adb0"/><circle cx="382.6" cy="774.1" r="1.75" fill="#f3adb0"/><circle cx="309.5" cy="841.5" r="1.75" fill="#f3adb0"/><circle cx="297.6" cy="810.3" r="1.75" fill="#e3150f"/><circle cx="329.8" cy="844.3" r="1.75" fill="#6e80f2"/><circle cx="122.1" cy="771.9" r="1.75" fill="#f3adb0"/><circle cx="356.9" cy="822.1" r="1.75" fill="#f3adb0"/><circle cx="233.0" cy="852.1" r="1.75" fill="#6e80f2"/><circle cx="289.6" cy="815.1" r="1.75" fill="#e3150f"/><circle cx="297.7" cy="815.7" r="1.75" fill="#e3150f"/><circle cx="186.7" cy="838.9" r="1.75" fill="#e3150f"/><circle cx="378.5" cy="786.1" r="1.75" fill="#e3150f"/><circle cx="127.8" cy="764.0" r="1.75" fill="#f3adb0"/><circle cx="402.5" cy="834.9" r="1.75" fill="#e3150f"/><circle cx="232.8" cy="848.0" r="1.75" fill="#6e80f2"/><circle cx="382.6" cy="799.7" r="1.75" fill="#e3150f"/><circle cx="297.7" cy="840.0" r="1.75" fill="#e3150f"/><circle cx="289.7" cy="851.2" r="1.75" fill="#e3150f"/><circle cx="385.7" cy="782.6" r="1.75" fill="#e3150f"/><circle cx="125.9" cy="788.8" r="1.75" fill="#e3150f"/><circle cx="154.7" cy="834.5" r="1.75" fill="#e3150f"/><circle cx="282.6" cy="851.4" r="1.75" fill="#6e80f2"/><circle cx="154.8" cy="821.4" r="1.75" fill="#e3150f"/><circle cx="396.1" cy="797.8" r="1.75" fill="#e3150f"/><circle cx="154.5" cy="853.5" r="1.75" fill="#f3adb0"/><circle cx="402.4" cy="846.4" r="1.75" fill="#6e80f2"/><circle cx="228.4" cy="787.4" r="1.75" fill="#f3adb0"/><circle cx="229.0" cy="854.9" r="1.75" fill="#f3adb0"/><circle cx="356.9" cy="817.5" r="1.75" fill="#1f1ff0"/><circle cx="224.9" cy="856.5" r="1.75" fill="#e3150f"/><circle cx="122.1" cy="852.5" r="1.75" fill="#f3adb0"/><circle cx="129.8" cy="802.1" r="1.75" fill="#e3150f"/><circle cx="127.9" cy="803.1" r="1.75" fill="#e3150f"/><circle cx="382.6" cy="811.8" r="1.75" fill="#f3adb0"/><circle cx="389.1" cy="819.3" r="1.75" fill="#f3adb0"/><circle cx="293.0" cy="833.7" r="1.75" fill="#e3150f"/><circle cx="232.9" cy="790.7" r="1.75" fill="#f3adb0"/><circle cx="289.7" cy="843.7" r="1.75" fill="#f3adb0"/><circle cx="289.6" cy="812.1" r="1.75" fill="#e3150f"/><circle cx="329.9" cy="851.8" r="1.75" fill="#e3150f"/><circle cx="343.2" cy="805.2" r="1.75" fill="#f3adb0"/><circle cx="124.0" cy="857.1" r="1.75" fill="#e3150f"/><circle cx="127.8" cy="765.3" r="1.75" fill="#f3adb0"/><circle cx="163.6" cy="840.4" r="1.75" fill="#f3adb0"/><circle cx="329.9" cy="848.5" r="1.75" fill="#e3150f"/><circle cx="120.3" cy="781.7" r="1.75" fill="#e3150f"/><circle cx="122.1" cy="768.8" r="1.75" fill="#f3adb0"/><circle cx="337.0" cy="828.3" r="1.75" fill="#1f1ff0"/><circle cx="120.3" cy="834.7" r="1.75" fill="#e3150f"/><circle cx="286.1" cy="776.2" r="1.75" fill="#e3150f"/><circle cx="356.9" cy="784.2" r="1.75" fill="#e3150f"/><circle cx="362.2" cy="831.6" r="1.75" fill="#6e80f2"/><circle cx="163.6" cy="843.3" r="1.75" fill="#e3150f"/><circle cx="286.1" cy="814.8" r="1.75" fill="#e3150f"/><circle cx="289.7" cy="854.6" r="1.75" fill="#f3adb0"/><circle cx="357.0" cy="831.4" r="1.75" fill="#f3adb0"/><circle cx="362.6" cy="826.6" r="1.75" fill="#e3150f"/><circle cx="128.0" cy="843.9" r="1.75" fill="#f3adb0"/><circle cx="343.2" cy="819.4" r="1.75" fill="#e3150f"/><circle cx="232.8" cy="825.6" r="1.75" fill="#e3150f"/><circle cx="357.1" cy="767.1" r="1.75" fill="#f3adb0"/><circle cx="127.9" cy="846.5" r="1.75" fill="#f3adb0"/><circle cx="374.2" cy="813.3" r="1.75" fill="#e3150f"/><circle cx="356.9" cy="784.4" r="1.75" fill="#e3150f"/><circle cx="122.0" cy="837.9" r="1.75" fill="#f3adb0"/><circle cx="120.1" cy="854.2" r="1.75" fill="#e3150f"/><circle cx="124.0" cy="770.9" r="1.75" fill="#e3150f"/><circle cx="357.0" cy="768.7" r="1.75" fill="#f3adb0"/><circle cx="122.1" cy="775.7" r="1.75" fill="#e3150f"/><circle cx="127.8" cy="814.2" r="1.75" fill="#e3150f"/><circle cx="122.2" cy="850.6" r="1.75" fill="#f3adb0"/><circle cx="126.5" cy="828.6" r="1.75" fill="#6e80f2"/><circle cx="120.2" cy="763.2" r="1.75" fill="#f3adb0"/><circle cx="232.8" cy="773.9" r="1.75" fill="#e3150f"/><circle cx="357.0" cy="823.4" r="1.75" fill="#e3150f"/><circle cx="229.1" cy="807.1" r="1.75" fill="#f3adb0"/><circle cx="286.0" cy="819.7" r="1.75" fill="#e3150f"/><circle cx="329.7" cy="808.8" r="1.75" fill="#e3150f"/><circle cx="402.5" cy="841.5" r="1.75" fill="#e3150f"/><circle cx="139.5" cy="855.0" r="1.75" fill="#f3adb0"/><circle cx="272.3" cy="832.8" r="1.75" fill="#e3150f"/><circle cx="134.7" cy="782.0" r="1.75" fill="#e3150f"/><circle cx="126.6" cy="818.9" r="1.75" fill="#1f1ff0"/><circle cx="293.2" cy="767.0" r="1.75" fill="#f3adb0"/><circle cx="129.9" cy="839.3" r="1.75" fill="#e3150f"/><circle cx="297.7" cy="848.0" r="1.75" fill="#6e80f2"/><circle cx="329.9" cy="836.2" r="1.75" fill="#e3150f"/><circle cx="120.6" cy="834.4" r="1.75" fill="#1f1ff0"/><circle cx="385.7" cy="803.0" r="1.75" fill="#e3150f"/><circle cx="124.0" cy="807.9" r="1.75" fill="#e3150f"/><circle cx="309.7" cy="834.9" r="1.75" fill="#e3150f"/><circle cx="356.9" cy="851.0" r="1.75" fill="#e3150f"/><circle cx="207.7" cy="848.8" r="1.75" fill="#f3adb0"/><circle cx="125.9" cy="790.1" r="1.75" fill="#e3150f"/><circle cx="337.0" cy="820.0" r="1.75" fill="#e3150f"/><circle cx="309.8" cy="858.0" r="1.75" fill="#f3adb0"/><circle cx="233.0" cy="849.3" r="1.75" fill="#6e80f2"/><circle cx="163.7" cy="852.1" r="1.75" fill="#e3150f"/><circle cx="309.6" cy="801.1" r="1.75" fill="#e3150f"/><circle cx="286.0" cy="841.8" r="1.75" fill="#1f1ff0"/><circle cx="154.8" cy="841.8" r="1.75" fill="#e3150f"/><circle cx="129.8" cy="844.3" r="1.75" fill="#f3adb0"/><circle cx="122.2" cy="848.5" r="1.75" fill="#e3150f"/><circle cx="362.3" cy="843.1" r="1.75" fill="#e3150f"/><circle cx="309.6" cy="798.6" r="1.75" fill="#f3adb0"/><circle cx="122.1" cy="847.7" r="1.75" fill="#f3adb0"/><circle cx="128.0" cy="802.6" r="1.75" fill="#e3150f"/><circle cx="282.6" cy="819.0" r="1.75" fill="#e3150f"/><circle cx="297.5" cy="826.9" r="1.75" fill="#6e80f2"/><circle cx="367.5" cy="854.7" r="1.75" fill="#e3150f"/><circle cx="357.0" cy="781.3" r="1.75" fill="#e3150f"/><circle cx="233.0" cy="804.3" r="1.75" fill="#f3adb0"/><circle cx="127.9" cy="773.1" r="1.75" fill="#e3150f"/><circle cx="154.7" cy="828.7" r="1.75" fill="#e3150f"/><circle cx="343.4" cy="792.2" r="1.75" fill="#1f1ff0"/><circle cx="329.7" cy="826.2" r="1.75" fill="#e3150f"/><circle cx="267.5" cy="852.1" r="1.75" fill="#f3adb0"/><circle cx="402.5" cy="854.7" r="1.75" fill="#f3adb0"/><circle cx="337.1" cy="846.4" r="1.75" fill="#e3150f"/><circle cx="374.2" cy="767.2" r="1.75" fill="#e3150f"/><circle cx="124.1" cy="830.6" r="1.75" fill="#e3150f"/><circle cx="243.6" cy="767.7" r="1.75" fill="#e3150f"/><circle cx="329.9" cy="827.6" r="1.75" fill="#e3150f"/><circle cx="126.1" cy="766.6" r="1.75" fill="#e3150f"/><circle cx="356.9" cy="854.3" r="1.75" fill="#f3adb0"/><circle cx="389.1" cy="815.0" r="1.75" fill="#e3150f"/><circle cx="367.4" cy="814.3" r="1.75" fill="#1f1ff0"/><circle cx="177.4" cy="810.4" r="1.75" fill="#e3150f"/><circle cx="127.8" cy="847.9" r="1.75" fill="#e3150f"/><circle cx="374.3" cy="805.3" r="1.75" fill="#f3adb0"/><circle cx="343.4" cy="838.9" r="1.75" fill="#e3150f"/><circle cx="286.0" cy="773.7" r="1.75" fill="#f3adb0"/><circle cx="297.5" cy="843.1" r="1.75" fill="#e3150f"/><circle cx="385.9" cy="802.6" r="1.75" fill="#e3150f"/><circle cx="309.7" cy="838.2" r="1.75" fill="#e3150f"/><circle cx="194.3" cy="830.2" r="1.75" fill="#e3150f"/><circle cx="357.0" cy="805.5" r="1.75" fill="#f3adb0"/><circle cx="293.0" cy="821.5" r="1.75" fill="#e3150f"/><circle cx="154.5" cy="844.8" r="1.75" fill="#f3adb0"/><circle cx="126.0" cy="822.6" r="1.75" fill="#e3150f"/><circle cx="337.1" cy="843.1" r="1.75" fill="#e3150f"/><circle cx="357.1" cy="842.2" r="1.75" fill="#e3150f"/><circle cx="228.9" cy="805.9" r="1.75" fill="#e3150f"/><circle cx="233.0" cy="773.5" r="1.75" fill="#e3150f"/><circle cx="124.0" cy="775.1" r="1.75" fill="#e3150f"/><circle cx="329.8" cy="793.4" r="1.75" fill="#e3150f"/><circle cx="282.6" cy="811.2" r="1.75" fill="#e3150f"/><circle cx="120.1" cy="849.6" r="1.75" fill="#f3adb0"/><circle cx="126.0" cy="834.2" r="1.75" fill="#e3150f"/><circle cx="329.8" cy="852.0" r="1.75" fill="#e3150f"/><circle cx="282.6" cy="773.3" r="1.75" fill="#e3150f"/><circle cx="286.1" cy="850.8" r="1.75" fill="#1f1ff0"/><circle cx="134.8" cy="796.6" r="1.75" fill="#e3150f"/><circle cx="124.1" cy="840.5" r="1.75" fill="#f3adb0"/><circle cx="134.6" cy="768.1" r="1.75" fill="#f3adb0"/><circle cx="154.6" cy="850.6" r="1.75" fill="#e3150f"/><circle cx="343.2" cy="849.3" r="1.75" fill="#e3150f"/><circle cx="129.9" cy="768.4" r="1.75" fill="#f3adb0"/><circle cx="232.8" cy="844.0" r="1.75" fill="#f3adb0"/><circle cx="309.5" cy="844.8" r="1.75" fill="#f3adb0"/><circle cx="389.2" cy="783.7" r="1.75" fill="#e3150f"/><circle cx="382.4" cy="804.6" r="1.75" fill="#e3150f"/><circle cx="134.8" cy="850.6" r="1.75" fill="#f3adb0"/><circle cx="127.8" cy="854.7" r="1.75" fill="#f3adb0"/><circle cx="233.0" cy="844.2" r="1.75" fill="#e3150f"/><circle cx="324.2" cy="839.8" r="1.75" fill="#e3150f"/><circle cx="286.3" cy="833.1" r="1.75" fill="#e3150f"/><circle cx="228.9" cy="818.0" r="1.75" fill="#e3150f"/><circle cx="197.6" cy="852.1" r="1.75" fill="#e3150f"/><circle cx="232.9" cy="767.4" r="1.75" fill="#e3150f"/><circle cx="389.1" cy="790.7" r="1.75" fill="#e3150f"/><circle cx="194.1" cy="833.1" r="1.75" fill="#e3150f"/><circle cx="177.4" cy="850.6" r="1.75" fill="#e3150f"/><circle cx="357.1" cy="773.2" r="1.75" fill="#f3adb0"/><circle cx="129.8" cy="785.3" r="1.75" fill="#f3adb0"/><circle cx="225.0" cy="786.3" r="1.75" fill="#f3adb0"/><circle cx="389.2" cy="851.3" r="1.75" fill="#f3adb0"/><circle cx="289.7" cy="846.1" r="1.75" fill="#6e80f2"/><circle cx="289.6" cy="763.9" r="1.75" fill="#e3150f"/><circle cx="289.7" cy="771.4" r="1.75" fill="#e3150f"/><circle cx="357.1" cy="817.1" r="1.75" fill="#6e80f2"/><circle cx="120.2" cy="851.7" r="1.75" fill="#f3adb0"/><circle cx="272.2" cy="852.1" r="1.75" fill="#f3adb0"/><circle cx="127.9" cy="790.7" r="1.75" fill="#e3150f"/><circle cx="207.6" cy="845.6" r="1.75" fill="#f3adb0"/><circle cx="228.9" cy="820.5" r="1.75" fill="#e3150f"/><circle cx="233.0" cy="824.7" r="1.75" fill="#6e80f2"/><circle cx="286.1" cy="799.1" r="1.75" fill="#e3150f"/><circle cx="343.3" cy="786.7" r="1.75" fill="#e3150f"/><circle cx="343.4" cy="822.6" r="1.75" fill="#e3150f"/><circle cx="194.0" cy="822.9" r="1.75" fill="#e3150f"/><circle cx="207.7" cy="803.9" r="1.75" fill="#6e80f2"/><circle cx="122.2" cy="856.0" r="1.75" fill="#e3150f"/><circle cx="127.9" cy="774.5" r="1.75" fill="#e3150f"/><circle cx="293.2" cy="836.7" r="1.75" fill="#e3150f"/><circle cx="385.8" cy="802.7" r="1.75" fill="#1f1ff0"/><circle cx="324.1" cy="844.8" r="1.75" fill="#6e80f2"/><circle cx="293.2" cy="778.8" r="1.75" fill="#f3adb0"/><circle cx="389.0" cy="815.7" r="1.75" fill="#1f1ff0"/><circle cx="343.3" cy="806.0" r="1.75" fill="#e3150f"/><circle cx="356.9" cy="816.6" r="1.75" fill="#e3150f"/><circle cx="374.3" cy="769.8" r="1.75" fill="#f3adb0"/><circle cx="289.7" cy="774.2" r="1.75" fill="#e3150f"/><circle cx="124.0" cy="771.4" r="1.75" fill="#e3150f"/><circle cx="343.4" cy="839.0" r="1.75" fill="#e3150f"/><circle cx="293.0" cy="772.1" r="1.75" fill="#e3150f"/><circle cx="122.0" cy="808.5" r="1.75" fill="#f3adb0"/><circle cx="228.5" cy="792.1" r="1.75" fill="#e3150f"/><circle cx="343.2" cy="833.3" r="1.75" fill="#e3150f"/><circle cx="385.8" cy="854.5" r="1.75" fill="#1f1ff0"/><circle cx="389.2" cy="770.6" r="1.75" fill="#e3150f"/><circle cx="297.7" cy="851.8" r="1.75" fill="#e3150f"/><circle cx="329.7" cy="801.5" r="1.75" fill="#e3150f"/><circle cx="163.7" cy="834.5" r="1.75" fill="#e3150f"/><circle cx="125.9" cy="802.3" r="1.75" fill="#e3150f"/><circle cx="122.2" cy="788.5" r="1.75" fill="#e3150f"/><circle cx="124.0" cy="810.3" r="1.75" fill="#e3150f"/><circle cx="286.2" cy="785.1" r="1.75" fill="#e3150f"/><circle cx="126.1" cy="821.0" r="1.75" fill="#e3150f"/><circle cx="378.3" cy="772.6" r="1.75" fill="#e3150f"/><circle cx="389.0" cy="813.9" r="1.75" fill="#e3150f"/><circle cx="243.6" cy="792.6" r="1.75" fill="#e3150f"/><circle cx="297.6" cy="781.0" r="1.75" fill="#e3150f"/><circle cx="129.8" cy="773.9" r="1.75" fill="#e3150f"/><circle cx="357.0" cy="833.2" r="1.75" fill="#e3150f"/><circle cx="367.6" cy="834.9" r="1.75" fill="#1f1ff0"/><circle cx="139.4" cy="809.0" r="1.75" fill="#e3150f"/><circle cx="293.1" cy="848.2" r="1.75" fill="#1f1ff0"/><circle cx="120.2" cy="855.6" r="1.75" fill="#f3adb0"/><circle cx="126.0" cy="857.0" r="1.75" fill="#f3adb0"/><circle cx="389.0" cy="781.0" r="1.75" fill="#e3150f"/><circle cx="289.5" cy="837.4" r="1.75" fill="#1f1ff0"/><circle cx="194.3" cy="840.4" r="1.75" fill="#e3150f"/><circle cx="122.0" cy="776.2" r="1.75" fill="#e3150f"/><circle cx="124.0" cy="765.3" r="1.75" fill="#e3150f"/><circle cx="186.5" cy="823.6" r="1.75" fill="#e3150f"/><circle cx="224.9" cy="799.6" r="1.75" fill="#f3adb0"/><circle cx="228.9" cy="797.1" r="1.75" fill="#e3150f"/><circle cx="382.6" cy="807.2" r="1.75" fill="#e3150f"/><circle cx="286.1" cy="800.4" r="1.75" fill="#e3150f"/><circle cx="293.0" cy="797.9" r="1.75" fill="#e3150f"/><circle cx="337.3" cy="836.5" r="1.75" fill="#e3150f"/><circle cx="402.2" cy="818.4" r="1.75" fill="#e3150f"/><circle cx="356.9" cy="822.3" r="1.75" fill="#e3150f"/><circle cx="286.1" cy="819.9" r="1.75" fill="#f3adb0"/><circle cx="224.9" cy="773.8" r="1.75" fill="#e3150f"/><circle cx="129.9" cy="833.4" r="1.75" fill="#e3150f"/><circle cx="357.0" cy="794.3" r="1.75" fill="#e3150f"/><circle cx="357.0" cy="836.5" r="1.75" fill="#e3150f"/><circle cx="154.8" cy="825.8" r="1.75" fill="#e3150f"/><circle cx="120.3" cy="845.7" r="1.75" fill="#e3150f"/><circle cx="282.7" cy="771.5" r="1.75" fill="#e3150f"/><circle cx="337.3" cy="810.1" r="1.75" fill="#e3150f"/><circle cx="357.1" cy="820.4" r="1.75" fill="#e3150f"/><circle cx="396.3" cy="844.8" r="1.75" fill="#f3adb0"/><circle cx="122.2" cy="790.1" r="1.75" fill="#e3150f"/><circle cx="129.9" cy="820.1" r="1.75" fill="#f3adb0"/><circle cx="122.1" cy="847.1" r="1.75" fill="#e3150f"/><circle cx="124.2" cy="854.7" r="1.75" fill="#e3150f"/><circle cx="129.9" cy="856.8" r="1.75" fill="#f3adb0"/><circle cx="207.6" cy="842.4" r="1.75" fill="#6e80f2"/><circle cx="357.1" cy="805.7" r="1.75" fill="#6e80f2"/><circle cx="289.6" cy="840.2" r="1.75" fill="#f3adb0"/><circle cx="293.0" cy="787.2" r="1.75" fill="#f3adb0"/><circle cx="374.3" cy="805.9" r="1.75" fill="#e3150f"/><circle cx="289.6" cy="812.2" r="1.75" fill="#e3150f"/><circle cx="297.7" cy="845.4" r="1.75" fill="#e3150f"/><circle cx="228.5" cy="832.9" r="1.75" fill="#e3150f"/><circle cx="385.8" cy="818.1" r="1.75" fill="#e3150f"/><circle cx="343.2" cy="850.1" r="1.75" fill="#e3150f"/><circle cx="122.2" cy="768.1" r="1.75" fill="#e3150f"/><circle cx="120.1" cy="776.2" r="1.75" fill="#e3150f"/><circle cx="129.8" cy="809.2" r="1.75" fill="#e3150f"/><circle cx="232.9" cy="845.7" r="1.75" fill="#e3150f"/><circle cx="293.2" cy="829.9" r="1.75" fill="#e3150f"/><circle cx="357.0" cy="793.3" r="1.75" fill="#e3150f"/><circle cx="126.1" cy="772.3" r="1.75" fill="#f3adb0"/><circle cx="343.3" cy="837.2" r="1.75" fill="#e3150f"/><circle cx="124.0" cy="795.4" r="1.75" fill="#e3150f"/><circle cx="289.6" cy="789.7" r="1.75" fill="#e3150f"/><circle cx="122.1" cy="855.9" r="1.75" fill="#e3150f"/><circle cx="134.5" cy="799.5" r="1.75" fill="#e3150f"/><circle cx="122.0" cy="844.1" r="1.75" fill="#e3150f"/><circle cx="289.7" cy="838.3" r="1.75" fill="#e3150f"/><circle cx="286.1" cy="784.1" r="1.75" fill="#f3adb0"/><circle cx="129.5" cy="789.5" r="1.75" fill="#6e80f2"/><circle cx="396.4" cy="828.3" r="1.75" fill="#e3150f"/><circle cx="297.5" cy="814.8" r="1.75" fill="#e3150f"/><circle cx="120.1" cy="856.3" r="1.75" fill="#e3150f"/><circle cx="194.0" cy="843.3" r="1.75" fill="#e3150f"/><circle cx="127.9" cy="788.4" r="1.75" fill="#f3adb0"/><circle cx="286.2" cy="848.4" r="1.75" fill="#6e80f2"/><circle cx="229.0" cy="848.0" r="1.75" fill="#6e80f2"/><circle cx="228.6" cy="830.4" r="1.75" fill="#e3150f"/><circle cx="382.5" cy="857.3" r="1.75" fill="#f3adb0"/><circle cx="243.3" cy="783.0" r="1.75" fill="#f3adb0"/><circle cx="343.3" cy="797.6" r="1.75" fill="#f3adb0"/><circle cx="329.7" cy="825.2" r="1.75" fill="#e3150f"/><circle cx="128.0" cy="857.2" r="1.75" fill="#f3adb0"/><circle cx="378.4" cy="831.3" r="1.75" fill="#e3150f"/><circle cx="293.1" cy="851.5" r="1.75" fill="#e3150f"/><circle cx="224.8" cy="788.3" r="1.75" fill="#e3150f"/><circle cx="129.7" cy="764.4" r="1.75" fill="#f3adb0"/><circle cx="357.1" cy="782.7" r="1.75" fill="#6e80f2"/><circle cx="297.5" cy="813.4" r="1.75" fill="#e3150f"/><circle cx="357.1" cy="781.8" r="1.75" fill="#e3150f"/><circle cx="207.8" cy="795.8" r="1.75" fill="#e3150f"/><circle cx="297.5" cy="831.0" r="1.75" fill="#f3adb0"/><circle cx="362.5" cy="849.7" r="1.75" fill="#e3150f"/><circle cx="127.9" cy="850.0" r="1.75" fill="#e3150f"/><circle cx="228.6" cy="852.6" r="1.75" fill="#e3150f"/><circle cx="233.0" cy="842.5" r="1.75" fill="#1f1ff0"/><circle cx="357.0" cy="822.0" r="1.75" fill="#f3adb0"/><circle cx="382.4" cy="816.8" r="1.75" fill="#e3150f"/><circle cx="343.3" cy="853.1" r="1.75" fill="#f3adb0"/><circle cx="122.0" cy="766.4" r="1.75" fill="#e3150f"/><circle cx="297.6" cy="812.4" r="1.75" fill="#f3adb0"/><circle cx="357.1" cy="769.0" r="1.75" fill="#f3adb0"/><circle cx="367.4" cy="772.2" r="1.75" fill="#e3150f"/><circle cx="120.3" cy="853.7" r="1.75" fill="#e3150f"/><circle cx="124.2" cy="853.0" r="1.75" fill="#f3adb0"/><circle cx="343.3" cy="805.6" r="1.75" fill="#e3150f"/><circle cx="125.9" cy="785.6" r="1.75" fill="#f3adb0"/><circle cx="127.9" cy="845.6" r="1.75" fill="#e3150f"/><circle cx="343.3" cy="808.8" r="1.75" fill="#e3150f"/><circle cx="282.8" cy="804.1" r="1.75" fill="#e3150f"/><circle cx="120.1" cy="852.4" r="1.75" fill="#e3150f"/><circle cx="134.7" cy="807.5" r="1.75" fill="#6e80f2"/><circle cx="122.0" cy="830.0" r="1.75" fill="#e3150f"/><circle cx="122.0" cy="856.2" r="1.75" fill="#e3150f"/><circle cx="122.0" cy="762.8" r="1.75" fill="#e3150f"/><circle cx="129.8" cy="849.9" r="1.75" fill="#f3adb0"/><circle cx="126.0" cy="787.2" r="1.75" fill="#e3150f"/><circle cx="343.3" cy="818.0" r="1.75" fill="#e3150f"/><circle cx="126.1" cy="772.2" r="1.75" fill="#f3adb0"/><circle cx="233.0" cy="811.0" r="1.75" fill="#f3adb0"/><circle cx="165.5" cy="841.8" r="1.75" fill="#f3adb0"/><circle cx="145.0" cy="838.2" r="1.75" fill="#6e80f2"/><circle cx="378.3" cy="800.0" r="1.75" fill="#e3150f"/><circle cx="289.5" cy="791.1" r="1.75" fill="#e3150f"/><circle cx="378.3" cy="804.1" r="1.75" fill="#f3adb0"/><circle cx="120.2" cy="856.3" r="1.75" fill="#f3adb0"/><circle cx="382.5" cy="839.7" r="1.75" fill="#e3150f"/><circle cx="127.9" cy="800.2" r="1.75" fill="#e3150f"/><circle cx="122.1" cy="843.1" r="1.75" fill="#f3adb0"/><circle cx="293.0" cy="838.5" r="1.75" fill="#e3150f"/><circle cx="229.0" cy="838.5" r="1.75" fill="#e3150f"/><circle cx="309.5" cy="821.7" r="1.75" fill="#e3150f"/><circle cx="225.0" cy="783.8" r="1.75" fill="#e3150f"/><circle cx="233.0" cy="775.6" r="1.75" fill="#e3150f"/><circle cx="293.0" cy="811.2" r="1.75" fill="#e3150f"/><circle cx="272.4" cy="779.8" r="1.75" fill="#e3150f"/><circle cx="329.8" cy="772.2" r="1.75" fill="#f3adb0"/><circle cx="225.0" cy="800.5" r="1.75" fill="#e3150f"/><circle cx="337.3" cy="853.0" r="1.75" fill="#f3adb0"/><circle cx="343.3" cy="806.6" r="1.75" fill="#6e80f2"/><circle cx="356.9" cy="835.3" r="1.75" fill="#e3150f"/><circle cx="134.7" cy="824.3" r="1.75" fill="#e3150f"/><circle cx="228.9" cy="762.9" r="1.75" fill="#e3150f"/><circle cx="286.2" cy="784.6" r="1.75" fill="#f3adb0"/><circle cx="357.1" cy="849.2" r="1.75" fill="#e3150f"/><circle cx="125.9" cy="784.5" r="1.75" fill="#f3adb0"/><circle cx="374.2" cy="826.8" r="1.75" fill="#e3150f"/><circle cx="282.6" cy="776.2" r="1.75" fill="#e3150f"/><circle cx="329.8" cy="801.3" r="1.75" fill="#f3adb0"/><circle cx="323.9" cy="843.1" r="1.75" fill="#e3150f"/><circle cx="374.2" cy="786.4" r="1.75" fill="#1f1ff0"/><circle cx="309.4" cy="776.3" r="1.75" fill="#e3150f"/><circle cx="243.5" cy="845.6" r="1.75" fill="#f3adb0"/><circle cx="356.9" cy="828.7" r="1.75" fill="#e3150f"/><circle cx="286.0" cy="822.7" r="1.75" fill="#e3150f"/><circle cx="286.0" cy="790.5" r="1.75" fill="#e3150f"/><circle cx="134.5" cy="811.2" r="1.75" fill="#e3150f"/><circle cx="374.4" cy="818.0" r="1.75" fill="#6e80f2"/><circle cx="389.2" cy="777.1" r="1.75" fill="#e3150f"/><circle cx="228.5" cy="818.9" r="1.75" fill="#e3150f"/><circle cx="233.0" cy="825.7" r="1.75" fill="#e3150f"/><circle cx="165.5" cy="838.9" r="1.75" fill="#e3150f"/><circle cx="194.0" cy="834.5" r="1.75" fill="#e3150f"/><circle cx="228.6" cy="789.6" r="1.75" fill="#e3150f"/><circle cx="129.8" cy="845.3" r="1.75" fill="#f3adb0"/><circle cx="134.6" cy="833.1" r="1.75" fill="#1f1ff0"/><circle cx="129.8" cy="764.1" r="1.75" fill="#e3150f"/><circle cx="402.5" cy="831.6" r="1.75" fill="#e3150f"/><circle cx="229.1" cy="848.1" r="1.75" fill="#e3150f"/><circle cx="329.9" cy="840.2" r="1.75" fill="#e3150f"/><circle cx="177.2" cy="856.4" r="1.75" fill="#f3adb0"/><circle cx="124.1" cy="846.1" r="1.75" fill="#f3adb0"/><circle cx="124.1" cy="786.9" r="1.75" fill="#e3150f"/><circle cx="122.2" cy="783.5" r="1.75" fill="#e3150f"/><circle cx="367.2" cy="810.1" r="1.75" fill="#e3150f"/><circle cx="293.0" cy="822.1" r="1.75" fill="#e3150f"/><circle cx="228.9" cy="786.0" r="1.75" fill="#e3150f"/><circle cx="127.8" cy="784.5" r="1.75" fill="#e3150f"/><circle cx="329.8" cy="857.0" r="1.75" fill="#6e80f2"/><circle cx="309.7" cy="814.3" r="1.75" fill="#6e80f2"/><circle cx="120.3" cy="853.2" r="1.75" fill="#f3adb0"/><circle cx="126.0" cy="855.9" r="1.75" fill="#f3adb0"/><circle cx="343.2" cy="845.2" r="1.75" fill="#e3150f"/><circle cx="293.0" cy="818.3" r="1.75" fill="#6e80f2"/><circle cx="194.2" cy="855.0" r="1.75" fill="#e3150f"/><circle cx="357.1" cy="767.9" r="1.75" fill="#f3adb0"/><circle cx="343.3" cy="824.0" r="1.75" fill="#6e80f2"/><circle cx="272.2" cy="789.4" r="1.75" fill="#e3150f"/><circle cx="127.9" cy="824.2" r="1.75" fill="#f3adb0"/><circle cx="229.1" cy="778.8" r="1.75" fill="#f3adb0"/><circle cx="389.0" cy="828.9" r="1.75" fill="#e3150f"/><circle cx="357.1" cy="791.9" r="1.75" fill="#e3150f"/><circle cx="207.6" cy="786.2" r="1.75" fill="#e3150f"/><circle cx="272.5" cy="829.6" r="1.75" fill="#e3150f"/><circle cx="385.7" cy="855.3" r="1.75" fill="#f3adb0"/><circle cx="125.9" cy="776.0" r="1.75" fill="#e3150f"/><circle cx="402.1" cy="825.0" r="1.75" fill="#f3adb0"/><circle cx="297.7" cy="831.9" r="1.75" fill="#e3150f"/><circle cx="286.1" cy="806.4" r="1.75" fill="#e3150f"/><circle cx="128.0" cy="835.9" r="1.75" fill="#e3150f"/><circle cx="122.2" cy="837.1" r="1.75" fill="#e3150f"/><circle cx="194.1" cy="849.1" r="1.75" fill="#f3adb0"/><circle cx="389.1" cy="774.9" r="1.75" fill="#e3150f"/><circle cx="122.1" cy="808.7" r="1.75" fill="#f3adb0"/><circle cx="389.2" cy="825.6" r="1.75" fill="#f3adb0"/><circle cx="127.8" cy="850.1" r="1.75" fill="#f3adb0"/><circle cx="122.0" cy="786.6" r="1.75" fill="#e3150f"/><circle cx="282.6" cy="827.3" r="1.75" fill="#f3adb0"/><circle cx="343.3" cy="815.0" r="1.75" fill="#e3150f"/><circle cx="229.0" cy="818.1" r="1.75" fill="#e3150f"/><circle cx="154.6" cy="839.6" r="1.75" fill="#6e80f2"/><circle cx="362.3" cy="811.8" r="1.75" fill="#e3150f"/><circle cx="286.2" cy="828.4" r="1.75" fill="#1f1ff0"/><circle cx="297.6" cy="814.9" r="1.75" fill="#e3150f"/><circle cx="356.9" cy="823.2" r="1.75" fill="#e3150f"/><circle cx="243.2" cy="839.2" r="1.75" fill="#6e80f2"/><circle cx="289.6" cy="805.0" r="1.75" fill="#e3150f"/><circle cx="367.5" cy="788.7" r="1.75" fill="#e3150f"/><circle cx="402.2" cy="765.6" r="1.75" fill="#e3150f"/><circle cx="272.3" cy="845.6" r="1.75" fill="#f3adb0"/><circle cx="282.7" cy="810.0" r="1.75" fill="#e3150f"/><circle cx="127.8" cy="782.3" r="1.75" fill="#e3150f"/><circle cx="243.5" cy="852.1" r="1.75" fill="#f3adb0"/><circle cx="232.9" cy="850.5" r="1.75" fill="#f3adb0"/><circle cx="293.1" cy="826.7" r="1.75" fill="#e3150f"/><circle cx="126.0" cy="766.8" r="1.75" fill="#e3150f"/><circle cx="286.1" cy="834.2" r="1.75" fill="#e3150f"/><circle cx="286.0" cy="805.3" r="1.75" fill="#e3150f"/><circle cx="282.7" cy="853.2" r="1.75" fill="#f3adb0"/><circle cx="402.4" cy="838.2" r="1.75" fill="#e3150f"/><circle cx="343.4" cy="836.9" r="1.75" fill="#f3adb0"/><circle cx="385.8" cy="793.9" r="1.75" fill="#e3150f"/><circle cx="229.0" cy="809.8" r="1.75" fill="#e3150f"/><circle cx="124.0" cy="851.4" r="1.75" fill="#f3adb0"/><circle cx="120.2" cy="788.4" r="1.75" fill="#e3150f"/><circle cx="134.4" cy="844.8" r="1.75" fill="#f3adb0"/><circle cx="362.6" cy="833.2" r="1.75" fill="#e3150f"/><circle cx="357.1" cy="817.8" r="1.75" fill="#e3150f"/><circle cx="329.9" cy="849.4" r="1.75" fill="#f3adb0"/><circle cx="123.9" cy="773.4" r="1.75" fill="#e3150f"/><circle cx="186.7" cy="841.8" r="1.75" fill="#f3adb0"/><circle cx="329.7" cy="837.0" r="1.75" fill="#e3150f"/><circle cx="337.3" cy="849.7" r="1.75" fill="#e3150f"/><circle cx="139.5" cy="838.9" r="1.75" fill="#6e80f2"/><circle cx="232.9" cy="855.2" r="1.75" fill="#e3150f"/><circle cx="329.9" cy="773.3" r="1.75" fill="#e3150f"/><circle cx="272.5" cy="842.4" r="1.75" fill="#e3150f"/><circle cx="357.0" cy="853.2" r="1.75" fill="#f3adb0"/><circle cx="382.6" cy="789.8" r="1.75" fill="#e3150f"/><circle cx="293.0" cy="785.4" r="1.75" fill="#f3adb0"/><circle cx="389.1" cy="847.6" r="1.75" fill="#f3adb0"/><circle cx="207.9" cy="800.7" r="1.75" fill="#e3150f"/><circle cx="207.8" cy="792.6" r="1.75" fill="#e3150f"/><circle cx="329.8" cy="848.9" r="1.75" fill="#e3150f"/><circle cx="124.0" cy="851.7" r="1.75" fill="#f3adb0"/><circle cx="367.6" cy="790.3" r="1.75" fill="#e3150f"/><circle cx="197.6" cy="849.1" r="1.75" fill="#e3150f"/><circle cx="293.2" cy="813.1" r="1.75" fill="#e3150f"/><circle cx="329.7" cy="852.6" r="1.75" fill="#6e80f2"/><circle cx="286.2" cy="824.3" r="1.75" fill="#e3150f"/><circle cx="232.8" cy="837.4" r="1.75" fill="#6e80f2"/><circle cx="207.6" cy="791.0" r="1.75" fill="#f3adb0"/><circle cx="272.2" cy="823.1" r="1.75" fill="#e3150f"/><circle cx="378.5" cy="770.7" r="1.75" fill="#f3adb0"/><circle cx="385.7" cy="824.1" r="1.75" fill="#e3150f"/><circle cx="297.7" cy="853.7" r="1.75" fill="#1f1ff0"/><circle cx="282.7" cy="855.2" r="1.75" fill="#6e80f2"/><circle cx="207.6" cy="829.6" r="1.75" fill="#e3150f"/><circle cx="122.1" cy="845.1" r="1.75" fill="#e3150f"/><circle cx="396.1" cy="788.7" r="1.75" fill="#f3adb0"/><circle cx="127.9" cy="849.3" r="1.75" fill="#f3adb0"/><circle cx="389.2" cy="806.9" r="1.75" fill="#e3150f"/><circle cx="127.8" cy="845.3" r="1.75" fill="#f3adb0"/><circle cx="378.5" cy="766.6" r="1.75" fill="#f3adb0"/><circle cx="126.0" cy="778.7" r="1.75" fill="#e3150f"/><circle cx="120.2" cy="826.9" r="1.75" fill="#f3adb0"/><circle cx="389.0" cy="838.1" r="1.75" fill="#e3150f"/><circle cx="154.8" cy="831.6" r="1.75" fill="#e3150f"/><circle cx="225.0" cy="823.6" r="1.75" fill="#e3150f"/><circle cx="224.9" cy="838.9" r="1.75" fill="#e3150f"/><circle cx="224.8" cy="846.2" r="1.75" fill="#e3150f"/><circle cx="233.0" cy="781.8" r="1.75" fill="#e3150f"/><circle cx="385.9" cy="851.9" r="1.75" fill="#1f1ff0"/><circle cx="129.9" cy="774.6" r="1.75" fill="#e3150f"/><circle cx="396.3" cy="773.8" r="1.75" fill="#e3150f"/><circle cx="367.5" cy="851.4" r="1.75" fill="#f3adb0"/><circle cx="286.2" cy="779.5" r="1.75" fill="#e3150f"/><circle cx="297.6" cy="854.9" r="1.75" fill="#f3adb0"/><circle cx="163.8" cy="837.5" r="1.75" fill="#e3150f"/><circle cx="228.4" cy="837.7" r="1.75" fill="#e3150f"/><circle cx="343.2" cy="850.1" r="1.75" fill="#e3150f"/><circle cx="329.9" cy="826.4" r="1.75" fill="#e3150f"/><circle cx="129.8" cy="809.8" r="1.75" fill="#e3150f"/><circle cx="378.3" cy="803.3" r="1.75" fill="#e3150f"/><circle cx="329.9" cy="784.2" r="1.75" fill="#e3150f"/><circle cx="362.3" cy="853.0" r="1.75" fill="#e3150f"/><circle cx="225.0" cy="850.6" r="1.75" fill="#e3150f"/><circle cx="329.7" cy="825.5" r="1.75" fill="#f3adb0"/><circle cx="293.1" cy="765.8" r="1.75" fill="#f3adb0"/><circle cx="125.8" cy="763.8" r="1.75" fill="#e3150f"/><circle cx="154.8" cy="824.3" r="1.75" fill="#f3adb0"/><circle cx="120.6" cy="828.5" r="1.75" fill="#6e80f2"/><circle cx="378.4" cy="764.8" r="1.75" fill="#e3150f"/><circle cx="337.3" cy="803.5" r="1.75" fill="#e3150f"/><circle cx="382.5" cy="787.7" r="1.75" fill="#f3adb0"/><circle cx="367.3" cy="782.1" r="1.75" fill="#f3adb0"/><circle cx="297.5" cy="798.8" r="1.75" fill="#e3150f"/><circle cx="396.2" cy="841.5" r="1.75" fill="#e3150f"/><circle cx="122.2" cy="782.9" r="1.75" fill="#e3150f"/><circle cx="362.6" cy="846.4" r="1.75" fill="#e3150f"/><circle cx="243.3" cy="769.4" r="1.75" fill="#e3150f"/><circle cx="186.3" cy="844.8" r="1.75" fill="#f3adb0"/><circle cx="122.1" cy="818.0" r="1.75" fill="#f3adb0"/><circle cx="233.0" cy="846.3" r="1.75" fill="#f3adb0"/><circle cx="385.7" cy="799.9" r="1.75" fill="#e3150f"/><circle cx="382.4" cy="831.3" r="1.75" fill="#e3150f"/><circle cx="120.7" cy="794.1" r="1.75" fill="#6e80f2"/><circle cx="228.6" cy="816.6" r="1.75" fill="#f3adb0"/><circle cx="367.3" cy="838.2" r="1.75" fill="#f3adb0"/><circle cx="356.9" cy="828.7" r="1.75" fill="#e3150f"/><circle cx="357.1" cy="854.7" r="1.75" fill="#f3adb0"/><circle cx="356.9" cy="838.4" r="1.75" fill="#e3150f"/><circle cx="232.9" cy="848.9" r="1.75" fill="#e3150f"/><circle cx="324.0" cy="853.0" r="1.75" fill="#e3150f"/><circle cx="229.1" cy="787.5" r="1.75" fill="#f3adb0"/><circle cx="267.3" cy="845.6" r="1.75" fill="#e3150f"/><circle cx="378.4" cy="811.3" r="1.75" fill="#e3150f"/><circle cx="286.2" cy="798.6" r="1.75" fill="#e3150f"/><circle cx="154.7" cy="836.0" r="1.75" fill="#f3adb0"/><circle cx="289.7" cy="810.7" r="1.75" fill="#e3150f"/><circle cx="122.0" cy="773.0" r="1.75" fill="#e3150f"/><circle cx="120.2" cy="777.7" r="1.75" fill="#e3150f"/><circle cx="282.8" cy="765.5" r="1.75" fill="#e3150f"/><circle cx="228.9" cy="803.0" r="1.75" fill="#e3150f"/><circle cx="127.8" cy="830.6" r="1.75" fill="#e3150f"/><circle cx="120.2" cy="857.1" r="1.75" fill="#e3150f"/><circle cx="165.4" cy="856.4" r="1.75" fill="#e3150f"/><circle cx="293.2" cy="793.7" r="1.75" fill="#f3adb0"/><circle cx="124.0" cy="848.9" r="1.75" fill="#f3adb0"/><circle cx="127.9" cy="849.9" r="1.75" fill="#e3150f"/><circle cx="124.2" cy="843.6" r="1.75" fill="#e3150f"/><circle cx="289.7" cy="826.8" r="1.75" fill="#e3150f"/><circle cx="367.5" cy="844.8" r="1.75" fill="#f3adb0"/><circle cx="233.0" cy="817.1" r="1.75" fill="#e3150f"/><circle cx="228.9" cy="839.4" r="1.75" fill="#e3150f"/><circle cx="228.9" cy="819.0" r="1.75" fill="#e3150f"/><circle cx="385.8" cy="849.1" r="1.75" fill="#e3150f"/><circle cx="323.8" cy="823.3" r="1.75" fill="#e3150f"/><circle cx="167.8" cy="855.0" r="1.75" fill="#e3150f"/><circle cx="374.2" cy="810.1" r="1.75" fill="#6e80f2"/><circle cx="123.4" cy="804.5" r="1.75" fill="#1f1ff0"/><circle cx="120.1" cy="828.5" r="1.75" fill="#e3150f"/><circle cx="126.1" cy="846.0" r="1.75" fill="#f3adb0"/><circle cx="124.0" cy="767.0" r="1.75" fill="#e3150f"/><circle cx="378.5" cy="797.6" r="1.75" fill="#e3150f"/><circle cx="289.8" cy="804.4" r="1.75" fill="#e3150f"/><circle cx="286.2" cy="789.6" r="1.75" fill="#e3150f"/><circle cx="329.7" cy="848.5" r="1.75" fill="#e3150f"/><circle cx="402.1" cy="821.7" r="1.75" fill="#e3150f"/><circle cx="225.0" cy="844.7" r="1.75" fill="#f3adb0"/><circle cx="128.0" cy="845.9" r="1.75" fill="#e3150f"/><circle cx="309.6" cy="791.2" r="1.75" fill="#e3150f"/><circle cx="389.2" cy="829.1" r="1.75" fill="#1f1ff0"/><circle cx="293.1" cy="792.3" r="1.75" fill="#e3150f"/><circle cx="186.3" cy="828.0" r="1.75" fill="#e3150f"/><circle cx="128.0" cy="784.6" r="1.75" fill="#f3adb0"/><circle cx="207.9" cy="792.6" r="1.75" fill="#6e80f2"/><circle cx="139.6" cy="852.1" r="1.75" fill="#f3adb0"/><circle cx="396.4" cy="848.1" r="1.75" fill="#e3150f"/><circle cx="232.9" cy="769.2" r="1.75" fill="#e3150f"/><circle cx="123.4" cy="800.7" r="1.75" fill="#6e80f2"/><circle cx="267.4" cy="835.2" r="1.75" fill="#e3150f"/><circle cx="286.2" cy="852.4" r="1.75" fill="#f3adb0"/><circle cx="309.5" cy="848.1" r="1.75" fill="#f3adb0"/><circle cx="228.6" cy="790.5" r="1.75" fill="#e3150f"/><circle cx="378.3" cy="844.1" r="1.75" fill="#f3adb0"/><circle cx="382.6" cy="771.5" r="1.75" fill="#f3adb0"/><circle cx="297.5" cy="820.2" r="1.75" fill="#e3150f"/><circle cx="382.5" cy="840.3" r="1.75" fill="#e3150f"/><circle cx="329.7" cy="797.6" r="1.75" fill="#e3150f"/><circle cx="233.0" cy="800.3" r="1.75" fill="#f3adb0"/><circle cx="289.7" cy="857.1" r="1.75" fill="#f3adb0"/><circle cx="228.9" cy="793.2" r="1.75" fill="#e3150f"/><circle cx="228.4" cy="811.7" r="1.75" fill="#f3adb0"/><circle cx="124.1" cy="763.7" r="1.75" fill="#f3adb0"/><circle cx="243.3" cy="766.1" r="1.75" fill="#f3adb0"/><circle cx="125.9" cy="766.7" r="1.75" fill="#e3150f"/><circle cx="356.9" cy="789.0" r="1.75" fill="#f3adb0"/><circle cx="286.1" cy="823.6" r="1.75" fill="#e3150f"/><circle cx="343.2" cy="795.5" r="1.75" fill="#f3adb0"/><circle cx="367.3" cy="848.1" r="1.75" fill="#f3adb0"/><circle cx="293.1" cy="825.4" r="1.75" fill="#e3150f"/><circle cx="385.8" cy="780.4" r="1.75" fill="#f3adb0"/><circle cx="224.9" cy="780.8" r="1.75" fill="#f3adb0"/><circle cx="125.9" cy="851.4" r="1.75" fill="#e3150f"/><circle cx="293.1" cy="781.6" r="1.75" fill="#f3adb0"/><circle cx="207.8" cy="797.5" r="1.75" fill="#f3adb0"/><circle cx="129.9" cy="844.4" r="1.75" fill="#f3adb0"/><circle cx="309.6" cy="831.6" r="1.75" fill="#e3150f"/><circle cx="378.3" cy="844.2" r="1.75" fill="#f3adb0"/><circle cx="293.1" cy="822.9" r="1.75" fill="#6e80f2"/><circle cx="124.0" cy="763.8" r="1.75" fill="#e3150f"/><circle cx="207.7" cy="835.2" r="1.75" fill="#6e80f2"/><circle cx="389.1" cy="798.4" r="1.75" fill="#f3adb0"/><circle cx="129.9" cy="777.7" r="1.75" fill="#e3150f"/><circle cx="286.2" cy="828.2" r="1.75" fill="#1f1ff0"/><circle cx="165.7" cy="844.8" r="1.75" fill="#f3adb0"/><circle cx="232.8" cy="850.6" r="1.75" fill="#6e80f2"/><circle cx="229.1" cy="798.8" r="1.75" fill="#e3150f"/><circle cx="228.9" cy="814.7" r="1.75" fill="#f3adb0"/><circle cx="289.6" cy="847.7" r="1.75" fill="#f3adb0"/><circle cx="293.0" cy="838.3" r="1.75" fill="#f3adb0"/><circle cx="286.3" cy="805.3" r="1.75" fill="#e3150f"/><circle cx="329.7" cy="789.0" r="1.75" fill="#e3150f"/><circle cx="129.9" cy="796.8" r="1.75" fill="#e3150f"/><circle cx="122.0" cy="851.0" r="1.75" fill="#e3150f"/><circle cx="374.2" cy="784.5" r="1.75" fill="#1f1ff0"/><circle cx="389.1" cy="820.1" r="1.75" fill="#e3150f"/><circle cx="233.0" cy="856.9" r="1.75" fill="#6e80f2"/><circle cx="163.7" cy="849.1" r="1.75" fill="#e3150f"/><circle cx="362.4" cy="823.3" r="1.75" fill="#e3150f"/><circle cx="163.7" cy="813.4" r="1.75" fill="#e3150f"/><circle cx="267.3" cy="848.8" r="1.75" fill="#e3150f"/><circle cx="207.9" cy="819.9" r="1.75" fill="#f3adb0"/><circle cx="127.9" cy="836.9" r="1.75" fill="#e3150f"/><circle cx="374.2" cy="783.8" r="1.75" fill="#e3150f"/><circle cx="309.5" cy="768.1" r="1.75" fill="#f3adb0"/><circle cx="343.3" cy="855.5" r="1.75" fill="#f3adb0"/><circle cx="194.2" cy="846.2" r="1.75" fill="#f3adb0"/><circle cx="382.6" cy="825.2" r="1.75" fill="#e3150f"/><circle cx="228.5" cy="844.2" r="1.75" fill="#f3adb0"/><circle cx="120.1" cy="784.6" r="1.75" fill="#f3adb0"/><circle cx="228.6" cy="801.3" r="1.75" fill="#e3150f"/><circle cx="293.1" cy="833.5" r="1.75" fill="#e3150f"/><circle cx="297.7" cy="837.6" r="1.75" fill="#e3150f"/><circle cx="124.0" cy="836.9" r="1.75" fill="#f3adb0"/><circle cx="329.7" cy="846.0" r="1.75" fill="#f3adb0"/><circle cx="224.8" cy="843.8" r="1.75" fill="#f3adb0"/><circle cx="154.8" cy="827.2" r="1.75" fill="#e3150f"/><circle cx="357.1" cy="851.6" r="1.75" fill="#f3adb0"/><circle cx="343.3" cy="822.7" r="1.75" fill="#1f1ff0"/><circle cx="243.2" cy="831.2" r="1.75" fill="#e3150f"/><circle cx="286.1" cy="834.4" r="1.75" fill="#e3150f"/><circle cx="323.8" cy="846.4" r="1.75" fill="#e3150f"/><circle cx="286.2" cy="833.4" r="1.75" fill="#f3adb0"/><circle cx="127.8" cy="808.6" r="1.75" fill="#e3150f"/><circle cx="297.7" cy="853.1" r="1.75" fill="#e3150f"/><circle cx="125.9" cy="850.7" r="1.75" fill="#f3adb0"/><circle cx="134.7" cy="856.4" r="1.75" fill="#e3150f"/><circle cx="389.2" cy="838.7" r="1.75" fill="#6e80f2"/><circle cx="232.9" cy="823.7" r="1.75" fill="#f3adb0"/><circle cx="378.5" cy="855.2" r="1.75" fill="#f3adb0"/><circle cx="293.2" cy="810.2" r="1.75" fill="#e3150f"/><circle cx="356.9" cy="843.5" r="1.75" fill="#6e80f2"/><circle cx="389.1" cy="794.7" r="1.75" fill="#f3adb0"/><circle cx="120.3" cy="781.6" r="1.75" fill="#e3150f"/><circle cx="343.2" cy="826.2" r="1.75" fill="#1f1ff0"/><circle cx="374.3" cy="812.7" r="1.75" fill="#e3150f"/><circle cx="126.0" cy="844.2" r="1.75" fill="#f3adb0"/><circle cx="367.3" cy="825.8" r="1.75" fill="#6e80f2"/><circle cx="134.7" cy="780.5" r="1.75" fill="#e3150f"/><circle cx="362.4" cy="854.7" r="1.75" fill="#6e80f2"/><circle cx="329.7" cy="807.1" r="1.75" fill="#f3adb0"/><circle cx="122.2" cy="779.8" r="1.75" fill="#e3150f"/><circle cx="297.7" cy="796.2" r="1.75" fill="#e3150f"/><circle cx="125.9" cy="843.4" r="1.75" fill="#e3150f"/><circle cx="343.3" cy="837.9" r="1.75" fill="#e3150f"/><circle cx="127.8" cy="776.3" r="1.75" fill="#e3150f"/><circle cx="329.7" cy="806.6" r="1.75" fill="#f3adb0"/><circle cx="154.7" cy="822.9" r="1.75" fill="#e3150f"/><circle cx="126.0" cy="798.9" r="1.75" fill="#e3150f"/><circle cx="309.6" cy="803.5" r="1.75" fill="#e3150f"/><circle cx="127.9" cy="845.2" r="1.75" fill="#f3adb0"/><circle cx="126.6" cy="840.0" r="1.75" fill="#6e80f2"/><circle cx="343.3" cy="821.3" r="1.75" fill="#e3150f"/><circle cx="139.5" cy="846.2" r="1.75" fill="#f3adb0"/><circle cx="228.5" cy="836.7" r="1.75" fill="#e3150f"/><circle cx="228.9" cy="805.0" r="1.75" fill="#e3150f"/><circle cx="282.8" cy="776.0" r="1.75" fill="#e3150f"/><circle cx="267.3" cy="819.9" r="1.75" fill="#e3150f"/><circle cx="124.0" cy="847.6" r="1.75" fill="#f3adb0"/><circle cx="357.0" cy="823.6" r="1.75" fill="#f3adb0"/><circle cx="357.0" cy="802.5" r="1.75" fill="#f3adb0"/><circle cx="357.0" cy="805.4" r="1.75" fill="#e3150f"/><circle cx="233.0" cy="850.2" r="1.75" fill="#6e80f2"/><circle cx="324.2" cy="813.4" r="1.75" fill="#e3150f"/><circle cx="127.9" cy="787.7" r="1.75" fill="#e3150f"/><circle cx="272.2" cy="848.8" r="1.75" fill="#f3adb0"/><circle cx="124.0" cy="831.5" r="1.75" fill="#f3adb0"/><circle cx="297.7" cy="807.7" r="1.75" fill="#1f1ff0"/><circle cx="282.6" cy="786.6" r="1.75" fill="#e3150f"/><circle cx="128.0" cy="850.6" r="1.75" fill="#f3adb0"/><circle cx="337.1" cy="829.9" r="1.75" fill="#e3150f"/><circle cx="309.5" cy="808.5" r="1.75" fill="#e3150f"/><circle cx="243.5" cy="764.5" r="1.75" fill="#f3adb0"/><circle cx="378.3" cy="791.4" r="1.75" fill="#f3adb0"/><circle cx="243.5" cy="811.9" r="1.75" fill="#e3150f"/><circle cx="125.9" cy="840.5" r="1.75" fill="#e3150f"/><circle cx="402.5" cy="844.8" r="1.75" fill="#e3150f"/><circle cx="229.0" cy="832.2" r="1.75" fill="#e3150f"/><circle cx="120.6" cy="836.5" r="1.75" fill="#1f1ff0"/><circle cx="126.1" cy="841.9" r="1.75" fill="#f3adb0"/><circle cx="293.1" cy="777.3" r="1.75" fill="#e3150f"/><circle cx="228.9" cy="798.5" r="1.75" fill="#e3150f"/><circle cx="378.4" cy="797.6" r="1.75" fill="#e3150f"/><circle cx="293.0" cy="773.8" r="1.75" fill="#f3adb0"/><circle cx="356.9" cy="831.4" r="1.75" fill="#e3150f"/><circle cx="343.2" cy="813.6" r="1.75" fill="#f3adb0"/><circle cx="343.4" cy="854.6" r="1.75" fill="#f3adb0"/><circle cx="154.8" cy="833.1" r="1.75" fill="#e3150f"/><circle cx="232.9" cy="850.7" r="1.75" fill="#6e80f2"/><circle cx="297.7" cy="794.1" r="1.75" fill="#e3150f"/><circle cx="297.5" cy="807.0" r="1.75" fill="#e3150f"/><circle cx="362.5" cy="829.9" r="1.75" fill="#e3150f"/><circle cx="126.0" cy="806.2" r="1.75" fill="#e3150f"/><circle cx="367.4" cy="841.5" r="1.75" fill="#e3150f"/><circle cx="357.0" cy="842.3" r="1.75" fill="#e3150f"/><circle cx="293.0" cy="851.2" r="1.75" fill="#e3150f"/><circle cx="329.8" cy="789.4" r="1.75" fill="#e3150f"/><circle cx="289.6" cy="817.7" r="1.75" fill="#e3150f"/><circle cx="309.6" cy="851.4" r="1.75" fill="#f3adb0"/><circle cx="293.1" cy="850.3" r="1.75" fill="#f3adb0"/><circle cx="374.3" cy="840.5" r="1.75" fill="#e3150f"/><circle cx="120.3" cy="848.4" r="1.75" fill="#e3150f"/><circle cx="356.9" cy="769.5" r="1.75" fill="#f3adb0"/><circle cx="297.5" cy="803.3" r="1.75" fill="#e3150f"/><circle cx="385.7" cy="829.5" r="1.75" fill="#f3adb0"/><circle cx="122.2" cy="823.5" r="1.75" fill="#e3150f"/><circle cx="343.2" cy="797.6" r="1.75" fill="#e3150f"/><circle cx="122.2" cy="842.6" r="1.75" fill="#e3150f"/><circle cx="123.4" cy="799.9" r="1.75" fill="#6e80f2"/><circle cx="282.7" cy="775.6" r="1.75" fill="#e3150f"/><circle cx="389.2" cy="819.2" r="1.75" fill="#e3150f"/><circle cx="297.7" cy="851.9" r="1.75" fill="#f3adb0"/><circle cx="272.5" cy="839.2" r="1.75" fill="#e3150f"/><circle cx="323.9" cy="849.7" r="1.75" fill="#f3adb0"/><circle cx="293.1" cy="845.5" r="1.75" fill="#6e80f2"/><circle cx="329.8" cy="833.5" r="1.75" fill="#f3adb0"/><circle cx="343.4" cy="822.5" r="1.75" fill="#e3150f"/><circle cx="357.1" cy="850.3" r="1.75" fill="#f3adb0"/><circle cx="125.9" cy="787.9" r="1.75" fill="#e3150f"/><circle cx="197.8" cy="846.2" r="1.75" fill="#f3adb0"/><circle cx="357.1" cy="787.9" r="1.75" fill="#e3150f"/><circle cx="282.6" cy="805.3" r="1.75" fill="#e3150f"/><circle cx="309.6" cy="854.7" r="1.75" fill="#f3adb0"/><circle cx="233.0" cy="785.7" r="1.75" fill="#e3150f"/><circle cx="297.6" cy="805.1" r="1.75" fill="#6e80f2"/><circle cx="127.9" cy="779.9" r="1.75" fill="#e3150f"/><circle cx="145.1" cy="852.1" r="1.75" fill="#e3150f"/><circle cx="343.3" cy="837.6" r="1.75" fill="#e3150f"/><circle cx="389.2" cy="810.6" r="1.75" fill="#e3150f"/><circle cx="309.4" cy="818.4" r="1.75" fill="#f3adb0"/><circle cx="282.6" cy="800.4" r="1.75" fill="#e3150f"/><circle cx="225.0" cy="776.8" r="1.75" fill="#e3150f"/><circle cx="402.2" cy="851.4" r="1.75" fill="#e3150f"/><circle cx="286.1" cy="777.9" r="1.75" fill="#e3150f"/><circle cx="282.6" cy="856.3" r="1.75" fill="#6e80f2"/><circle cx="197.8" cy="814.1" r="1.75" fill="#6e80f2"/><circle cx="233.0" cy="846.5" r="1.75" fill="#6e80f2"/><circle cx="356.9" cy="817.9" r="1.75" fill="#e3150f"/><circle cx="385.9" cy="816.4" r="1.75" fill="#e3150f"/><circle cx="165.4" cy="853.5" r="1.75" fill="#e3150f"/><circle cx="374.4" cy="842.7" r="1.75" fill="#e3150f"/><circle cx="194.0" cy="831.6" r="1.75" fill="#e3150f"/><circle cx="402.2" cy="848.1" r="1.75" fill="#f3adb0"/><circle cx="126.0" cy="809.4" r="1.75" fill="#e3150f"/><circle cx="122.2" cy="843.5" r="1.75" fill="#f3adb0"/><circle cx="324.1" cy="836.5" r="1.75" fill="#e3150f"/><circle cx="229.1" cy="822.7" r="1.75" fill="#f3adb0"/><circle cx="289.5" cy="854.2" r="1.75" fill="#f3adb0"/><circle cx="297.5" cy="780.5" r="1.75" fill="#e3150f"/><circle cx="329.8" cy="837.7" r="1.75" fill="#e3150f"/><circle cx="197.7" cy="819.9" r="1.75" fill="#e3150f"/><circle cx="323.8" cy="787.0" r="1.75" fill="#e3150f"/><circle cx="362.2" cy="800.2" r="1.75" fill="#e3150f"/><circle cx="309.7" cy="832.4" r="1.75" fill="#6e80f2"/><circle cx="289.7" cy="835.0" r="1.75" fill="#e3150f"/><circle cx="329.8" cy="817.4" r="1.75" fill="#e3150f"/><circle cx="124.1" cy="804.9" r="1.75" fill="#e3150f"/><circle cx="329.8" cy="830.9" r="1.75" fill="#e3150f"/><circle cx="396.2" cy="854.7" r="1.75" fill="#6e80f2"/><circle cx="329.9" cy="852.7" r="1.75" fill="#6e80f2"/><circle cx="228.5" cy="778.1" r="1.75" fill="#e3150f"/><circle cx="329.7" cy="807.6" r="1.75" fill="#e3150f"/><circle cx="145.1" cy="846.2" r="1.75" fill="#e3150f"/><circle cx="357.1" cy="809.1" r="1.75" fill="#e3150f"/><circle cx="329.9" cy="844.1" r="1.75" fill="#e3150f"/><circle cx="374.2" cy="852.8" r="1.75" fill="#f3adb0"/><circle cx="343.3" cy="800.3" r="1.75" fill="#e3150f"/><circle cx="378.5" cy="833.8" r="1.75" fill="#e3150f"/><circle cx="282.7" cy="772.6" r="1.75" fill="#e3150f"/><circle cx="362.4" cy="764.8" r="1.75" fill="#e3150f"/><circle cx="127.8" cy="765.9" r="1.75" fill="#e3150f"/><circle cx="374.4" cy="783.4" r="1.75" fill="#e3150f"/><circle cx="356.9" cy="844.5" r="1.75" fill="#e3150f"/><circle cx="139.5" cy="843.3" r="1.75" fill="#e3150f"/><circle cx="329.7" cy="851.5" r="1.75" fill="#e3150f"/><circle cx="357.0" cy="777.9" r="1.75" fill="#f3adb0"/><circle cx="286.3" cy="838.4" r="1.75" fill="#1f1ff0"/><circle cx="243.5" cy="855.3" r="1.75" fill="#f3adb0"/><circle cx="396.3" cy="808.5" r="1.75" fill="#f3adb0"/><circle cx="343.3" cy="804.8" r="1.75" fill="#e3150f"/><circle cx="309.5" cy="828.3" r="1.75" fill="#e3150f"/><circle cx="378.5" cy="797.4" r="1.75" fill="#e3150f"/><circle cx="124.1" cy="774.8" r="1.75" fill="#e3150f"/><circle cx="396.1" cy="851.4" r="1.75" fill="#f3adb0"/><circle cx="125.9" cy="825.3" r="1.75" fill="#e3150f"/><circle cx="243.6" cy="805.5" r="1.75" fill="#e3150f"/><circle cx="224.8" cy="840.8" r="1.75" fill="#e3150f"/><circle cx="286.2" cy="831.9" r="1.75" fill="#e3150f"/><circle cx="357.0" cy="823.8" r="1.75" fill="#e3150f"/><circle cx="289.7" cy="823.3" r="1.75" fill="#1f1ff0"/><circle cx="356.9" cy="783.7" r="1.75" fill="#e3150f"/><circle cx="329.7" cy="821.9" r="1.75" fill="#e3150f"/><circle cx="329.8" cy="807.1" r="1.75" fill="#e3150f"/><circle cx="177.4" cy="853.5" r="1.75" fill="#f3adb0"/><circle cx="289.6" cy="817.0" r="1.75" fill="#1f1ff0"/><circle cx="282.7" cy="804.9" r="1.75" fill="#e3150f"/><circle cx="282.6" cy="790.3" r="1.75" fill="#e3150f"/><circle cx="343.4" cy="824.8" r="1.75" fill="#6e80f2"/><circle cx="129.9" cy="855.7" r="1.75" fill="#f3adb0"/><circle cx="289.7" cy="816.9" r="1.75" fill="#e3150f"/><circle cx="224.9" cy="822.1" r="1.75" fill="#e3150f"/><circle cx="229.0" cy="848.3" r="1.75" fill="#1f1ff0"/><circle cx="224.9" cy="797.6" r="1.75" fill="#f3adb0"/><circle cx="122.1" cy="789.6" r="1.75" fill="#e3150f"/><circle cx="282.7" cy="835.4" r="1.75" fill="#e3150f"/><circle cx="382.4" cy="789.5" r="1.75" fill="#e3150f"/><circle cx="229.0" cy="845.2" r="1.75" fill="#1f1ff0"/><circle cx="382.6" cy="810.7" r="1.75" fill="#e3150f"/><circle cx="122.2" cy="844.4" r="1.75" fill="#e3150f"/><circle cx="126.6" cy="832.6" r="1.75" fill="#6e80f2"/><circle cx="224.9" cy="795.9" r="1.75" fill="#f3adb0"/><circle cx="225.0" cy="849.8" r="1.75" fill="#f3adb0"/><circle cx="233.0" cy="811.9" r="1.75" fill="#e3150f"/><circle cx="282.6" cy="764.7" r="1.75" fill="#f3adb0"/><circle cx="129.5" cy="805.8" r="1.75" fill="#6e80f2"/><circle cx="129.7" cy="842.4" r="1.75" fill="#e3150f"/><circle cx="233.0" cy="798.9" r="1.75" fill="#e3150f"/><circle cx="243.2" cy="762.9" r="1.75" fill="#f3adb0"/><circle cx="126.0" cy="847.4" r="1.75" fill="#e3150f"/><circle cx="126.0" cy="779.6" r="1.75" fill="#f3adb0"/><circle cx="129.8" cy="846.5" r="1.75" fill="#f3adb0"/><circle cx="309.5" cy="788.7" r="1.75" fill="#e3150f"/><circle cx="120.2" cy="773.4" r="1.75" fill="#f3adb0"/><circle cx="232.9" cy="796.2" r="1.75" fill="#e3150f"/><circle cx="163.6" cy="855.0" r="1.75" fill="#f3adb0"/><circle cx="165.5" cy="847.7" r="1.75" fill="#e3150f"/><circle cx="293.2" cy="837.2" r="1.75" fill="#e3150f"/><circle cx="126.1" cy="788.1" r="1.75" fill="#e3150f"/><circle cx="293.0" cy="818.9" r="1.75" fill="#e3150f"/><circle cx="228.9" cy="835.9" r="1.75" fill="#6e80f2"/><circle cx="228.4" cy="823.3" r="1.75" fill="#e3150f"/><circle cx="186.7" cy="853.5" r="1.75" fill="#f3adb0"/><circle cx="309.6" cy="806.0" r="1.75" fill="#e3150f"/><circle cx="357.1" cy="803.6" r="1.75" fill="#e3150f"/><circle cx="165.7" cy="833.1" r="1.75" fill="#f3adb0"/><circle cx="129.7" cy="773.7" r="1.75" fill="#f3adb0"/><circle cx="343.4" cy="828.9" r="1.75" fill="#e3150f"/><circle cx="324.1" cy="810.1" r="1.75" fill="#e3150f"/><circle cx="389.1" cy="802.1" r="1.75" fill="#f3adb0"/><circle cx="145.1" cy="855.0" r="1.75" fill="#e3150f"/><circle cx="289.7" cy="855.3" r="1.75" fill="#e3150f"/><circle cx="382.4" cy="813.0" r="1.75" fill="#e3150f"/><circle cx="329.7" cy="834.1" r="1.75" fill="#6e80f2"/><circle cx="126.0" cy="848.1" r="1.75" fill="#e3150f"/><circle cx="286.3" cy="819.1" r="1.75" fill="#e3150f"/><circle cx="286.1" cy="849.4" r="1.75" fill="#f3adb0"/><circle cx="323.8" cy="794.5" r="1.75" fill="#e3150f"/><circle cx="243.3" cy="786.2" r="1.75" fill="#e3150f"/><circle cx="232.8" cy="768.2" r="1.75" fill="#f3adb0"/><circle cx="122.1" cy="809.8" r="1.75" fill="#f3adb0"/><circle cx="232.8" cy="847.7" r="1.75" fill="#6e80f2"/><circle cx="343.4" cy="818.3" r="1.75" fill="#f3adb0"/><circle cx="186.5" cy="826.5" r="1.75" fill="#e3150f"/><circle cx="297.5" cy="843.6" r="1.75" fill="#e3150f"/><circle cx="125.8" cy="852.8" r="1.75" fill="#f3adb0"/><circle cx="329.9" cy="780.3" r="1.75" fill="#e3150f"/><circle cx="125.9" cy="829.5" r="1.75" fill="#e3150f"/><circle cx="243.6" cy="802.3" r="1.75" fill="#e3150f"/><circle cx="127.8" cy="826.7" r="1.75" fill="#e3150f"/><circle cx="396.1" cy="765.6" r="1.75" fill="#e3150f"/><circle cx="228.4" cy="841.7" r="1.75" fill="#e3150f"/><circle cx="297.5" cy="837.1" r="1.75" fill="#e3150f"/><circle cx="297.6" cy="827.6" r="1.75" fill="#f3adb0"/><circle cx="228.6" cy="850.5" r="1.75" fill="#f3adb0"/><circle cx="207.5" cy="799.1" r="1.75" fill="#e3150f"/><circle cx="272.3" cy="804.7" r="1.75" fill="#f3adb0"/><circle cx="382.4" cy="824.9" r="1.75" fill="#1f1ff0"/><circle cx="343.2" cy="823.8" r="1.75" fill="#e3150f"/><circle cx="120.2" cy="848.4" r="1.75" fill="#f3adb0"/><circle cx="129.8" cy="811.8" r="1.75" fill="#f3adb0"/><circle cx="120.1" cy="790.0" r="1.75" fill="#e3150f"/><circle cx="120.6" cy="817.1" r="1.75" fill="#6e80f2"/><circle cx="385.7" cy="811.2" r="1.75" fill="#6e80f2"/><circle cx="194.3" cy="852.1" r="1.75" fill="#e3150f"/><circle cx="282.8" cy="790.2" r="1.75" fill="#e3150f"/><circle cx="367.5" cy="766.4" r="1.75" fill="#e3150f"/><circle cx="126.0" cy="785.5" r="1.75" fill="#e3150f"/><circle cx="122.3" cy="844.2" r="1.75" fill="#f3adb0"/><circle cx="374.4" cy="825.9" r="1.75" fill="#f3adb0"/><circle cx="329.8" cy="820.9" r="1.75" fill="#e3150f"/><circle cx="356.9" cy="833.2" r="1.75" fill="#e3150f"/><circle cx="343.2" cy="829.5" r="1.75" fill="#e3150f"/><circle cx="120.2" cy="857.0" r="1.75" fill="#f3adb0"/><circle cx="229.0" cy="853.9" r="1.75" fill="#e3150f"/><circle cx="309.8" cy="825.0" r="1.75" fill="#e3150f"/><circle cx="337.2" cy="813.4" r="1.75" fill="#f3adb0"/><circle cx="329.8" cy="773.9" r="1.75" fill="#e3150f"/><circle cx="362.4" cy="772.2" r="1.75" fill="#e3150f"/><circle cx="356.9" cy="857.2" r="1.75" fill="#f3adb0"/><circle cx="374.3" cy="857.2" r="1.75" fill="#e3150f"/><circle cx="289.6" cy="841.6" r="1.75" fill="#6e80f2"/><circle cx="402.3" cy="828.3" r="1.75" fill="#f3adb0"/><circle cx="293.2" cy="779.5" r="1.75" fill="#e3150f"/><circle cx="286.3" cy="764.6" r="1.75" fill="#f3adb0"/><circle cx="378.3" cy="795.6" r="1.75" fill="#e3150f"/><circle cx="186.5" cy="825.0" r="1.75" fill="#e3150f"/><circle cx="282.8" cy="836.7" r="1.75" fill="#6e80f2"/><circle cx="309.5" cy="786.2" r="1.75" fill="#f3adb0"/><circle cx="374.4" cy="855.2" r="1.75" fill="#f3adb0"/><circle cx="154.5" cy="830.2" r="1.75" fill="#e3150f"/><circle cx="207.5" cy="794.2" r="1.75" fill="#e3150f"/><circle cx="127.8" cy="782.2" r="1.75" fill="#e3150f"/><circle cx="382.5" cy="820.1" r="1.75" fill="#e3150f"/><circle cx="329.9" cy="787.2" r="1.75" fill="#f3adb0"/><circle cx="243.4" cy="779.8" r="1.75" fill="#e3150f"/><circle cx="324.2" cy="856.3" r="1.75" fill="#6e80f2"/><circle cx="289.7" cy="841.8" r="1.75" fill="#6e80f2"/><circle cx="229.1" cy="844.4" r="1.75" fill="#e3150f"/><circle cx="125.8" cy="778.8" r="1.75" fill="#e3150f"/><circle cx="286.1" cy="822.1" r="1.75" fill="#f3adb0"/><circle cx="378.3" cy="827.8" r="1.75" fill="#e3150f"/><circle cx="272.2" cy="766.1" r="1.75" fill="#f3adb0"/><circle cx="207.6" cy="787.8" r="1.75" fill="#f3adb0"/><circle cx="243.3" cy="824.8" r="1.75" fill="#6e80f2"/><circle cx="267.6" cy="855.3" r="1.75" fill="#e3150f"/><circle cx="343.3" cy="809.2" r="1.75" fill="#f3adb0"/><circle cx="343.4" cy="824.6" r="1.75" fill="#1f1ff0"/><circle cx="396.2" cy="831.6" r="1.75" fill="#e3150f"/><circle cx="343.4" cy="773.2" r="1.75" fill="#f3adb0"/><circle cx="232.8" cy="829.7" r="1.75" fill="#1f1ff0"/><circle cx="374.2" cy="782.4" r="1.75" fill="#e3150f"/><circle cx="282.6" cy="831.5" r="1.75" fill="#e3150f"/><circle cx="362.3" cy="793.6" r="1.75" fill="#e3150f"/><circle cx="297.7" cy="852.3" r="1.75" fill="#e3150f"/><circle cx="289.6" cy="838.9" r="1.75" fill="#1f1ff0"/><circle cx="272.1" cy="816.7" r="1.75" fill="#6e80f2"/><circle cx="122.2" cy="843.4" r="1.75" fill="#e3150f"/><circle cx="378.5" cy="795.9" r="1.75" fill="#e3150f"/><circle cx="134.7" cy="787.1" r="1.75" fill="#e3150f"/><circle cx="272.2" cy="819.9" r="1.75" fill="#f3adb0"/><circle cx="120.1" cy="795.1" r="1.75" fill="#e3150f"/><circle cx="357.0" cy="787.9" r="1.75" fill="#e3150f"/><circle cx="197.8" cy="855.0" r="1.75" fill="#f3adb0"/><circle cx="286.1" cy="831.3" r="1.75" fill="#e3150f"/><circle cx="337.1" cy="839.8" r="1.75" fill="#e3150f"/><circle cx="129.3" cy="840.1" r="1.75" fill="#6e80f2"/><circle cx="356.9" cy="803.8" r="1.75" fill="#e3150f"/><circle cx="120.1" cy="849.3" r="1.75" fill="#f3adb0"/><circle cx="120.2" cy="793.7" r="1.75" fill="#e3150f"/><circle cx="243.6" cy="789.4" r="1.75" fill="#f3adb0"/><circle cx="126.0" cy="811.7" r="1.75" fill="#e3150f"/><circle cx="374.4" cy="799.7" r="1.75" fill="#f3adb0"/><circle cx="378.5" cy="783.0" r="1.75" fill="#f3adb0"/><circle cx="329.8" cy="826.7" r="1.75" fill="#f3adb0"/><circle cx="124.0" cy="855.8" r="1.75" fill="#f3adb0"/><circle cx="228.6" cy="817.4" r="1.75" fill="#e3150f"/><circle cx="282.7" cy="781.7" r="1.75" fill="#e3150f"/><circle cx="324.0" cy="820.0" r="1.75" fill="#e3150f"/><circle cx="374.4" cy="795.3" r="1.75" fill="#e3150f"/><circle cx="134.7" cy="847.7" r="1.75" fill="#f3adb0"/><circle cx="337.0" cy="854.7" r="1.75" fill="#6e80f2"/><circle cx="129.7" cy="777.8" r="1.75" fill="#e3150f"/><circle cx="343.4" cy="814.3" r="1.75" fill="#e3150f"/><circle cx="382.6" cy="844.7" r="1.75" fill="#f3adb0"/><circle cx="207.6" cy="811.1" r="1.75" fill="#6e80f2"/><circle cx="385.9" cy="768.1" r="1.75" fill="#e3150f"/><circle cx="357.0" cy="779.1" r="1.75" fill="#e3150f"/><circle cx="329.8" cy="845.2" r="1.75" fill="#e3150f"/><circle cx="123.9" cy="838.8" r="1.75" fill="#e3150f"/><circle cx="207.8" cy="802.3" r="1.75" fill="#e3150f"/><circle cx="243.5" cy="795.8" r="1.75" fill="#e3150f"/><circle cx="293.0" cy="785.1" r="1.75" fill="#e3150f"/><circle cx="362.3" cy="839.8" r="1.75" fill="#e3150f"/><circle cx="122.1" cy="846.1" r="1.75" fill="#f3adb0"/><circle cx="272.2" cy="826.4" r="1.75" fill="#e3150f"/><circle cx="293.0" cy="834.1" r="1.75" fill="#e3150f"/><circle cx="165.6" cy="850.6" r="1.75" fill="#f3adb0"/><circle cx="289.6" cy="825.0" r="1.75" fill="#6e80f2"/><circle cx="228.9" cy="831.8" r="1.75" fill="#6e80f2"/><circle cx="129.8" cy="838.0" r="1.75" fill="#f3adb0"/><circle cx="129.8" cy="852.2" r="1.75" fill="#e3150f"/><circle cx="289.6" cy="815.3" r="1.75" fill="#f3adb0"/><circle cx="129.8" cy="847.8" r="1.75" fill="#f3adb0"/><circle cx="293.0" cy="828.0" r="1.75" fill="#e3150f"/><circle cx="343.3" cy="786.3" r="1.75" fill="#e3150f"/><circle cx="225.0" cy="794.0" r="1.75" fill="#e3150f"/><circle cx="232.8" cy="807.7" r="1.75" fill="#e3150f"/><circle cx="357.0" cy="811.0" r="1.75" fill="#f3adb0"/><circle cx="329.9" cy="847.2" r="1.75" fill="#f3adb0"/><circle cx="120.1" cy="773.6" r="1.75" fill="#e3150f"/><circle cx="293.1" cy="793.7" r="1.75" fill="#f3adb0"/><circle cx="128.0" cy="779.3" r="1.75" fill="#e3150f"/><circle cx="232.8" cy="829.6" r="1.75" fill="#6e80f2"/><circle cx="134.7" cy="841.8" r="1.75" fill="#e3150f"/><circle cx="343.4" cy="826.1" r="1.75" fill="#6e80f2"/><circle cx="297.5" cy="839.6" r="1.75" fill="#1f1ff0"/><circle cx="127.7" cy="773.7" r="1.75" fill="#f3adb0"/><circle cx="243.4" cy="808.7" r="1.75" fill="#e3150f"/><circle cx="286.1" cy="832.0" r="1.75" fill="#e3150f"/><circle cx="282.8" cy="804.2" r="1.75" fill="#e3150f"/><circle cx="125.9" cy="847.2" r="1.75" fill="#e3150f"/><circle cx="120.3" cy="819.6" r="1.75" fill="#f3adb0"/><circle cx="229.0" cy="834.6" r="1.75" fill="#e3150f"/><circle cx="374.2" cy="816.4" r="1.75" fill="#e3150f"/><circle cx="357.0" cy="766.4" r="1.75" fill="#e3150f"/><circle cx="120.1" cy="775.3" r="1.75" fill="#e3150f"/><circle cx="357.0" cy="786.7" r="1.75" fill="#e3150f"/><circle cx="120.2" cy="788.2" r="1.75" fill="#e3150f"/><circle cx="129.9" cy="845.8" r="1.75" fill="#f3adb0"/><circle cx="396.1" cy="818.4" r="1.75" fill="#e3150f"/><circle cx="385.8" cy="833.9" r="1.75" fill="#e3150f"/><circle cx="329.8" cy="835.4" r="1.75" fill="#6e80f2"/><circle cx="286.0" cy="828.2" r="1.75" fill="#e3150f"/><circle cx="165.4" cy="836.0" r="1.75" fill="#e3150f"/><circle cx="186.5" cy="847.7" r="1.75" fill="#e3150f"/><circle cx="337.3" cy="806.8" r="1.75" fill="#e3150f"/><circle cx="124.1" cy="787.3" r="1.75" fill="#e3150f"/><circle cx="382.4" cy="817.7" r="1.75" fill="#6e80f2"/><circle cx="120.3" cy="774.5" r="1.75" fill="#f3adb0"/></g>
<path d="M121.0,811.2 L123.4,812.7 L125.7,814.2 L128.1,815.6 L130.4,817.0 L132.8,818.3 L135.2,819.5 L137.5,820.7 L139.9,821.9 L142.3,822.9 L144.6,824.0 L147.0,825.0 L149.3,825.9 L151.7,826.9 L154.1,827.7 L156.4,828.5 L158.8,829.3 L161.1,830.0 L163.5,830.6 L165.9,831.2 L168.2,831.6 L170.6,832.0 L172.9,832.2 L175.3,832.4 L177.7,832.4 L180.0,832.3 L182.4,832.1 L184.8,831.8 L187.1,831.4 L189.5,830.9 L191.8,830.3 L194.2,829.6 L196.6,828.9 L198.9,828.2 L201.3,827.4 L203.6,826.5 L206.0,825.6 L208.4,824.7 L210.7,823.8 L213.1,822.9 L215.5,822.0 L217.8,821.1 L220.2,820.3 L222.5,819.5 L224.9,818.7 L227.3,818.0 L229.6,817.4 L232.0,816.8 L234.3,816.3 L236.7,816.0 L239.1,815.6 L241.4,815.4 L243.8,815.2 L246.2,815.1 L248.5,815.0 L250.9,815.0 L253.2,815.0 L255.6,815.1 L258.0,815.1 L260.3,815.2 L262.7,815.3 L265.0,815.4 L267.4,815.5 L269.8,815.6 L272.1,815.7 L274.5,815.9 L276.8,816.0 L279.2,816.1 L281.6,816.3 L283.9,816.4 L286.3,816.5 L288.7,816.7 L291.0,816.8 L293.4,816.9 L295.7,817.0 L298.1,817.1 L300.5,817.2 L302.8,817.3 L305.2,817.4 L307.5,817.4 L309.9,817.5 L312.3,817.6 L314.6,817.6 L317.0,817.7 L319.4,817.7 L321.7,817.8 L324.1,817.8 L326.4,817.9 L328.8,817.9 L331.2,818.0 L333.5,818.0 L335.9,818.1 L338.2,818.2 L340.6,818.2 L343.0,818.3 L345.3,818.4 L347.7,818.5 L350.1,818.7 L352.4,818.8 L354.8,818.9 L357.1,819.1 L359.5,819.2 L361.9,819.4 L364.2,819.6 L366.6,819.9 L368.9,820.1 L371.3,820.4 L373.7,820.6 L376.0,820.9 L378.4,821.2 L380.7,821.6 L383.1,821.9 L385.5,822.2 L387.8,822.6 L390.2,823.0 L392.6,823.3 L394.9,823.7 L397.3,824.1 L399.6,824.5 L402.0,824.9" fill="none" stroke="#e3150f" stroke-width="1.9" stroke-linecap="round"/>
<path d="M121.0,826.0 L123.4,826.8 L125.7,827.6 L128.1,828.3 L130.4,829.1 L132.8,829.9 L135.2,830.7 L137.5,831.4 L139.9,832.1 L142.3,832.8 L144.6,833.5 L147.0,834.1 L149.3,834.8 L151.7,835.3 L154.1,835.9 L156.4,836.4 L158.8,836.8 L161.1,837.2 L163.5,837.6 L165.9,837.8 L168.2,838.0 L170.6,838.2 L172.9,838.2 L175.3,838.2 L177.7,838.1 L180.0,838.0 L182.4,837.8 L184.8,837.5 L187.1,837.2 L189.5,836.8 L191.8,836.3 L194.2,835.8 L196.6,835.2 L198.9,834.6 L201.3,833.9 L203.6,833.2 L206.0,832.5 L208.4,831.7 L210.7,830.9 L213.1,830.1 L215.5,829.3 L217.8,828.5 L220.2,827.7 L222.5,827.0 L224.9,826.3 L227.3,825.6 L229.6,825.0 L232.0,824.4 L234.3,823.9 L236.7,823.5 L239.1,823.1 L241.4,822.8 L243.8,822.5 L246.2,822.3 L248.5,822.1 L250.9,821.9 L253.2,821.7 L255.6,821.6 L258.0,821.5 L260.3,821.4 L262.7,821.3 L265.0,821.2 L267.4,821.1 L269.8,821.0 L272.1,820.9 L274.5,820.8 L276.8,820.8 L279.2,820.7 L281.6,820.6 L283.9,820.5 L286.3,820.5 L288.7,820.4 L291.0,820.4 L293.4,820.3 L295.7,820.3 L298.1,820.2 L300.5,820.2 L302.8,820.1 L305.2,820.1 L307.5,820.1 L309.9,820.0 L312.3,820.0 L314.6,820.0 L317.0,819.9 L319.4,819.9 L321.7,819.8 L324.1,819.8 L326.4,819.7 L328.8,819.6 L331.2,819.5 L333.5,819.4 L335.9,819.3 L338.2,819.2 L340.6,819.1 L343.0,818.9 L345.3,818.8 L347.7,818.6 L350.1,818.4 L352.4,818.2 L354.8,817.9 L357.1,817.7 L359.5,817.5 L361.9,817.2 L364.2,817.0 L366.6,816.7 L368.9,816.4 L371.3,816.2 L373.7,815.9 L376.0,815.6 L378.4,815.4 L380.7,815.1 L383.1,814.8 L385.5,814.5 L387.8,814.2 L390.2,813.9 L392.6,813.6 L394.9,813.4 L397.3,813.1 L399.6,812.8 L402.0,812.5" fill="none" stroke="#f0a0a4" stroke-width="1.9" stroke-linecap="round"/>
<path d="M121.0,825.9 L123.4,826.8 L125.7,827.6 L128.1,828.4 L130.4,829.3 L132.8,830.1 L135.2,830.9 L137.5,831.7 L139.9,832.5 L142.3,833.2 L144.6,834.0 L147.0,834.7 L149.3,835.4 L151.7,836.1 L154.1,836.8 L156.4,837.4 L158.8,838.0 L161.1,838.6 L163.5,839.1 L165.9,839.6 L168.2,840.1 L170.6,840.6 L172.9,841.0 L175.3,841.4 L177.7,841.7 L180.0,842.0 L182.4,842.3 L184.8,842.5 L187.1,842.7 L189.5,842.8 L191.8,842.9 L194.2,843.0 L196.6,843.0 L198.9,843.0 L201.3,842.9 L203.6,842.8 L206.0,842.6 L208.4,842.4 L210.7,842.2 L213.1,841.9 L215.5,841.6 L217.8,841.3 L220.2,841.0 L222.5,840.7 L224.9,840.4 L227.3,840.1 L229.6,839.7 L232.0,839.4 L234.3,839.1 L236.7,838.9 L239.1,838.6 L241.4,838.3 L243.8,838.1 L246.2,837.9 L248.5,837.7 L250.9,837.5 L253.2,837.3 L255.6,837.2 L258.0,837.1 L260.3,837.0 L262.7,836.9 L265.0,836.8 L267.4,836.8 L269.8,836.7 L272.1,836.7 L274.5,836.7 L276.8,836.6 L279.2,836.6 L281.6,836.6 L283.9,836.6 L286.3,836.6 L288.7,836.6 L291.0,836.5 L293.4,836.5 L295.7,836.4 L298.1,836.3 L300.5,836.2 L302.8,836.1 L305.2,836.0 L307.5,835.9 L309.9,835.7 L312.3,835.5 L314.6,835.4 L317.0,835.2 L319.4,835.0 L321.7,834.9 L324.1,834.7 L326.4,834.6 L328.8,834.5 L331.2,834.3 L333.5,834.2 L335.9,834.2 L338.2,834.1 L340.6,834.1 L343.0,834.1 L345.3,834.2 L347.7,834.2 L350.1,834.3 L352.4,834.5 L354.8,834.6 L357.1,834.8 L359.5,835.1 L361.9,835.3 L364.2,835.6 L366.6,836.0 L368.9,836.3 L371.3,836.7 L373.7,837.2 L376.0,837.6 L378.4,838.1 L380.7,838.6 L383.1,839.2 L385.5,839.7 L387.8,840.3 L390.2,840.9 L392.6,841.5 L394.9,842.1 L397.3,842.8 L399.6,843.4 L402.0,844.0" fill="none" stroke="#1a1ae6" stroke-width="1.9" stroke-linecap="round"/>
<path d="M121.0,849.4 L123.4,849.4 L125.7,849.5 L128.1,849.6 L130.4,849.6 L132.8,849.7 L135.2,849.7 L137.5,849.8 L139.9,849.8 L142.3,849.9 L144.6,849.9 L147.0,849.9 L149.3,849.9 L151.7,849.9 L154.1,849.9 L156.4,849.9 L158.8,849.9 L161.1,849.9 L163.5,849.8 L165.9,849.8 L168.2,849.7 L170.6,849.6 L172.9,849.5 L175.3,849.4 L177.7,849.2 L180.0,849.1 L182.4,848.9 L184.8,848.8 L187.1,848.6 L189.5,848.4 L191.8,848.2 L194.2,847.9 L196.6,847.7 L198.9,847.5 L201.3,847.2 L203.6,847.0 L206.0,846.8 L208.4,846.6 L210.7,846.3 L213.1,846.1 L215.5,845.9 L217.8,845.7 L220.2,845.5 L222.5,845.3 L224.9,845.1 L227.3,844.9 L229.6,844.8 L232.0,844.7 L234.3,844.5 L236.7,844.4 L239.1,844.4 L241.4,844.3 L243.8,844.2 L246.2,844.2 L248.5,844.2 L250.9,844.1 L253.2,844.1 L255.6,844.1 L258.0,844.1 L260.3,844.0 L262.7,844.0 L265.0,844.0 L267.4,844.0 L269.8,844.0 L272.1,843.9 L274.5,843.9 L276.8,843.9 L279.2,843.9 L281.6,843.8 L283.9,843.8 L286.3,843.8 L288.7,843.8 L291.0,843.7 L293.4,843.7 L295.7,843.7 L298.1,843.6 L300.5,843.6 L302.8,843.5 L305.2,843.5 L307.5,843.4 L309.9,843.4 L312.3,843.3 L314.6,843.3 L317.0,843.2 L319.4,843.2 L321.7,843.2 L324.1,843.1 L326.4,843.1 L328.8,843.1 L331.2,843.1 L333.5,843.1 L335.9,843.1 L338.2,843.1 L340.6,843.2 L343.0,843.2 L345.3,843.3 L347.7,843.3 L350.1,843.4 L352.4,843.5 L354.8,843.6 L357.1,843.7 L359.5,843.9 L361.9,844.0 L364.2,844.2 L366.6,844.3 L368.9,844.5 L371.3,844.7 L373.7,844.9 L376.0,845.1 L378.4,845.3 L380.7,845.6 L383.1,845.8 L385.5,846.0 L387.8,846.3 L390.2,846.6 L392.6,846.8 L394.9,847.1 L397.3,847.4 L399.6,847.6 L402.0,847.9" fill="none" stroke="#6e80f2" stroke-width="1.9" stroke-linecap="round"/>
<line x1="107.60" y1="759.10" x2="415.60" y2="759.10" stroke="#707070" stroke-width="1.8" />
<line x1="107.60" y1="758.80" x2="107.60" y2="861.00" stroke="#111" stroke-width="1.2" />
<line x1="415.60" y1="758.80" x2="415.60" y2="861.00" stroke="#111" stroke-width="1.2" />
<line x1="107.00" y1="861.00" x2="416.20" y2="861.00" stroke="#111" stroke-width="1.2" />
<line x1="121.20" y1="861.00" x2="121.20" y2="865.50" stroke="#111" stroke-width="1.3" />
<line x1="214.00" y1="861.00" x2="214.00" y2="865.50" stroke="#111" stroke-width="1.3" />
<line x1="307.00" y1="861.00" x2="307.00" y2="865.50" stroke="#111" stroke-width="1.3" />
<line x1="400.00" y1="861.00" x2="400.00" y2="865.50" stroke="#111" stroke-width="1.3" />
<rect x="120.90" y="866.10" width="19.10" height="14.70" fill="#7cc4b8"/>
<rect x="224.20" y="866.10" width="19.30" height="14.70" fill="#7cc4b8"/>
<rect x="266.80" y="866.10" width="136.50" height="14.70" fill="#7cc4b8"/>
<text x="130.40" y="876.60" font-size="8.6" text-anchor="middle" fill="#333" textLength="18.6" lengthAdjust="spacingAndGlyphs">DMR1</text>
<text x="233.90" y="876.60" font-size="8.6" text-anchor="middle" fill="#333" textLength="18.6" lengthAdjust="spacingAndGlyphs">DMR2</text>
<text x="332.10" y="877.00" font-size="9.6" text-anchor="middle" fill="#222" textLength="25.6" lengthAdjust="spacingAndGlyphs">DMR3</text>
<rect x="120.90" y="886.50" width="169.70" height="14.30" fill="#eff23c"/>
<rect x="290.60" y="886.50" width="69.00" height="14.30" fill="#3aa02a"/>
<rect x="359.60" y="886.50" width="9.60" height="14.30" fill="#eff23c"/>
<rect x="369.20" y="886.50" width="24.40" height="14.30" fill="#3aa02a"/>
<rect x="393.60" y="886.50" width="9.70" height="14.30" fill="#eff23c"/>
<rect x="120.90" y="886.50" width="282.40" height="14.30" fill="none" stroke="#222" stroke-width="0.9"/>
<line x1="290.60" y1="886.50" x2="290.60" y2="900.80" stroke="#222" stroke-width="0.7" />
<line x1="359.60" y1="886.50" x2="359.60" y2="900.80" stroke="#222" stroke-width="0.7" />
<line x1="369.20" y1="886.50" x2="369.20" y2="900.80" stroke="#222" stroke-width="0.7" />
<line x1="393.60" y1="886.50" x2="393.60" y2="900.80" stroke="#222" stroke-width="0.7" />
<text x="198.70" y="897.30" font-size="9.4" text-anchor="middle" fill="#222" textLength="23.5" lengthAdjust="spacingAndGlyphs">Island</text>
<text x="323.00" y="897.60" font-size="9.4" text-anchor="middle" fill="#fff" textLength="23.5" lengthAdjust="spacingAndGlyphs">Shore</text>
<rect x="120.90" y="906.20" width="84.90" height="14.10" fill="#f07a22"/>
<rect x="205.80" y="906.20" width="25.20" height="14.10" fill="#ff46f8"/>
<rect x="120.90" y="906.20" width="110.10" height="14.10" fill="none" stroke="#222" stroke-width="0.9"/>
<line x1="205.80" y1="906.20" x2="205.80" y2="920.30" stroke="#222" stroke-width="0.7" />
<text x="165.80" y="916.80" font-size="9.4" text-anchor="middle" fill="#222" textLength="22" lengthAdjust="spacingAndGlyphs">5'UTR</text>
<rect x="290.60" y="906.20" width="56.20" height="14.10" fill="#ff46f8"/>
<rect x="290.60" y="906.20" width="56.20" height="14.10" fill="none" stroke="#222" stroke-width="0.9"/>
<text x="317.80" y="917.00" font-size="9.4" text-anchor="middle" fill="#fff" textLength="21" lengthAdjust="spacingAndGlyphs">Prom</text>
<text x="505.40" y="607.70" font-size="11.0" text-anchor="middle" textLength="72" lengthAdjust="spacingAndGlyphs">SATB2 DMR 2</text>
<text x="501.90" y="623.10" font-size="9.6" text-anchor="middle" textLength="137.6" lengthAdjust="spacingAndGlyphs">chr2:200,326,361-200,327,336</text>
<line x1="432.80" y1="631.30" x2="570.30" y2="631.30" stroke="#707070" stroke-width="1.8" />
<line x1="432.80" y1="631.00" x2="432.80" y2="734.60" stroke="#111" stroke-width="1.2" />
<line x1="570.30" y1="631.00" x2="570.30" y2="734.60" stroke="#111" stroke-width="1.2" />
<line x1="432.20" y1="734.60" x2="570.90" y2="734.60" stroke="#111" stroke-width="1.2" />
<line x1="570.30" y1="659.00" x2="574.90" y2="659.00" stroke="#111" stroke-width="1.3" />
<text x="581.50" y="662.70" font-size="10.6">MT</text>
<line x1="570.30" y1="706.20" x2="574.90" y2="706.20" stroke="#111" stroke-width="1.3" />
<text x="581.50" y="709.90" font-size="10.6">BN</text>
<line x1="432.80" y1="734.60" x2="432.80" y2="738.80" stroke="#111" stroke-width="1.3" />
<line x1="467.18" y1="734.60" x2="467.18" y2="738.80" stroke="#111" stroke-width="1.3" />
<line x1="501.55" y1="734.60" x2="501.55" y2="738.80" stroke="#111" stroke-width="1.3" />
<line x1="535.92" y1="734.60" x2="535.92" y2="738.80" stroke="#111" stroke-width="1.3" />
<line x1="570.30" y1="734.60" x2="570.30" y2="738.80" stroke="#111" stroke-width="1.3" />
<line x1="445.70" y1="659.00" x2="549.40" y2="659.00" stroke="#555" stroke-width="1.0" />
<rect x="456.90" y="650.00" width="78.70" height="18.00" fill="#8a1010" stroke="#3a3a3a" stroke-width="1.0"/>
<line x1="515.40" y1="650.00" x2="515.40" y2="668.00" stroke="#3a3a3a" stroke-width="1.6" />
<line x1="438.30" y1="706.20" x2="461.70" y2="706.20" stroke="#555" stroke-width="1.0" />
<rect x="449.90" y="697.40" width="10.20" height="17.60" fill="#1a10f0" stroke="#3a3a3a" stroke-width="1.0"/>
<line x1="454.40" y1="697.40" x2="454.40" y2="715.00" stroke="#3a3a3a" stroke-width="1.6" />
<circle cx="476.20" cy="706.20" r="1.60" fill="#222"/>
<circle cx="480.20" cy="706.20" r="1.60" fill="#222"/>
<circle cx="485.80" cy="706.20" r="1.60" fill="#222"/>
<line x1="432.80" y1="761.30" x2="570.30" y2="761.30" stroke="#707070" stroke-width="1.8" />
<line x1="432.80" y1="761.00" x2="432.80" y2="863.30" stroke="#111" stroke-width="1.2" />
<line x1="570.30" y1="761.00" x2="570.30" y2="863.30" stroke="#111" stroke-width="1.2" />
<line x1="432.20" y1="863.30" x2="570.90" y2="863.30" stroke="#111" stroke-width="1.2" />
<line x1="570.30" y1="775.60" x2="574.90" y2="775.60" stroke="#111" stroke-width="1.3" />
<text x="579.70" y="779.30" font-size="10.6">MUT</text>
<line x1="570.30" y1="800.00" x2="574.90" y2="800.00" stroke="#111" stroke-width="1.3" />
<text x="579.70" y="803.70" font-size="10.6">WT</text>
<line x1="570.30" y1="825.00" x2="574.90" y2="825.00" stroke="#111" stroke-width="1.3" />
<text x="579.70" y="828.70" font-size="10.6">MUT</text>
<line x1="570.30" y1="850.10" x2="574.90" y2="850.10" stroke="#111" stroke-width="1.3" />
<text x="579.70" y="853.80" font-size="10.6">WT</text>
<line x1="432.80" y1="863.30" x2="432.80" y2="867.50" stroke="#111" stroke-width="1.3" />
<text x="432.80" y="881.20" font-size="10.2" text-anchor="middle" textLength="21.0" lengthAdjust="spacingAndGlyphs">0.00</text>
<line x1="467.18" y1="863.30" x2="467.18" y2="867.50" stroke="#111" stroke-width="1.3" />
<text x="467.18" y="881.20" font-size="10.2" text-anchor="middle" textLength="21.0" lengthAdjust="spacingAndGlyphs">0.25</text>
<line x1="501.55" y1="863.30" x2="501.55" y2="867.50" stroke="#111" stroke-width="1.3" />
<text x="501.55" y="881.20" font-size="10.2" text-anchor="middle" textLength="21.0" lengthAdjust="spacingAndGlyphs">0.50</text>
<line x1="535.92" y1="863.30" x2="535.92" y2="867.50" stroke="#111" stroke-width="1.3" />
<text x="535.92" y="881.20" font-size="10.2" text-anchor="middle" textLength="21.0" lengthAdjust="spacingAndGlyphs">0.75</text>
<line x1="570.30" y1="863.30" x2="570.30" y2="867.50" stroke="#111" stroke-width="1.3" />
<text x="570.30" y="881.20" font-size="10.2" text-anchor="middle" textLength="21.0" lengthAdjust="spacingAndGlyphs">1.00</text>
<text x="501.85" y="896.00" font-size="11.0" text-anchor="middle" textLength="37.6" lengthAdjust="spacingAndGlyphs">β values</text>
<line x1="449.50" y1="775.60" x2="550.00" y2="775.60" stroke="#555" stroke-width="1.0" />
<rect x="483.30" y="766.15" width="52.30" height="18.90" fill="#e11e18" stroke="#3a3a3a" stroke-width="1.0"/>
<line x1="520.20" y1="766.15" x2="520.20" y2="785.05" stroke="#3a3a3a" stroke-width="1.6" />
<line x1="445.70" y1="800.00" x2="542.00" y2="800.00" stroke="#555" stroke-width="1.0" />
<rect x="447.00" y="790.70" width="81.50" height="18.60" fill="#f2b2b6" stroke="#3a3a3a" stroke-width="1.0"/>
<line x1="482.60" y1="790.70" x2="482.60" y2="809.30" stroke="#3a3a3a" stroke-width="1.6" />
<line x1="452.10" y1="825.00" x2="463.40" y2="825.00" stroke="#555" stroke-width="1.0" />
<rect x="454.00" y="815.80" width="9.40" height="18.40" fill="#1a10e6" stroke="#3a3a3a" stroke-width="1.0"/>
<line x1="454.70" y1="815.80" x2="454.70" y2="834.20" stroke="#3a3a3a" stroke-width="1.6" />
<circle cx="485.80" cy="825.00" r="1.60" fill="#222"/>
<line x1="438.30" y1="850.10" x2="480.00" y2="850.10" stroke="#555" stroke-width="1.0" />
<rect x="449.50" y="840.80" width="15.80" height="18.60" fill="#7a86f2" stroke="#3a3a3a" stroke-width="1.0"/>
<line x1="454.70" y1="840.80" x2="454.70" y2="859.40" stroke="#3a3a3a" stroke-width="1.6" />
<line x1="611.40" y1="771.70" x2="611.40" y2="810.90" stroke="#111" stroke-width="1.3" />
<line x1="611.40" y1="819.90" x2="611.40" y2="858.50" stroke="#111" stroke-width="1.3" />
<text x="615.90" y="795.00" font-size="10.6">MT</text>
<text x="615.90" y="840.90" font-size="10.6">BN</text>
</svg></body></html>
